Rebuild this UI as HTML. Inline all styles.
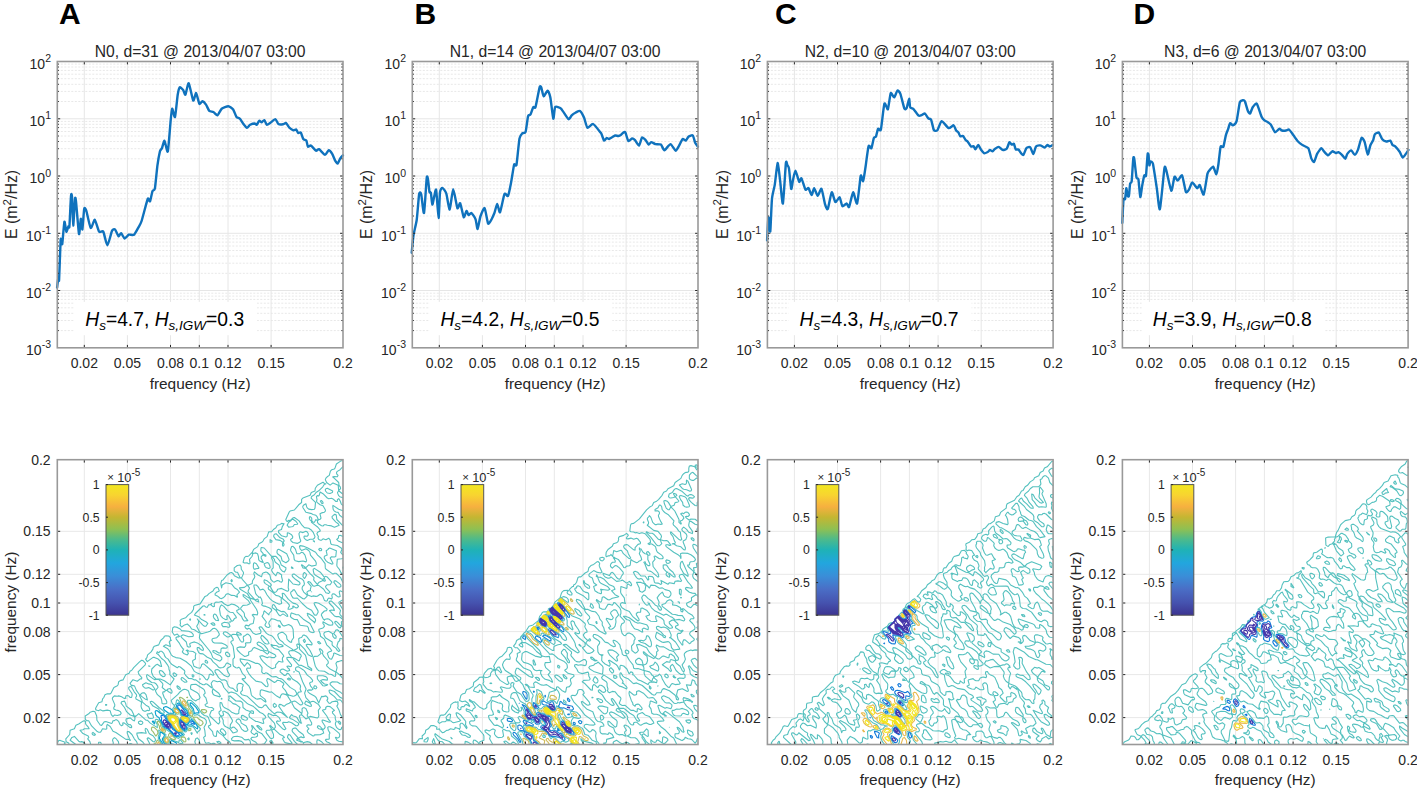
<!DOCTYPE html><html><head><meta charset="utf-8"><style>html,body{margin:0;padding:0;background:#fff;width:1417px;height:789px;overflow:hidden}svg{display:block}text{font-family:"Liberation Sans",sans-serif}</style></head><body>
<svg width="1417" height="789" viewBox="0 0 1417 789">
<rect width="1417" height="789" fill="#fff"/>
<text x="59.1" y="24.2" font-size="30" font-weight="bold" fill="#000">A</text>
<text x="200.1" y="56.7" font-size="15.7" text-anchor="middle" fill="#262626">N0, d=31 @ 2013/04/07 03:00</text>
<path d="M57.3 330.6H343.0M57.3 320.5H343.0M57.3 313.3H343.0M57.3 307.8H343.0M57.3 303.2H343.0M57.3 299.4H343.0M57.3 296.1H343.0M57.3 293.2H343.0M57.3 273.3H343.0M57.3 263.2H343.0M57.3 256.1H343.0M57.3 250.5H343.0M57.3 246.0H343.0M57.3 242.1H343.0M57.3 238.8H343.0M57.3 235.9H343.0M57.3 216.0H343.0M57.3 206.0H343.0M57.3 198.8H343.0M57.3 193.3H343.0M57.3 188.7H343.0M57.3 184.9H343.0M57.3 181.6H343.0M57.3 178.6H343.0M57.3 158.8H343.0M57.3 148.7H343.0M57.3 141.5H343.0M57.3 136.0H343.0M57.3 131.5H343.0M57.3 127.6H343.0M57.3 124.3H343.0M57.3 121.4H343.0M57.3 101.5H343.0M57.3 91.4H343.0M57.3 84.3H343.0M57.3 78.7H343.0M57.3 74.2H343.0M57.3 70.4H343.0M57.3 67.0H343.0M57.3 64.1H343.0" stroke="#e8e8e8" stroke-width="1" stroke-dasharray="2 1.5" fill="none"/>
<path d="M57.3 290.5H343.0M57.3 233.3H343.0M57.3 176.0H343.0M57.3 118.8H343.0M84.3 61.5V347.8M127.4 61.5V347.8M170.5 61.5V347.8M199.3 61.5V347.8M228.0 61.5V347.8M271.1 61.5V347.8" stroke="#e6e6e6" stroke-width="1" fill="none"/>
<rect x="74.1" y="301.9" width="183" height="33.3" fill="#fff"/>
<path d="M57.1 287.5C57.2 286.6 58.1 279.2 58.3 278.4C58.5 277.6 58.9 283.4 59.1 279.6C59.3 275.8 60.4 244.8 60.6 240.8C60.8 236.8 60.9 239.7 61.1 240.0C61.3 240.3 62.0 245.6 62.3 243.8C62.6 242.0 64.0 223.0 64.4 221.8C64.8 220.6 66.0 231.2 66.4 231.7C66.8 232.2 68.1 226.9 68.4 226.4C68.7 225.9 69.1 229.4 69.4 226.4C69.7 223.4 70.7 199.0 71.0 196.0C71.3 193.0 71.8 193.7 72.0 196.7C72.2 199.7 72.9 225.4 73.2 225.6C73.5 225.8 74.7 201.4 75.0 199.0C75.3 196.6 75.6 197.8 76.0 201.3C76.4 204.8 78.5 232.2 79.0 234.0C79.5 235.8 80.5 219.3 80.8 218.8C81.1 218.3 82.1 230.4 82.4 229.4C82.7 228.4 83.8 210.8 84.2 208.9C84.6 207.0 85.5 208.5 86.2 210.4C86.9 212.3 89.8 227.0 90.7 227.9C91.6 228.8 94.0 219.4 94.8 219.8C95.6 220.2 98.2 230.5 99.1 231.7C99.9 232.9 102.5 230.3 103.3 231.7C104.1 233.1 106.5 245.4 107.4 245.3C108.3 245.2 111.2 232.5 112.0 230.9C112.8 229.3 114.3 228.9 115.0 229.4C115.7 229.9 117.9 235.8 118.5 236.2C119.1 236.6 120.5 233.0 121.1 233.2C121.7 233.4 123.8 238.3 124.6 238.5C125.4 238.7 127.8 235.1 128.7 234.7C129.6 234.3 133.0 235.5 134.0 234.7C135.0 233.9 137.8 228.5 138.6 227.1C139.4 225.7 140.7 223.8 141.6 221.0C142.5 218.2 146.9 201.0 147.7 199.0C148.5 197.0 149.5 202.1 150.0 201.3C150.5 200.5 152.0 192.4 152.5 191.1C153.0 189.8 154.4 191.2 154.9 188.6C155.4 186.0 156.9 169.3 157.4 165.6C157.9 161.9 159.5 153.2 159.9 151.5C160.3 149.8 161.4 149.4 161.9 148.3C162.4 147.2 163.9 140.5 164.5 140.8C165.1 141.1 167.2 153.5 167.8 151.5C168.4 149.5 170.2 125.4 170.6 121.1C171.0 116.8 171.8 109.1 172.2 108.7C172.6 108.3 174.4 118.4 175.0 117.0C175.6 115.6 177.2 97.7 177.7 94.7C178.2 91.7 179.2 87.8 179.7 87.3C180.2 86.8 182.4 89.1 183.0 89.8C183.6 90.5 184.8 95.4 185.4 94.7C186.0 94.0 187.9 82.6 188.7 83.2C189.5 83.8 192.5 99.5 193.2 100.5C193.9 101.5 195.5 92.8 196.1 93.1C196.7 93.4 198.8 103.0 199.4 103.8C200.0 104.6 201.7 101.2 202.4 101.3C203.1 101.4 205.3 103.6 206.0 104.6C206.7 105.6 208.6 110.2 209.3 110.9C210.0 111.6 212.6 111.6 213.4 112.0C214.2 112.4 216.7 115.6 217.5 115.3C218.3 115.0 220.6 109.6 221.7 108.7C222.8 107.8 227.2 106.1 228.3 106.2C229.5 106.3 232.4 108.4 233.2 109.5C234.0 110.6 235.8 116.1 236.5 117.0C237.2 117.9 239.1 117.9 239.8 118.6C240.5 119.2 242.4 122.6 243.1 123.5C243.8 124.4 246.3 127.8 247.0 127.9C247.7 128.0 249.3 125.2 250.1 124.8C250.9 124.4 253.9 123.5 254.6 123.5C255.3 123.5 256.2 125.1 256.7 124.8C257.2 124.5 258.7 121.0 259.2 120.8C259.7 120.5 261.2 122.4 261.7 122.3C262.2 122.2 263.8 119.8 264.3 120.1C264.8 120.3 266.2 124.5 266.8 124.8C267.4 125.1 269.5 123.4 270.4 122.8C271.3 122.2 274.6 119.0 275.4 119.1C276.2 119.2 277.7 123.6 278.5 124.1C279.3 124.6 282.2 124.4 283.0 124.3C283.8 124.2 285.4 122.7 286.1 123.1C286.8 123.5 288.8 127.2 289.6 127.9C290.4 128.6 293.0 130.2 293.7 130.4C294.4 130.6 295.8 129.1 296.2 129.4C296.6 129.7 297.7 132.7 298.2 133.0C298.7 133.3 300.3 131.9 300.8 132.5C301.3 133.1 302.7 138.2 303.3 139.0C303.9 139.8 305.9 139.8 306.4 140.6C306.9 141.4 307.4 146.2 307.9 146.7C308.3 147.2 310.1 145.2 310.9 145.6C311.7 146.0 315.2 150.3 316.0 150.7C316.8 151.1 318.1 148.8 319.0 149.2C319.9 149.6 324.1 154.7 325.1 154.8C326.1 154.9 328.0 150.3 328.7 150.2C329.4 150.1 331.5 152.7 332.2 153.8C332.9 154.9 334.7 159.9 335.3 160.9C335.9 161.9 337.3 163.7 337.8 163.4C338.3 163.1 339.8 159.1 340.3 158.3C340.8 157.5 342.6 155.6 342.9 155.3" stroke="#0f72bd" stroke-width="2.4" fill="none" stroke-linejoin="round" stroke-linecap="round"/>
<path d="M57.3 290.5h2.9M343.0 290.5h-2.9M57.3 233.3h2.9M343.0 233.3h-2.9M57.3 176.0h2.9M343.0 176.0h-2.9M57.3 118.8h2.9M343.0 118.8h-2.9M57.3 330.6h1.6M343.0 330.6h-1.6M57.3 320.5h1.6M343.0 320.5h-1.6M57.3 313.3h1.6M343.0 313.3h-1.6M57.3 307.8h1.6M343.0 307.8h-1.6M57.3 303.2h1.6M343.0 303.2h-1.6M57.3 299.4h1.6M343.0 299.4h-1.6M57.3 296.1h1.6M343.0 296.1h-1.6M57.3 293.2h1.6M343.0 293.2h-1.6M57.3 273.3h1.6M343.0 273.3h-1.6M57.3 263.2h1.6M343.0 263.2h-1.6M57.3 256.1h1.6M343.0 256.1h-1.6M57.3 250.5h1.6M343.0 250.5h-1.6M57.3 246.0h1.6M343.0 246.0h-1.6M57.3 242.1h1.6M343.0 242.1h-1.6M57.3 238.8h1.6M343.0 238.8h-1.6M57.3 235.9h1.6M343.0 235.9h-1.6M57.3 216.0h1.6M343.0 216.0h-1.6M57.3 206.0h1.6M343.0 206.0h-1.6M57.3 198.8h1.6M343.0 198.8h-1.6M57.3 193.3h1.6M343.0 193.3h-1.6M57.3 188.7h1.6M343.0 188.7h-1.6M57.3 184.9h1.6M343.0 184.9h-1.6M57.3 181.6h1.6M343.0 181.6h-1.6M57.3 178.6h1.6M343.0 178.6h-1.6M57.3 158.8h1.6M343.0 158.8h-1.6M57.3 148.7h1.6M343.0 148.7h-1.6M57.3 141.5h1.6M343.0 141.5h-1.6M57.3 136.0h1.6M343.0 136.0h-1.6M57.3 131.5h1.6M343.0 131.5h-1.6M57.3 127.6h1.6M343.0 127.6h-1.6M57.3 124.3h1.6M343.0 124.3h-1.6M57.3 121.4h1.6M343.0 121.4h-1.6M57.3 101.5h1.6M343.0 101.5h-1.6M57.3 91.4h1.6M343.0 91.4h-1.6M57.3 84.3h1.6M343.0 84.3h-1.6M57.3 78.7h1.6M343.0 78.7h-1.6M57.3 74.2h1.6M343.0 74.2h-1.6M57.3 70.4h1.6M343.0 70.4h-1.6M57.3 67.0h1.6M343.0 67.0h-1.6M57.3 64.1h1.6M343.0 64.1h-1.6M84.3 61.5v2.9M84.3 347.8v-2.9M127.4 61.5v2.9M127.4 347.8v-2.9M170.5 61.5v2.9M170.5 347.8v-2.9M199.3 61.5v2.9M199.3 347.8v-2.9M228.0 61.5v2.9M228.0 347.8v-2.9M271.1 61.5v2.9M271.1 347.8v-2.9" stroke="#262626" stroke-width="1" fill="none"/>
<rect x="57.3" y="61.5" width="285.7" height="286.3" fill="none" stroke="#999" stroke-width="1.6"/>
<text x="51.0" y="355.2" font-size="14" text-anchor="end" fill="#262626">10<tspan font-size="10.5" dy="-6.8">-3</tspan></text>
<text x="51.0" y="297.9" font-size="14" text-anchor="end" fill="#262626">10<tspan font-size="10.5" dy="-6.8">-2</tspan></text>
<text x="51.0" y="240.7" font-size="14" text-anchor="end" fill="#262626">10<tspan font-size="10.5" dy="-6.8">-1</tspan></text>
<text x="51.0" y="183.4" font-size="14" text-anchor="end" fill="#262626">10<tspan font-size="10.5" dy="-6.8">0</tspan></text>
<text x="51.0" y="126.2" font-size="14" text-anchor="end" fill="#262626">10<tspan font-size="10.5" dy="-6.8">1</tspan></text>
<text x="51.0" y="68.9" font-size="14" text-anchor="end" fill="#262626">10<tspan font-size="10.5" dy="-6.8">2</tspan></text>
<text x="84.3" y="368" font-size="14" text-anchor="middle" fill="#262626">0.02</text>
<text x="127.4" y="368" font-size="14" text-anchor="middle" fill="#262626">0.05</text>
<text x="170.5" y="368" font-size="14" text-anchor="middle" fill="#262626">0.08</text>
<text x="199.3" y="368" font-size="14" text-anchor="middle" fill="#262626">0.1</text>
<text x="228.0" y="368" font-size="14" text-anchor="middle" fill="#262626">0.12</text>
<text x="271.1" y="368" font-size="14" text-anchor="middle" fill="#262626">0.15</text>
<text x="343.0" y="368" font-size="14" text-anchor="middle" fill="#262626">0.2</text>
<text x="200.1" y="388.9" font-size="15.4" text-anchor="middle" fill="#262626">frequency (Hz)</text>
<text transform="translate(17.4 204.4) rotate(-90)" font-size="15.9" text-anchor="middle" fill="#262626">E (m<tspan font-size="11.5" dy="-6.5">2</tspan><tspan dy="6.5">/Hz)</tspan></text>
<text x="85.2" y="325.8" font-size="19.3" fill="#000"><tspan font-style="italic">H</tspan><tspan font-size="13.5" font-style="italic" dy="3.7">s</tspan><tspan dy="-3.7">=4.7, </tspan><tspan font-style="italic">H</tspan><tspan font-size="13.5" font-style="italic" dy="3.7">s,IGW</tspan><tspan dy="-3.7">=0.3</tspan></text>
<path d="M84.3 459.7V744.5M57.3 717.6H343.0M127.4 459.7V744.5M57.3 674.6H343.0M170.5 459.7V744.5M57.3 631.6H343.0M199.3 459.7V744.5M57.3 603.0H343.0M228.0 459.7V744.5M57.3 574.3H343.0M271.1 459.7V744.5M57.3 531.3H343.0" stroke="#e8e8e8" stroke-width="1" fill="none"/>
<path d="M343 497.8l-3.2-1.1-1.1-1-0.8-1.8-0.4-1.4 1-1.5 0.1-1.4-0.4-4.3-5.2-2.4-2.9 2.2-3.5-2.6-1.3-2.9 0.6-1.4 1.3-1.4 2.1-1.4 1.1-4.3 1.2-1.3 2.8-0.9 0.6-0.7 1.4-4.2 4.2-2.9 1-0.4 1.4 0M343 466.5l-2.9 3.2-2.8 1.7-0.8 1.1 0.2 1.4 1.3 1.5-0.7 1.4-2.9-0.3-1.6 0.3 0.2 0.6 1.4 0.9 4.3 4.2 0.3 2.8 1.1 1.3 0.5 1.6-0.5 1-1 0.4-0.1 1.4 4 3.2M137.3 744.5l-0.1-1.4-0.6-1.4-2.3-2.9-2.4-4.3-3.2-3-1.4 0.1-0.1 1.5 2.2 5.7-0.7 0.7-2.8-0.1-10-6.9-2.9-1.2-2.8-4.8-2.9-2.1-0.6 1.6 0.1 2.8-0.9 0.4-3.4-0.4-1.6 2.9-0.7 0.5-1.5 0-1.4-0.6-5.7-5.7-2.9-5.2-1.4 0-1.4-0.7-0.6-1.1-0.1-2.9 3.5-2.2 1.5-1.6 2.8-0.9 1.4 0.2 0.5 0.2 1.8 4.3 0.2 4.3 3.3 4.7 1.4 0.4 2.8-3.7 1.5-0.1 5.7 1.8 0.5-0.3 0.9-2.3 1.4-0.2 1.5-1 1.4 0.6 1.5 1.5 1.2 2.9 1.6 1.1 1.4-1-0.3-1.6 0.3-0.3 1.5 0.3 5.3 4.3 1.8 0.2 0-1.6-1.3-1.4-1.6 0.1-1.7-1.6-1.1-2.8 0.3-1.4 4-1 2.8 2.4 1.4 0.6 0.6-2-0.3-1.5 4-3.8 7.2 6.6 1.7 0.1 2.7 2.8 7 4.5-0.1-3-2.2-4.3 0.9-1 1.4 0.2 1.4 0.8 2.7 2.8 0.6 2.9 0.9 1.4 8.5 5.7 3 3.7 4.3 1.6 0.6-1 3.7-1.6 1.4-1.3-1.4-1.6-4.3-0.6-1.4-0.8-3-2.7-1.2-1.4-1.2-2.8-3.9-4.3-1.4-4.3-0.1-1.4 0.8-0.4 2.9 0.4 1.4-0.4 2.8 0.6 1.7-0.2-2.2-2.9-1.2-2.8 1.7-2.5 4.7 3.9 1.2 2.9-0.1 1.7 2.6 1.1 4.5 0.9 1.2 0.5 1.3 1.5-1.1 3.3-1.4 0.8-1.4 0.1-1.5-0.5-4.2-4.2-0.7 0.5-0.5 1.4 0.4 4.3 0.8 2.8 1.4 1.7 2.8 2.5 1.5 0.3 1.3-1.6 0.5-2.9 1-0.7 2.9-0.3 1.4 0.6 1.4 1.4 2.9 4.8 0.5-1.5 2-1.4 0.7-1.5-7.5-9.4-2.8-2.2-2.6-6.9-4.6-3.9-4.3-5.6-1.4-1-0.8 0.6-0.6 3.5-1.5 1.7-2.3-2.4-0.9-2.8 6.5-5.7 2.5-3 2.8-2.1 1.4-0.2 1.5 0.1 2 0.9 0.9 1.4 0.7 2.9 2.1 3.4 1.4 1.4 2.9 1.4 1.4-1.2 2-0.8 0.8-1.4-1.4-3.4-1.4-1.3-6.7-3.8 0-2.9 0.5-1.4 0.5-0.1 4.3-0.3 7.1 4.4 1.4 1.4 0.8 3.1-1.5 1.5 0.5 1.4 1.7 1.8 1.4 5.3-2.3 1.4 0.6 1.5 3.1 1.2 3.2 0.2 1.9 1.4-0.7 1.4-1.5 0.3-0.7 1.1-1.1 2.9 0.1 1.4 7.4 7.2 1.4 0.7 1.2-2.2-0.7-2.8 0.3-1.5 2-1.4-1.4-0.8-1.1-2 0.1-1.5 2.1-1.4-1.2-4.2 0.1-3.6 1.5 0.2 1.3 3.4 1.3 1.4 4.5 2.2 2.9 2.5 4.3 1.7 1.4 0.1 1.5-0.8 0.1-2.9 1.1-2.8-4.1-3.1-2.9-0.8-2.9-2.7-1.5-0.5 0.1-1.2 0.5-0.3-0.5-2.8 1.4-0.1 5.8 5 4.2 0.1 1.5 0.7 1.2 1.4 0.2 4.3 2.9 2.4 4.2 1.5 1.5-0.7 1.4 0.4 0.5 0.6 0 1.5-0.5 0.4-2.9-1.1-1.1 2.1 0.1 1.4 0.8 1.4 6 4.1 1.4 0 5.7 2.1 0.8-0.5-1-4.2 1.6 0.1 1.4-1.6-0.6-1.4-2.2-2.2-2.9-1.3-7.1-6.3-3.9-1.6-2.2-1.4-11-9.8-4.3-1.4-1.5 0.2-1.4 1-4.8-5.7-1.7-4.2-2.1-2-2.8 0.4-2.9-1-1.4 0-1.8 2.6 1.1 4.2-0.7 0.2-4.3-3.5-1.4-0.5-1.5 1.1-1.4-0.1-2.9-1.4-4.2-3.4-1.5 0-2.8-1.3-2.9-0.1-2.8-2.8-1.6-2.4 0.6-1.4-0.4-1.4-4.3-3.5-1.5-0.5-1.4 1.3-5.7-3.6-1.4-1.6-2.1-3.5-2.2-1.5-1.1-1.4-1-2.8-2.2-2.2-1.4 0-1.5 1.6-1.4-1-0.8 1.6 2.1 1.4 3 3.7 2.8 2.1 3.1 4.2 1.4 2.8 0 1.4 1 2.9-0.1 2.8 4.3 4.3-3.9 5.9-5.8-4.1-4.2-1.8-4.3-0.3-1.5-1.2-1.4-1.7-1.1-2.5-0.4-1.4 0.3-2.9 4.1-4.1 1.4-0.6 2.9 2 1.4 0.1-1.4-5.4-2-1.9-3.8-1.7-1.4 0-5.7 4.2-1.7-2.5 1.3-1.5 0.7-2.8 3.5-2.9 1.8-2.8 0.3-1.4 1.2-1.5 4.3-1.3 1.9-4.4 3.2-2.8 0.5-1.4 1.6-0.5 2.8 0.2 1.8 1.7-0.1 1.4 0.9 1.4-1.1 0.1-1 1.4 1.2 4.2-0.2 0.3-4.3-1.7-2.5 1.4 3.9 2.2 1.4 1.4 2.6 5 1.4 1.4 3.2 1.4 4.3 0.6 5.7 3.3 5.5 4.7 3 5.2 2.9 1.7 4.3 1.7 1.7 1.3 2.6 3.4 1.4 0.5 1.5-2.4 0.4-2.9 0.9-0.6 2.9 1.1 0.9-0.5-1.3-2.8-1.3-1.4-6.9-6.2-1.4-0.5-1.4 0.9-0.3 1.5-1.2 2-2.8-0.4-3.4-1.6-1.3-4.3 0.2-1.4 2.7-1.4-0.2-2.9 0.6-2.8-2.9-1.9-4.3-0.5-1.4-1-1.1 0.5 1.1 0.5 1.1 2.4-1.1 1.5-3.7-1.5-1.3-1.5 1.4-2.8-0.7-0.2-2-2.7-1.5-2.8-3.3-4.3-0.3-1.4 1.4-1 1.4 0.2 0.8-0.6-2.2-2.2-2.9 1.1-2.2-3.2 0.6-4.3 1.6-0.9 2.9 0.6 2.9 1.6 1.4 1.6 7.1 0.7 2.9 1.3 1.4 1.6 0.4 0.7-0.4 1.5-4.3 0.4-5.7-2.1-2.2 1.6 0.9 1.4 4.6 4.3 1 4.4 1.4 0.7 1.5-0.3 0.3-0.6-0.7-1.4 0.1-1.4 1.7-0.7 2.8-0.8 2.9 1 4.3 2.9 1.9 3.3-0.5 1.5-1.4-0.5-2.9-2.6-1.4 0.1-0.2 1.5 1.6 3.4 1.4 1.1 2.9 0.3 4.3 3.3 3.9 1.9 1.9 2.8 3.5 2.9 2.1 2.5 1.4 0.6 2.9-0.4 1.7-1.3 1.7-2.9 0.9-0.4 3.4 1.9 0 1.4-3.4 2.1-0.4 0.7 0.9 2.9 1.9 2.8-1 1.8-1.4 0.3-2.9-1.2-5.7-5.5-1.4-0.5-1.4 0.2-0.9 0.7 0 1.4 3.6 5.7 3 2.5 2.8-0.4 1.5 0.7 1.2 1.4 0.1 1.5 1.3 2.8 1.6 1.6 2.9 0.7 2.9 2.8 1.4 0.2 0.3-1-0.7-2.9 0.4-2.8 1.4-1.4 2.9 0.3 1.5 1.1 0 1.4-0.8 1.4 0.1 2.9-1.5 1.4-0.3 1.4 1.3 1.5 5.4 1.6 11.4 10.8 2.9 0.7 1.4-0.9 1.4-1.7 1.5-0.3 3 4 5.5 4.9 2.9-1.8 2.8 0.2 1.5 0.5 5.8 4.7-4.4-5.1-4.3-6.2 0.5-1.5 0.9-0.2 1.5 0.3 1.4 1.2 1.4 0.2 1.7-1.5 3.1-1.4 2-1.4-3.5-5.7 1-1.2 4.3 1.4 1.4-0.3 2.1-1.3 0.2-1.5-1.5-2.8-5.1-3-7.1-7.6-1.4-0.9-2.9-0.7-2.8-1.6-2.9 0.3-1.4-0.4-4.3-3.3-1.4-0.5-1.5 0.9-1.5-0.3-1.2-1.4 0.4-4.3-2-2.8-1.4-1.1-1.4-0.5-1.4 0.2-7.2-3.1-8.6-1.4 0.2 1.6 0.7 1.4 3.4 4.3 2.9-3.5 2.4 2.1 0.8 1.4 0.1 1.4-0.5 0.6-2.8-0.2-0.8 1 0.6 1.5 1.5 2.8 3 3.8 4.3 4 5.7 1.2 4.3 4.2 1.4 0.2 0.6-0.6 0.2-1.4-1.4-4.3 0.6-1.8 1.4 0.2 5.7 3.7 1.4-0.7 1.5-1.6 2.8 0.5 3.5 2.6 0.2 1.4-1.2 1.4 0.1 1.4 2.6 2.9 1.7 2.8-1.1 1.4-2.9-0.8-1.4 0.5-1.1 1.8-0.4 1.8-3.4-1.8-5.1-4.3-1.5 0.4-1.4-0.3-7.1-2.1-1.2 0.6-0.4 4.3 0.9 1.4 3.7 2.8 1 1.5-1.2 1-2.8-2.3-1.5-0.5-2.8 0.5-1.4-0.3-3.6-2.7-1-1.4-1-5.7-1.3-2.9-6.9-7.1 0.9-0.5 1.4 0.3 1.2-1.2-0.5-1.5-2.8-2.8-2.2-4.9-1.4-1.1-1.4 0.7-1.4-0.2-2.3-1.6-0.6-1.4 0-5.7 1.5-1.5 0-1.4-1.4-10-2.4-4.2 0.9-1 1.5-0.5 0.1-1.4-1.6-2.7-0.5-0.1 0.6-1.4 1.3-0.7 2.9 0.3 1.4 0.8 2.8 5 1.5 1.7 1.4 0 0.7-1.5-0.5-2.8 0.3-1.4 0.9-0.2 2.9-2.1 1.4 0.6 1.7 1.7 0.7 2.8-0.4 2.9-0.6 0.6-4.2 0.3-0.5 0.5 0.5 1.4-0.4 1.4-1.1 1.2-4.3-0.5-2.9 0.8-0.3 1.4 0.8 1.4 2.8 2.9 3.9 3 1.5-0.1 2.8-1.4-0.1-3 3-1.1 1.4-2.6 1.4-0.8 5.7 2.7 2.9 0.7 4.3 3.3 1-0.7 0.4-2 6.4 3.4 0.9 1.4-1.6 1.4-2.8 0-1.5-0.6-1.4 0-1.4 0.8-4.3-1.9-1.4-0.2-1.8 0.5 1.3 2.9 2.2 2.8 4 3.7 4.3 2.9 1.4 0.1 2.6-1 0.1-2.8 3-3.5 2.9 0.7 1.4-0.1-0.7-2.8 0.3-1.5 1.2-1.4-0.7-1.4-4.4-5.2-4.3-1.1-2.7-2.3 1.3-1 2.9 0.3 1.4 0.5 1.4 1.2 4.3-0.8 0-0.6-1.5-1-2.8-0.8-1.4-1.3-3.6-5-2.1-2-2.9-0.9-2.2-1.4-4.9-6.3-1.5-0.3-1.1 0.9 1.8 2.9 0.2 1.4-0.5 1.4-4.6 1.1-2.9-1.5-2.9-4.1-1.4-0.7-1.4 1-2-1.5-0.4-1.4 1-1.2 2.8 0.8 1.4-1.6 3.1-0.8 1.1-5.7-2.1-2.9 0.8-0.5 4.3 0.5 0.4-1.4-0.1-1.4-1.1-2.9-5.7-8.5-0.7-1.4 0-1.2 4.3 1.3 1.2 1.3 3.2 1.4-0.8-2.8-0.7-0.3-1.4 0.9-1.5-0.7-6.3-7.1 0.1-1.4 1.3-2.8-2.2-2.8-2.9 2.3-4.9 0.5 0.7 1.4 7.2 4.3 2.5 4.2-1.2 0.1-4.3-2.8-1.4-0.5 0.3 1.8 5.1 4.3 1.9 2.8-3 1.5-4.3 0.4-2.2 2.4-0.1 1.4 2.8 2.9 0.8 1.4 0.3 2.8 3.2 4.3-3.4 0.4-0.5-0.4-1.2-1.4-1.2-2.9-4.4-4.2-0.4-1.5 2.6-1.4-0.4-1.4-1.3-1.4-2.6-1.5-3.4-0.9-2.9 1.4-1.4 0.2-2.9-1.6-2.8-2.5-2.9 0.8-2.9-0.2-1.6 1.4 0.2 2.9-1.4 0.3-2.1-1.8 1-1.4-0.3 0-1.5 1.3-1.6 0.1-1.2 2.3-1.4-0.1-1.5-1.2-1.4 0.1-7.6 7.5-1 1.5 4.3 1.7 2.9 2.9 4.3 2.1 1.9 1.8-1.9 2.8-1.5 0-1.8-1.4-5.3-5.9 1.2 1.6 0 1.4-0.2 1.5-1.6 2.8 2.9 5.7-0.9 0.6-4.3-2.9-2.8-0.7-1.7-2.7-2.6-2.3-2.7 0.9-3 2.1-1.6-2.1 0.5-1.4-0.4-2.9 1.3-1.4 4.2-1.4 2.7-2.9 3.3-2.5 1.9-3.2 0.2-2.8 0.7-0.9 5.7-1.6 4.9-7.5 2.3-1 1.6-1.8 4.1-2.6 1.4-2.4 1.5-1 1.4-0.2 0.8 0.5 1.1 2.8-0.5 0.8-1.4 0.3-2.2 1.8 0 1.4 2.2 0.9 2.8 2.3 1.5 0.4 1.6-0.8 1.6-1.4 1.1-2 1.4-0.7 1.4 0.2 2.9 1.5 2.8 0.1 2.9 1.7 0.2-0.8-0.7-1.4 2.7-2.9-2.2-2.6-2.9-1.8-2.8-3.7-5.7-1.2-3.7 2.2-0.6 2.9-0.8-4.3 0.8-3 1.4-0.7 4-4.9 3.1-2.3 1.5-0.1 1.4 0.8 1.4 2.3 4.3 2.3 2.8-0.1-1.4-0.2-2.6-5.5-1.8 0-1.5-1.4 0-2.9 3.1-2.4 2.8-0.5 1 1.5 0.2 2.8 2.1 2.9 0.1 1.4-1.9 4.3 0.7 1.4 5 5.7 1.4 0 3.5-1.4 0.3-2.9 1.9-2.8 0.4-1.4-1-2.9 0.6-1.8 3.7 3.2 3.5 1.7 0.8-3.1 0.6-0.5 2.9-1.1 1.4 0.5 2.6 2.5 0.9 4.3 2.2 2.4 1.4 0.4 2.9-1.6 1.4 0.2 1.4 1.1 1.5 0.3 1-1.4-1.1-4.2 0.2-1.5-3-2.3-1.4-0.3-1.4 3.4-2.9-2.9-1.3-2.1 0.1-1.5 1.4-1.4-0.1-5.7-0.2-1.4-1.4-2.8 0.1-0.6 1.4-0.6 0.2 1.2 1.3 1.4 0.1 1.4 0.8 1.4 3.7 2.9 1 3.4 1.5 1.8 1.4 1.3 1.4 0.5 1.5-2.8 0-1.6-4.6-2.6-1.5-4.3-2.4-2.8-1.5-1.6-4.3 0-7.4-8.4-2.6-0.5-0.6 0.5-0.2 2.8 2.4 2.9-0.3 1.4-1.6 1.4-0.2 1.5 1.4 2.8-0.9 1.2-2.2-1.2-0.7-1.2-0.3-3.1-0.9-2.8-1.6-0.8-2.9 0.6-0.7-1.2 1.3-2.9 4.1-2.8 1.2-2.9 2.8-1.4 1.3-1.2 1.4-2.5 2.7-2 1.6-4.7 2.9-0.1 1.8-2.3 2.5-1.7 1.4-2.5 2.8-0.9 1.5-1 2.5 0.4-1.8 2.8-0.8 2.9-2.8 1.1-0.2 1.7 3.1 3.5 4.3 1.2 1-0.4 0.4-1.2 0-2.5 1.4 0.1 2.9 1.7 1.1 1.9-0.1 1.4-2 1.4 0.4 1.5 2 1.6 4.3 0.9 2.8-1.5 0.7-1-1.1-2.9-0.8-4.3 1.2-1.9 2.9 0.8 2.9-1.4 1.4 0.8 1 1.7-0.1 1.5-0.9 1-2.9-0.1-0.4 0.5 0.1 1.4 1.3 1.4 1.9 1 2.8-1.1 2.9 0 1.5-1.3 0.5-1.4-1.8-4.3-1.6-2-2.9-2-4.3-0.7-2.4-2.4-2.9-4.3-4.7-3.4-1.4 0.3-2.9 2.8-1.4-0.2-1.4 1.1-0.9-0.6-0.6-1.4 3.2-7.1 1.1-1.4 4.3-1 4.3-5.2 2.9-2.3 0-3.1 1.3-1.3 7.2-2.8 1.2-2.8 3.7-1.5 0.3-2.8 2.1-2.9 5.6-3.1 1.4 1.3 1.4 0.4-1.4 0.4-1.6 2.5-4.1 4-2.7 1.7-1.6 2.3-2.8 1.6-0.5 1.7 4.4 4.3-0.5 5.7-0.6 1.2-2.8 0.3-2.9-0.5-1.2-1-0.9-1.4-0.7-3-2.5 1.6-0.7 1.4 0.3 1 2.9 4.6 5.7 1.3 1.4 0.9 2.9 0.8 1.2 1.4 1.2 2.8-1 1-1.4-0.9-1.5 2.7-1.4-0.2-1.2-1.2-0.1-2.8-1.3-1.4-0.8 0-0.3 1.4 0.8 2 1.2 0.8 0.2 1.5 5.8 4.3 2.5 2.8 0.5 1.4-2.7 1.4-0.7 1.4 1.5 2.9-0.4 1.4 0.8 1.4 1.3 0.7 1.5 0.1 1.4-1.4 2.9 1 2.8-1.6 1.4 1.7 0.7 3.8 0.8 0.8 5.7 1 3.9 2.5 0.8 1.4-1.3 2.9 2.3 2.8M331.6 492.8l-1.5 0.7-2.8-0.5-1.8-2-0.2-1.4 0.6-0.9 1.4-0.4 5.4 2.7-0.3 1.5-0.8 0.3M343 525.8l-6.2-6.3-0.5-4.3-0.4-0.6-1.5-0.2-2.4 2.3 0.3 1.4 3.6 4 2.3 1.7 0.9 1.4-0.4 0.3-4.3 1.8-2.8-1.4-4.3-0.6-1.4-0.6-1.5 0-1.4 1.3-1.4-0.2-3.2-2-0.9-1.4 0-1.5 1.2-1.2 1.4-0.4 0.9-1.2-1-4.3 1.6-0.9 2.8-0.7 1.1-1.2-0.3-1.5-2.2-3.7-2.9-1-3.1-2.4-0.5-1.4 0.5-1.4-0.6-2.9 0.9-1.1 1.4 0.3 0.5-0.6 0.9-3.3 2.9 1.7 4.3 4.3 1.4 0.7 2.9-0.4 1.4 0.6 2.9 2.6 1.4-0.1 0.1-1.8 1.3-1 1.5 2.4 1 2.8 1.8 1.9M323 503.8l0-1.4-1.4-1.9-1.3 0.5 1.3 2.2 1.4 0.6M343 510.8l-4.3-1.6-5.7-3.8-0.2 1.3 0.4 2.8 1.2 1.6 1.5 0.9 2.3 0.4 1.5 2.8 3.3 2.7M291.6 526.8l-2.9 0.3-1.6-1.9 1.6-2.9 2.1-1.4 0.8-1.3 1.4-0.3 2.9 2 1.8 2.5-0.4 0.5-2.9 0.2-1.4 2-1.4 0.3M284.2 545.1l-0.9-2.8 0.9-1.4-1.2-2-2.9-1.1-4-4.1-1.7 0.5-0.6 1-0.1 1.4 2.2 3 4.2 0.8 2.7 1.9-0.4 2.8 0.6 1.2 1.2-1.2M343 543.1l-4.7-2.2-1.6-1.5 1.7-1.4 0.3-2.2 1.4-0.6 2.9 1.2M271.6 542.3l0.5-1.4-2-1.3 0 2.7 1.5 0M314.5 540.9l-1.3 0 1.2 1 0.1-1M306.7 560.8l-1.7-5.7-2-2.4-1.4-0.5-1.8 1.5-3 0-1.3-4.3-0.9-1.4-1.6-1.6-1.4 0.1-1 2.9 0.1 1.4 3 4.3 0.5 4.3 1.1 1.4 3.4 0.8 4.3-0.6 2.9 0.9 0.8-1.1M343 582.7l-2.2-4.8-3.5-3.6-1.4-1-1.5-0.1-1.4 0.9-6.9-4.8-0.8-1.4-0.2-4.2-4.2-5.7-3.3-2.9-2-2.8-8.3-4.6-4.3-1.6-2.9-0.5-0.6 1 0.6 2.2 1.5 1.7 4.3-1.8 2.8 1.8 1.2 1.8 0.6 2.8 4.8 5.7 0.7 1.4 0.3 1.5-0.4 1.6-4.3 0.8-2.9-1.3-2.8 2.9-2.9-2.1-1.4-0.8-0.2 0.3 1.6 2.8 2.9 0.5 4.2 5.3 3.1 2.8 0.9 1.4-0.5 1.4 0.5 1.4 3.2 3.6 1.8-2.1 3.3-1.5 0.6-1.2 0.5 1.2 0.9 0.5 1-0.5-1-2.5-1.4 1-1.4-0.2-6.5-4-1.1-1.4-0.7-2.8-0.1-1.5 1.2-0.9 5.9 3.8 4.1 5.2 0.8-0.9 0.7-0.1 1.4 0.7 4.5 5.1-1.7 2.5-2.8 0-1.8 1.7 0.5 1.5 4 4.2-1.3 1.4-2.8-0.8-2.2-3.4-5-3.9-1.4-0.1-2.9 0.9-1.4-0.3-2.8-3.7-1.5-0.6-1.1 0.6 3.6 4.2-0.9 2.9 0.2 1.4-1.8 0.1-1.8 1.3 0.8 2.9 3.9 1.6 1.4-0.7 2.9 0.5 1.4-0.2 2.8-2 1.5 0.6 1.3 1.6 1.5 4 1.5 0.7 1.4-0.4 0.3-1.4 1.1-1.3 2.9 0.9 0.7-1.1-0.5-2.8 1.2-1.3 1.4 0.3 2.9 2.4 1.4 0.5 1.5-0.5-1-4.3 0.8-1.4 3 1.4M333.2 563.7l-3-5.7 1.4-1.3 2.8 0.3 1.4-0.5 0.6-5.7-6.7-2.8-1 0.4-0.6 1-1.9 1.4 1 4.3-2.8 1.1-0.2 1.8 1.7 2.6 1.7 1.6 4 1.9 1.6-0.4M286.6 562.2l2-1.4 0.5-1.4-2.4-5.7-6.6-3.8-1.4-0.7-0.6 0.2-0.8 0.7-0.4 2.2 0.6 1.4 3.5 2.8 1.2 4.3 3.7 1.9 0.7-0.5M320.8 550.8l0.8-0.5 0-1.2-1.5-0.8-1.4 1 1.3 1.5 0.8 0M250.1 563.7l-1.4 0-1.4-0.8-2.9 0.1-1.3-0.8 1.3-4.6 1.5-1.2 1.4 0.1 1.4-0.5 2.9-3.2 1.3 0.9-0.9 2.8-2.5 2.9 0.6 4.3M265.9 556.6l-2.7-1.5 1.2-0.6 1.5 0.6 0 1.5M343 558.2l-1.4 0.6-4.3 0.5-0.5 5.8 0.3 1.4 2.3 2.8 1.3 2.9 1.1 1.4 1.2 0.6M263 562.5l-0.9-0.3 0.9-0.4 0.4 0.4-0.4 0.3M254.4 569.6l-0.9-1.7-0.2-1.4 0.2-2.8 0.9-1 2 1 2.5 4.2-0.2 0.5-2.8 0.4-1.5 0.8M270.1 568l-1.4 0.5-2.8-1.1-0.8-0.9-1-2.8 3.2-1.1 1.4 0.7 1.4 3.2 0 1.5M293.2 567.9l-1.6-1-0.2 1 1.6 0.5 0.2-0.5M343 568.6l-0.3-0.7 0.3-1.2M305 577.9l1.6-2.9-0.6-1.4-1.6-1.1-1.1 1.1-0.4 2.9 1.5 2 0.6-0.6M343 655.8l-2.9-0.3-5.7-2.5-0.8 0.4 0.1 1.4-2 4.3-1.6-0.1-1.4-1.6-1.4-4 1.4-1.3 2.9-1.1 0.1-0.5-2.1-2.8-2.9-2.9-2.4-5.7-3.8-2.8-0.4-2.9-1.3-2.8 0.1-1.4 4.1-1.3 1.4-1.6-0.3-1.4-1.2-1.4 0.1-1.8 5.6 3.2 1.5 0.4 2.5-0.4 0.3-1.4-0.5-1.5-1.3-1.4-2.4-1.6-1.4-0.3-2.1 0.5-0.8 1-1.4-1.6-1.7-3.7 0.6-1.4 2.5-2.5 2.2-0.4 0.5-1.4-2.7-2.6-5.7-3.4-2.8-0.7-1.5 0.3-0.3 0.7 0.5 1.4 3.3 5.7 0.3 1.5-1.6 2.8-0.7 0.4-1.5-0.4-2.8-4.6-4.3-2.2-5-4.6-5-5.5-2.9 0.3-1.4-0.4-1.4-2.2-0.9-2.1 0.1-1.5 1.9-1.4 0.3-0.8 1.4-0.2 3.1 5.3 5.5 3.7 1.4 0.2 2.6-2.5 0-1.4-3.3-2.9-1.5-2.8-0.1-1.4 0.5-1.5 1.5-1.4 0.3-1.4-0.8-2.9-1.3-1.4-3.6-1.9-4.3-3.3-1.4-0.1-0.9 1 0.4 1.5 2.9 2.8 4.2 2.9 0.5 1.6-1.4 1.2-5.7-1-4.3-4.8-0.5 8.7 0.5 1.4-0.2 1.4-1.2 0.5-5.7-2.8-4 0.9-0.5 1.4-1.2 1.3-1.5 0.4-1.4-1-2.1-3.5-0.6-1.5 1.1-1.4-1-1.4-3.5-2.9-2.5-0.9-0.4 0.9 0.2 1.5 1.1 1.4 4.5 2.8-1.1 0.4-0.6 1.1 0.5 1.4 3.9 2.8 3.4 3.3 2.8 0.6 2.6 1.8-0.2 2.9 0.5 1.4 0 1.4-1.5 0.6-1.4 0-2.8-1.3-2.9-1.5-2.9-2.4-3-3.9-2.3-4.3-1.8-1.6-2.9 0.9-2.3-3.6-1.6-1.4-2.2 0-0.1 1.4 1.8 7.2 1.6 2.2 1 0.6 0.4 1 1.4-0.5 1.5 2.4 0.9 4.2-0.9 1.4 1.4 1 2.9 0.5 3.3 1.4 2.2 1.4 0.3 1.4-2.6 2.9-0.2 1.4-4.5-4-0.7 1.2 0 1.4-1.6 2.8 4.3 5.7-1.5 2.9 0.8 1.4 1.6 1 1.4 0.2 1.4-1.2-1.3-2.8 0.3-1.5 2.5-3.3 2.8 0.5 2.9 1.4 2.8 0.3 1.5 3 1.4 1.7 1.4 0.3 4.3-1.4 3 1.8 1.4 2.9 0.5 8.5-1.9 2.8-0.1 1.8-1.5-0.2-1.9-1.6-1.2-1.4-0.4-2.8-0.7-1.4-2.9-2.5-1.4-0.1-2.9 1.3-1 1.3 0.8 2.8 1.6 2.4 2.6 1.9 1.7 2.1 7.8 5 0.8 1.3 3.5-1.3 1.5-1.4-0.7-0.8-0.6-2.1 0.6-0.8 2.2 0.8 0 4.3 5.7 5.7 0.6 1.4 2.2 10 3.7 2.8-0.1 1.6-10-5.2-2.9-0.3-5.3-6 1-0.8 4.3 2.6 0.7-0.4 0.9-2.9 1-1.4-0.4-1.4-2.2-1.8-4.3-2.2-2.8-0.3-1.5 0.2-1.4 1.2 0.2 1.5 2.7 3.9 1.6 0.3-0.2 0.4-4.3-0.7-1.8 0.3 0.1 1.5 4.6 5.7-0.2 1.4-1.3 0.5-1.4-0.6-1.8 0.1 0.7 1.4 1.6 1.4 0.5 1.5-2.4 0.8-4.3-2.2-1.4 0.2-1.5 1.2 0.1 1.4 4.2 3.6 1.5-0.4 1.4-1.9 1.4 0.6 3.7 5.2 4.9 3 2.6 2.7 0.7 1.4-0.5 2.9 1.2 2.8-2.6 0.3-0.9 1.1 0 1.5 5.1 8.5-0.8 1.4-2 0.3-4.2-3.3-1.5-0.5-2.2 0.7-0.2 1.4 2.4 4.6 7 5.4 0.2 0.8 0.6-2.3-0.2-2.8 1-1.1 1.4-0.1 1.5 0.9 2.1 4.6-0.7 1.4 0 1.4 1.3 1.4-2.7 1.5-4.3-4.2-1.5 0.3-0.7 1 1.5 5.7-0.8 1.2-3.3-5.5-0.9-0.7-2.7-0.7-1.6-1.4-2.1 2.8 0.6 1 2.9 1.2 5.5 3.5 0.2 1.5-1.4 1.1-1.4 0-4.3-3-2.9-0.9-1.4 0.7-4.3-0.1-0.4 0.7 3.3 5.7-1.5 1-1.4-0.7-6.1-6-0.4-1.4 0.8-0.8 1.4 0.3 1.4-0.2 0.4-0.7-1.5-2.9-3.1-2.3-2.9 0.5-4.3-2.2-0.7 1.2 0.1 1.4 1 1.4 5.3 5.7 0.9 2.9 0 1.4-0.9 1.1-1.4-0.5-2.9-2.6-0.5 0.6 1.9 2.8-1.4 1.3-3.2 0.2-1 1.2 0.6 1.6 3.6 4.8 1.5 0.8 1.4-0.6 0.5-0.7 0-2.9-1.8-4.2 1.3-0.8 1.4-0.1 5.7 5.2 3.1 1.4 1.2 1.4-1.4 0.7-0.4 0.7 1.8 3.3 1.5 0.8 5.7 1.2 0.5-1-4.6-5.7 0.2-1.4 1-1.6 1.4 0.6 4.3 6.4 3.2 3.1M232.5 580.7l-0.9-1.1-0.7 1.1 0.7 1.1 0.9-1.1M340.1 587.1l-1.4 0.2-1.4-0.5-3.5-4.6 0.6-1.5 1.5 0.2 3.6 2.7 1.3 1.4 0.1 1.4-0.8 0.7M311.6 592.2l0-0.3 0 0.3M290.1 609.2l-2 0 0.2-1.4 1-1.4 0-1.5-2.4-2.8-3.6-2.8-1.1-1.5 0.5-1.4-0.5-2.8 0.8-0.4 1.4 0.8 4 5.3 4.6 3.8 2.9 0.8 1.6 1 1 1.5-1.2 1.4-1.4 0.1-2.9-1.9-0.3 0.4 0.5 1.4-3.1 1.4M343 599.7l-4.1 2.4 0.2 1.4 3.9 6.1M343 617.6l-2.8-2.7-0.5-1.4 0.8-2.9-0.8-1.4-8.1-8.1-1.5-0.1-1.2 1.1 0.7 1.4 3.4 3.5 1.2 2.2-1.2 1.1-1.4-0.2-2.1 0.5 4.9 5.3 1.5 0.7 2.8-0.1 1.4 0.7 2.5 2 0.4 0.9M233 620.9l-1.4 0.2-2.8-4.8-1.5-1-0.5 1 0.4 2.9-1.3 0.6-2.9-1.7-1.8-1.8-0.8-1.4-0.9-5.7 0.8-2.8 1.2-1.5 2.3 1.5 3.7 4.2 2.6 1.6 2.9 0.3 2.9 3.8 0.5 1.5-2 0.8-1.4 2.3M275.9 610.3l-3.5-2.5-0.2-1.4 0.8-1.9 1.4 0.6 2.6 4.1-1.1 1.1M287.3 616.6l-4.3-2.7-2.9 2-1.4-1.1-2.6-4.2 1.2-1.2 4.3 2.4 1.4-0.4 1.4 0.3 3 3.2 0.4 1.4-0.5 0.3M334.4 610.8l-0.4-0.2 0.4-0.5 0 0.7M313 632.7l-2.6-0.7-1.5-1.4-0.6-2.9-1-1.5-7.2-1-2.8-5.6-2.9-0.1-2.9-1.7-1.1-1.5 0.6-2.8 0.6-0.6 4.3 1.7 2.8 0.2 4.6 4.4 6.7 4.3 4.3 8.5-1.3 0.7M307.3 614.1l0-0.8 0.5 0.2-0.5 0.6M204.4 615.2l-0.5-0.3 0.5-0.4 0.7 0.4-0.7 0.3M218.7 620.7l-2.8-0.4-2.1-2.5-0.5-1.5 0.3-1.4 0.8-0.9 1.5 0.6 1.4 2.1 1.4 4M314.4 623.2l-0.3-1.2-4-3.1-1.9-2.6-0.8-1.4 1.3-1.2 4.2 2.6 2.5 2.9 0.2 1.4-1.2 2.6M190.2 620.6l0.4-1.4-0.4-0.3-0.6 0.3 0.6 1.4M230.1 622.4l-0.4-0.4 0.4-0.4 0.5 0.4-0.5 0.4M340.4 627.7l0.9-1.4-4-4.2-1.4-0.9-1.2 0.8 0.6 1.5 3.4 3.8 1.4 0.7 0.3-0.3M343 620.7l-1.7 1.3 0.6 4.3 1.1 0.5M214.4 625.4l-1.9-0.5-1.5-1.4 2-0.8 1.4 0.8 0.6 1.4-0.6 0.5M228.7 627.5l-2.8-1-2.9 0.1-1.2-1.7 0-1.4 2.6-1.2 4.3 0.7 1.3 3.3-1.3 1.2M280.3 627.7l-0.1-1.4-1.5-1.1-0.4 1.1 2 1.4M220.1 661.2l-5.3-2.1-2-1.5-1.6-4.2-1.8-2.9-9.4-11.4-0.6-1.4 0.7-4.9 1.5 0.9 6.2-1.7 2.3-0.8 2.9-2.7 1.4-0.2 1.5 0.6 1.6 1.7 1.6 2.8 0.2 1.5-2.5 2.8-3.8 0.8-0.9 0.6-0.1 1.4 0.8 1.5 1.6 1 7.2 0.1 3.8 1.7 1.9 1.4-0.2 1.5-1.2 0.5-2.9-0.3-1.4 0.3-0.6 0.9-0.1 2.8-0.8 1-1.4 0.1-2.8-2-2.9-0.5-0.1 1.4 4.4 2.7 2.8 1 1.7 2 0 1.5-1.7 2.1M343 637.1l-4.3-6.3-1.4-1.1-1.4 0.4-1.5 2.6-0.8 0.7 2.6 2.9-0.3 2-1.5-0.2-1.5-1.8-0.5-2.9-3.7-2.1-3.2 0.7-1.1 0.5-0.5 0.9 0.1 1.5 1.4 2.8 6.8 4.3-0.1 2.8 1.1 1.4 2.7 1.9 1.4 2.3 1.4 1.1 1.2-1-3-4.3 1.2-4.2 1.7-1.5-0.1-1.4 0.4-0.7 2.9 0.6M228.7 636.9l-1.4 0.1-3-2.1-1.1-1.5 0.7-1.4 2-0.1 1.4 0.7 3.1 2.3-0.6 1.4-1.1 0.6M241.6 634.9l-2.9 0.1-1.4-0.6-0.7-1 0.6-1.4 3.2 1.4 1.2 1.5M311.6 656.5l-3.4-1.7-3.6-5.7-5.6-5.7-0.3-4.7 1.4-1 1.5-0.2 1.4-2.2 1-0.4 2.6 1.4 5.4 7.1 0 1.4-0.4 0.1-4.3-0.6-1.1 0.5 0.5 1.4 3.3 4.3 2.1 4.3 0.6 1.4-1.1 0.3M268.7 643.7l-1.4 0.3-1.4-0.3-1.5-0.8-2.1-2.4-1.5-2.8 0.8-2.4 1.4 0.7 4.6 4.5 1.5 2.9-0.4 0.3M305.3 642l-0.1-1.5-0.8-1.3-1.2 1.3 1.2 1.9 0.9-0.4M267.3 651l-2.9-0.7-2.8-3.1-4-2.4-0.6-1.4 0.3-0.6 1.4-0.9 1.4 0.5 4.3 2.7 3.1 4 0.5 1.4-0.7 0.5M320.1 643.9l-1.4-0.4-1.2-1.5 1.2-0.5 0.8 0.5 1.2 1.4-0.6 0.5M271.6 645.8l-0.6-1 0.6-0.2 0.6 0.2-0.6 1M343 647l-0.5 2.1 0.5 0.9M334.4 676.4l-2.8-1.9-2.9-0.5-4.3-2.8-5.7-0.5-1.4-1.3-2-3.2-2.2-8.6 1.3-1.2 3.4-0.2 3.3-2.8-1.8-4.3 0.8-0.4 2.1 1.8 0.8 1.4-0.6 1.5 1.4 2.8 3.9 4.3 0.6 1.4-0.1 1.4-1.7 1.5 0.4 1.4 3.2 2.9 5.6 2.8-0.1 4.2-1.2 0.3M228.7 656.8l-1.4-0.4-1.5-1.6-0.3-1.4 0.4-1 1.4-0.3 1.7 1.3 0.8 1.4-0.1 1.4-1 0.6M113 716.7l-1.7-2.1-1.1-3.8-2.9-0.7-4.3 0.8-2.8-1.2-1.5 0.9-1.5-0.3-1.3-0.4-0.4-1 0.5-1.4 2.7-4.8 3.2-0.9 0.7-2.9 1.2-1.4 1.2-2.8 2.3-0.9 2.9 0.1 0.8-0.7 2.9-5.7 3.4-1.7 0.8-1.1 0.6-3 1.5-1.1 2.8-0.7 2.7-5.2 3.4-1.4 1.1-2.2 1.4-0.6 2.1-2.9 5.8-5.7 2.1-1.6 1.4 0.3 2.6 2.7-0.4 1.5-7.1 7.1 1 2.8 2.7 2.9-0.2 1.4-1.4-0.1-2.9 2.3-4.3-1.5-3 3.6 1.6 2.3 1.4-0.2 1.6 0.7 1.8 4.3 3.1 4.3 0.2 1.4 2.3 4.3 0.2 1.4 3.7 3.4 2.8 1.5 1 2.2-0.1 1.4-0.9 0.3-1.4-0.4-1.4 0.9-1.5 0.1-1.7-0.9-1.1-2-0.6-2.2 0.5-2.9-0.3-1.4-5.2-2.9-0.3-1.4 0.9-1.4-0.1-1.4-2.3-2.9-2.6-4.5-1.4-0.9-1.5 1.1 0.1 1.5 3 4.2 0.4 1.5-0.6 2.8-1.4 0-1.4-1.4-1.5-0.6-1.5 0.6-0.1 1.4-1.3 1.1-2.8-1.8-2.9-0.9-1.4 0.3-2.9-0.3-1.7 1.6-0.4 1.4 2.5 5.7-0.1 1.5-0.9 1.4 0 1.4 2.1 1.1 2.8 0.6 1.7 1.1 0.8 1.5-0.8 1.4-3.1 0.9-2.9-0.5-1.4 1.7M207.9 661.9l-2-1.7-0.6 0.3-0.2 1.4 0.8 0.8 1.4 0.4 0.6-1.2M343 678.6l-3.5-3.9-3.5-2.8 1.1-4.3-1.2-4.3 1.4-1.7 1.4 0 2.9-1.1 1.4 0.4M148.7 666.4l0-0.5 1.3 0.3-1.3 0.2M343 726.8l-1.4 0.6 0 1.4-1.5 1-1.4-0.5-2.2-1.9-1.1-2.8 0-1.5 0.5-1.2 0.4-0.2-1-2.8-0.1-2.9-2.6-2.8-0.2-1.5 2.1-1.4-4.4-3.7-2.8-0.4-1.6 1.3 0.1 1.4-1.4 0.8-1.4 0.1-0.5 0.5 4.3 5.7 1.9 3.7 1.7 2-0.3 0.6-1.4-0.2-5.7-2.2-0.9 0.4 0.1 1.4 2.8 4.3 0.1 1.4-0.7 1.1-1.4 1.2-2.9-3.2-1.4-0.8-1.1 0.3-0.2 1.4 1.5 1.4 2.7 0.6 1.4 1.3 0.7 2.4-3.6 1.7-5.7 0.1-0.6 1.1-0.8 0-4.4-2.9-1.2-1.4-0.1-1.4 1.6-1.5-2.3-2.8 0.7-0.9 1.4-0.4 1.4 0.5 1.5-0.5 0.1-1.6-3-5.7 1.4-1 7.2 1.6 0.9-0.6 0.6-1.4-0.5-5.7 2.1-2.8-1.8-2.9-4.2-2.9-1.4-0.4-2 0.5-0.9 0.9-0.3-0.9-3.9-4.2-1.3-4.4 1.5-4.2-3.5-7.2-3.6-9.9-3.1-1.4-0.4-1.5 0.3-1.4 1.5-0.9 1.4 0.2 4.3 2.8 1.4 1.2 2.9 4.2 3.2 2.5 2.2 2.8-0.4 1.4-2.2 0.7-0.5 0.8 1 2.8 2.5 2.9-1.5 1.1-2.9-0.2-1.2 0.5 0.5 1.4 1.4 1.4 5 2.7 1.7 1.6 2.6 5.5 2.9-6.6 1.4 0.2 2.9-0.7 1.7 1.6 0.2 1.4-0.9 1.5 1.8 2.6 1.4 0.4 2-1.6 3.8-0.7 1.4 0.4 0.7 1.7-0.2 1.4-1 1.5 2.3 4.2 1.4 4.3 2.5 3.6M165 676.1l0.3-1.4-2.3-2.9-1.4-1.1-1.7-0.2-0.7 1.4 1.2 2.8 2.6 2 2-0.6M294.4 672.3l-0.7-0.4 0.7-0.2 0 0.6M175.9 676.3l-1.5 0.1-1.2-1.7-0.1-1.4 1.3-0.4 2.5 1.8-1 1.6M165.9 703.7l-2.9 0.2-1-0.7-0.3-2.8-0.9-2.9-3.4-2.8-1.6-2.9-0.3-1.4 2.5-2.9-0.3-1.4-1.8-2.4-1.5-1-2.8-0.2-4.2-3.5-0.9-2.9 0.4-1.4 0.4-0.1 7.1 5 4.3-0.3 3.9 4 0.3 1.4-0.7 2.8 3.5 2.9-1.3 1.5-1.4 0-0.3 1.3 1.5 4.3 2.1 2.9 0.5 1.4-0.1 1.4-0.8 0.5M194.2 676.1l-1-1.4-1 0 0 1.4 0.8 1.1 1.2-1.1M327.3 685.1l-2.9 0.9-1.4-0.2-5.6-6.8-0.1-2.9 1.4-0.4 4.3 0.1 2.9 0.8 1.1 1 0.5 1.4-0.2 1.1-4.3-0.5-2.4 0.8 1 1.4 2.8 2.2 2.9 0.5 0.3 0.2-0.3 0.4M185.9 682.2l-1.5-0.1-2.4-1.7-1-1.4 0.6-1.4 1.4 0.2 3.1 2.6 0.9 1.4-1.1 0.4M200.5 679l-0.4-0.3-0.4 0.3 0.4 0.4 0.4-0.4M290.8 679l-2.1-1-1.3 1 1.3 0.9 1.4 0 0.7-0.9M343 694.3l-2.9-2.4-4.2-1.8-5.7-5.4-0.1-1.4 2.2-1.5 5 0.2 2.8 1.8 2.9 0.2M154.4 689.6l-1.4 0.4-4.3-2.4-2.8 0.6-1.5-0.5-1.5-1.6-0.4-1.4 3.4-2 2.8 1.2 2.9 0.6 3.3 4.5-0.5 0.6M180.2 689.4l-1.5-0.4-1.4-1.4-0.4-1.5 0.4-0.3 2.5 1.7 0.7 1.5-0.3 0.4M315.9 689l-1.5-0.5-0.7-1 0.7-1.7 1.5 0.2 1 1.5-1 1.5M171.6 693.4l-3-1.6-1.3-1.3-0.8-0.1 1.5-1.4 2.2-0.5 1.5 1.9 0.4 1.4-0.5 1.6M220.1 696.9l-5.7-1.6-1.4-1.3-0.8-2.2 0.8-3.5 0.1 0.7 5.7 4.2 1.5 2.9-0.2 0.8M343 703.4l-1.4-2.3-1.5-1.2-2.8 0.1-2.9-3.4-4.4-3.4-0.8-1.4-0.1-1.4 1-0.3 4.3 1.4 5.7 5.8 2.9 1.5M145.9 699.6l-4.6-3.5-0.9-1.4 1.4-1.5 1.2-0.5 1.4 0.2 1.6 1.8 1.2 4.2-1.3 0.7M287.3 695.4l-1.3-0.7 1.3-0.7 0.9 0.7-0.9 0.7M125.9 699l0-0.4 0 0.4M221.6 699.3l-0.4-0.4 0.4-0.6 0.4 0.6-0.4 0.4M147.3 700.5l0-1.2 0 1.2M231 744.5l-1.5-2.8-3.6-2.5-2.7-3.2 2.3-1.5 0.5-1.4-0.6-1.4-2.4-2.7-1.4-0.3-1.4 1.6 0.5 1.4 3.1 2.8-0.8 1.1-3.6-2.5-2.1-2.4-0.5 1-0.4 4.3-0.5 0.5-1.8-0.5-1-1.5-0.5-2.8-3.9-4.3-0.3-1.4 1.7-0.7 0.8-0.7-2.6-7.2-1-1.1-2.9-0.8-2.8-2.2-4.5-7.2-5.5-5.3-1.4-0.6-2.5 0.2-0.3 1.4 1.3 3.4 3.2 3.7 1.9 5.7 0.6 0.7 2.9-0.7 1.4 0.7 2.9 2 2.8 1.1 1.8 1.9 0.2 2.8-2.4 4.3 0.8 2.9 0.6 5.7-1.8 1.4 1.3 4.3 1 1.5 2.8-0.4 2.9 1.2 1.4-0.7 1.4 0.1 1.5 1.1M133 715.9l-2.8-0.9-3.6-3.3-2.1-4.2-3.5-4.3 0.6-1.5 2.8-0.6 1.2 2.1 0.7 2.9 5.3 4.2 2.1 4.3-0.7 1.3M164.4 713.2l-2.8-0.1-1.6-1.4-1.4-2.8-5.6-2.8-2.3-2.9-0.5-1.4 1.4-0.6 1.4 0.7 6 5.6 4 3 1 1.2 0.4 1.5M265.9 702.3l-0.6-0.5 0.6-0.7 0 1.2M310.1 706.6l-4.7-2-0.7-1.4 1.2-2.1 4.2 2.2 1.1 1.3 0.3 1.5-1.4 0.5M107.1 704.6l-1.6 0 0.4 0.9 1.2-0.9M275.9 706.6l-1.5 0.8-1-1.3-0.2-1.5 1.2-1.2 1.7 1.2 0.3 1.5-0.5 0.5M233.2 733.1l3.9-1.4 0.3-1.4-3-3-1.4-0.3-1.4 1.2-1.5-0.6 0.3-3 1.9-2.9 0.1-1.4-3.3-5.7-1.3-1.4-3.4-2-1.4 0-0.3 0.5 0.9 2.9-0.6 1-1.3 0.4 0.1 1.4 1.4 2.9 0 2.8 0.6 1.5 0.6 1.2 1.5 1 4 2 3.3 4.3M153 718.3l-2.8 0.2-1.5-0.5-1.6-3.4 0.2-0.6 2.9-0.4 1.4-0.9 1.4 2.4 0.5 2.3-0.5 0.9M134.4 716.8l-1-0.8 1-0.3 1.2 0.3-1.2 0.8M246.6 720.3l1-1.4-1-1.5-3.6-2-1.4 0.2-0.4 1.8 0.8 1.5 2.4 1.1 2.2 0.3M248.1 730.3l-1.9-4.3-4.9-2.9-0.8-2.8-1.6-1.4-1.6 0.3-1 1.1-0.3 1.4 3.1 2.9 2.5 4.5 2.8 2.2 1.5 0.1 2.2-1.1M69.2 744.5l-0.5-1.4-2.6-1.4-0.3-2.9 3.9-4.3 0.4-4.2 4.3-1.5 1.5-3.5 2.8-1.3 4.3-2.9 1.4-0.3 1.4 0.9-0.4 1.4 0.5 1.2 2.6 3.1 0.6 1.4-4.7 0-1.4 0.9-2.9 0.6 2.9 3.3 5.2 2.4 0.6 1.4-1.1 1.4 2.2 2.9 0.8 2.8M143 723.1l-0.6-1.4-0.8-0.4-1.4-0.4-1.6 0.8-0.2 1.4 1.8 1.4 1.4-0.1 1.4-1.3M340.9 723.1l-1.1-1.4-1.1-0.6-1 0.6 2.4 2.7 0.8-1.3M301.6 723.4l-0.7-0.3 0.7-0.2 0 0.5M261.3 744.5l3.1-0.6 2.4-3.7-5.2-6.8-4.3-1.9-3.8-4.1-0.5-1.1-1.4-0.8 0.9 3.3-1.6 2.9 1 1.4 2.5 1.7 1.5-1.7 1.4 0.3 0.3 2.6-1.7 1-4 0.4-1.1 1.4 1.4 1.4 3.7 2.1 1.8 2.2M262 728.8l-3.3-2.9-1.4-0.4-0.5 0.5 3.3 3.5 1.5 0.6 0.4-1.3M331 744.5l-1.4-1.4-3-1.4-1.2-1.5 0.5-0.8 2.8-0.2 0.6-0.4-0.1-4.3 0.8-1.4-1.7-2.8-0.6-2.9 1-0.7 1.4 0 2.9 1.5 5.9 4.9 0.8 1.4 0 1.5-0.8 1.4-1.6 0.7-1.4-0.9-0.5 0.2 1.5 2.8 1.8 1 4.3 0.7M149.8 744.5l-0.4-1.4-2.3-4.3 0.2-0.7 1.4-0.2 4.3 3.6 1.4 0.5 1.1-1.8-0.3-1.4-2.2-3.1-2.8-1.4-1.2-1.2-1.7-3.7-1.4-1-0.6 0.4-0.1 1.5 1 2.8-0.3 0.2-4.3-0.7-4.7 0.5 0 1.4 1.6 4.3 4.5 3.4 1.6 2.3M303 737.7l-1.4-0.8-1.5 0.2-1.4 1.3-6.3-6.7-0.3-1.4 0.7-1.5 1.6-0.8 1.5 0.1 2.8 3.1 4.4 3.3 1.2 2.9-1.3 0.3M179 744.5l1.2-1.2 1.4 0.5 1.4-0.7-2.8-3.4-1 0.5-0.5 2.7-1.5-1.2-4.2-1.2-2.8-1.8-0.7 1.5-0.1 2.9-0.7 0.7-1.4 0.2-1.4-0.7-1.6-1.6-1-2.9 2.4-2.8 0.2-1.5-7.2-4.4 0.4 4.4-0.8 1.5 0.1 2.8 3.8 5.7M94.4 735.5l-2-1-0.3-1.4 0.9-0.7 2.4 2.1-1 1M192.4 733.1l-0.8-0.4-0.7 0.4 0.7 1.3 0.8-1.3M85.4 744.5l-2.4-2.5-1.4-0.4-1.4 0.4-1.5-0.8-4.3-4.8-2.5 1-1.8 2.8 5.8 4.3M250.7 744.5l-0.6-3.7-1.4-1.4-2.8 0.5-1.5-0.3-2.8-2.4-4.3-1-2.9 0.3-1.4 0.6-1.6 1.7 0.6 1.4 2.4 0.7 4.3-0.3 2.9 0.8 1.8 1.7 0.3 1.4M112.8 744.5l0.6-1.4-0.9-2.9 0.5-1.3 1.4-1.3 1.5 0.9 2.5 3.2 0.5 2.8M188.9 740.2l0.3-1.4-0.5-1-1.1 1 1.3 1.4M200.5 744.5l-0.8-1.4-0.4-2.9-2-2.3-1.4 0.6-1.1 3.2 0.9 2.8M300.1 741.5l-3.4-1.3 0.6-1.7 2.8 1.4 0 1.6M130.2 740.6l-0.5-0.4 0.5-0.4 0.3 0.4-0.3 0.4M317.1 744.5l-0.3-2.8 0.5-2 1.4 0.3 2.8 1.7 2.6 2.8M57.3 743.2l1.4-2.7 1.5-0.1 3.7 1.3 1.5 1.4-1 0.5-0.1 0.9M220.1 743.7l-1.9-0.6-1.4-1.4 1.9-0.4 0.9 0.4 1.5 1.4-1 0.6M273.2 743.1l-1.6-2.5-1.5 0.1-0.4 1 1.9 1.6 1.4 0.2 0.2-0.4M301.6 742.1l-1.4-0.4 1.4-0.5 0.8 0.5-0.8 0.4M304 744.5l-1-1.8 4.3-1.1 2.8 0.8 2.3 2.1M99.1 744.5l-0.7-1.4 0.3-0.8 1.5 0 1 0.8-0.3 1.4M128.3 744.5l1.9-0.9 1.4 0.1 0.7 0.8" stroke="#55c1bf" stroke-width="1.1" fill="none" stroke-linejoin="round"/>
<path d="M191.6 716.5l-1.8-1.9-1.2-2.9 0.1-1.4-1-1.4-3.3-2.2-2.9-3.5-2.1-5.7 0.8-0.3 1.4 0.6 2.8 2 1.7 2 3.4 7.1 2.3 2.8 0.8 4.3-1 0.5M187.3 697.7l-0.6-0.2 0.6-0.4 0.3 0.4-0.3 0.2M178.7 714l-1.4 0.2-2.6-2.5-0.8-1.4 0.5-1.9 1.5-0.2 2.6 2.1 0.8 1.4-0.6 2.3M204.4 713.3l-2.3-1.6-0.7-1.4 0.2-0.7 2.8-0.1 1.8 0.8 0.5 1.4-2.3 1.6M181.6 731.9l-2.9-0.1-3.7-3-2.6-4.2-3.7-4.3-0.8-1.4-0.3-2.9 1.1-0.7 2.9-0.4 5.7 1.5 0.9 1 0.8 8.6 3.1 4.3 0.2 1.4-0.7 0.2M187.3 722.4l-1.4 0.2-1.5-0.5-3.3-3.2-0.5-1.5 1-0.8 1.4-0.1 4.4 0.9 1.6 1.5 0 1.4-0.7 1.4-1 0.7M201.6 725.2l-1.5 0.4-1.4-1-2.8-3-2.9-4.6 4.3 0.3 1.4 1.8 2.9 1.6 1 1 0.6 1.4-1.6 2.1M164.4 732.5l-1.8-0.8-2.9-2.9-0.4-2.8-1.7-2.9-0.3-1.6 1.4-0.1 1.5 1.4 0.6 1.8-0.2 1.4 0.8 1.4 3.9 2.9 0.1 1.4-1 0.8M155.9 736.3l-2.9-4.7-1.3-1.3-0.3-1.5 0.4-1.4 1.2-0.3 1.4 0.6 2.9 2.7 0.7 2.7-2.1 3.2M190.2 730.5l-1.5 0.1 0-1.9 1.5-0.3 0.8 0.4-0.3 1.5-0.5 0.2M174.4 739.8l-1.4-0.4-3.5-2-0.9-1.4 0-1.5 1.2-1.4 1.8 1.1 1.4 2.2 2.8 2.4-1.4 1M168.7 742.1l-1.4 0.9-1.4-0.5-1.8-2.3 0.2-1.4 1.6-1.5 1.4-0.4 0.6 0.5 0.8 4.7M184.4 742l-3.2-3.2 0.1-1.4 1.7-0.5 1.8 0.5 0.8 1.4 0.3 1.9-0.2 1-1.3 0.3M153.2 744.5l2.7-1.4 1.4-3 2.9 2.3 0.9 2.1" stroke="#9cbf6f" stroke-width="1.1" fill="none" stroke-linejoin="round"/>
<path d="M188.6 716l-1.3-4-1.1-1.7-3.2-2.6-4.3-4.8-1.4 0.7-1 2.5 0.7 1.4 2.7 2.8 1.8 4.3 2.9 1.4 2.9 0.5 1.3-0.5M198.9 713.2l0-1.5-3-4.6-4.3-4-1.4-0.2-0.1 1.7 3.3 4.3 1 4.5 2.9-0.6 1.6 0.4M174 713.2l-2.4-3.8-4.3-2.4-1.4-0.4-2.4 0.9 0.1 1.4 1 1.4 4.1 2.9 5.3 0M179.7 736l3.1-1.5-2-1.4-3.5-1.1-3.9-3.2-1.2-1.4-0.8-2.8-4.1-4.3-1.7-4.3-1.2-1.1-4.1-1.7-3-2.4-1.4-0.2-0.8 1.1 0.8 3.4 1.4 1.6 1.7 0.7 0.4 1.5 3.4 5.7 0.2 1.4 1.3 1.4 3.3 1.4 4 3.6 2.8 3.5 2.9 0.9 2.4-0.8M185.9 730.3l0.8-1.5 0-2.8 0.6-1.2 1.4 0.4 2.9-0.6 5.7 4.3 0.6-1.5-1.6-2.8-4.7-5.1-1.4 0.9-1.5 2.9-1.4 1-1.4 0.2-4.3-4.2-1.4-0.8-0.6 0.8-0.1 1.4 1.4 5.7 2.1 2.2 1.4 0.8 1.5-0.1M155 723.1l-0.6-1.2-1.4-0.9-0.7 0.7 2.1 2.1 0.6-0.7M166.1 744.5l-1.9-1.4-1.7-2.9-0.2-1.4 2-2.8 0-1.5-2.7-2-1.4-0.1-0.2 3.6-0.6 1.4 0.2 1.4 3.8 5.7M176.4 744.5l0.1-1.4-4.9-2.6-1.1 1.2 0.4 1.4 0.7 0.7 3 0.7" stroke="#06a0cd" stroke-width="1.1" fill="none" stroke-linejoin="round"/>
<path d="M185.9 706.4l-3.2-3.2-0.5-1.4 0.8-1.1 1.4 0.8 1.1 1.7 0.8 2.9-0.4 0.3M178.7 712.2l-1.4 0.6-1.4-0.7-1.1-1.8 1.1-1.1 1.4 0.6 1.4 1.7 0 0.7M190.2 713.9l-0.4-0.7 0.4-1.6 1 1.6-1 0.7M180.2 731.4l-1.5-0.1-1.7-1-7.9-10-0.9-2.9 0.5-1.3 4.3-0.5 2.9 1.2 1.4 1.3 1.1 3.6-0.5 2.9 1.2 2.8 2.1 2.9-1 1.1M187.3 721.7l-1.4 0.5-1.5-0.6-2.7-2.7 0-1.5 1.3-0.5 1.4 0 2.9 1 1 1 0.2 1.4-1.2 1.4M161.6 729.6l-0.4-0.8 0.4-0.3 0.5 0.3-0.5 0.8M163 731.1l-1.1-0.8 1.1-0.9 1.1 0.9-1.1 0.8M171.6 736.4l-0.9-0.4 0.9-0.1 0 0.5M167.3 742.1l-1.4-0.4-1-1.5 1-1.8 1.4 0.4 0.7 1.4-0.2 1.5-0.5 0.4M157.1 744.5l0.2-1.5 1.4-0.5 1 2" stroke="#e9b94e" stroke-width="1.1" fill="none" stroke-linejoin="round"/>
<path d="M187.6 714.6l-7.4-9.1-1.5-0.8-1.1 1.4 0.4 1.4 2.2 2.8 2.2 4.3 2 0.9 2.9 0.4 0.3-1.3M180.1 734.5l-7.1-4.9-1.6-2.2-0.7-2.8-4.3-4.3-2-4.3-2.8-0.7-0.7 0.7 0.8 2.9-0.4 1.4 3.1 6 4.3 2.5 3.1 2.9 2.6 3.3 1.5 0.7 1.4 0.1 2.8-1.3M186 728.8l0.1-1.4-0.9-2.8-3.6-3.7-1.4-0.3 0 2.4 1.3 4.4 2.9 2.1 1.6-0.7M194.6 724.6l-0.4-1.5-1.2-1.4-1.4-0.8-0.8 0.8 0.2 1.4 3.6 1.5" stroke="#1079da" stroke-width="1.1" fill="none" stroke-linejoin="round"/>
<path d="M178.7 730.6l-1.4-1-3.6-5-4-4.3-0.8-2.9 1.3-1 2.8-0.2 2.5 1.2 1.4 1.5 0.7 1.4-0.7 4.3 2.9 5.7-1.1 0.3M187.3 721l-1.4 0.5-2.6-1.2-0.9-1.4 0.5-1.5 1.5-0.1 2.9 1.3 0.6 1.7-0.6 0.7M174.4 724l-4-3.7-0.7-1.4 0.5-1.7 2.8-0.3 3.1 2 0.7 1.4-0.5 1.4-1.9 2.3M185.9 720.7l-1.5-0.2-1.1-1.6 1.1-0.8 2.4 0.8 0.2 1.4-1.1 0.4M174.4 721.9l-1.4 0.3-2-1.9-0.5-1.4 1.1-1.4 1.4 0.1 2.1 1.3 0.5 1.4-1.2 1.6M185.9 719l-1-0.1 1 0.1" stroke="#f2e41c" stroke-width="1.1" fill="none" stroke-linejoin="round"/>
<path d="M186.1 714.6l-4.5-4.7 0 0.8 1.2 1 0 1.5 1.2 1.4 2.1 0M170.5 727.4l-0.6-2.8-1.2-1.5-4.3-3.3-0.8 0.5-0.5 1.4 2.1 4.3 3.5 2 1.5 0.1 0.3-0.7M185.2 727.4l-0.9-2.8-1.3-1.7-1.7-1.2-0.5 1.4 0.3 1.5 1.5 2.8 1.8 1.1 0.8-1.1M176.6 733.1l-0.7-0.4-1.6 0.4 1.6 1.4 0.7-1.4M169.4 726l-0.4-1.4-1.7-1.7-1.4-0.7-1.2 0.9 0.4 1.5 1.3 1.4 2.3 0.8 0.7-0.8M183.5 726l-0.5-1.5-0.2 1.5 0.2 0.4 0.5-0.4M167.9 724.6l-0.6-0.6-1 0.6 1 0.8 0.6-0.8" stroke="#4636aa" stroke-width="1.1" fill="none" stroke-linejoin="round"/>
<path d="M84.3 459.7v2.9M84.3 744.5v-2.9M57.3 717.6h2.9M343.0 717.6h-2.9M127.4 459.7v2.9M127.4 744.5v-2.9M57.3 674.6h2.9M343.0 674.6h-2.9M170.5 459.7v2.9M170.5 744.5v-2.9M57.3 631.6h2.9M343.0 631.6h-2.9M199.3 459.7v2.9M199.3 744.5v-2.9M57.3 603.0h2.9M343.0 603.0h-2.9M228.0 459.7v2.9M228.0 744.5v-2.9M57.3 574.3h2.9M343.0 574.3h-2.9M271.1 459.7v2.9M271.1 744.5v-2.9M57.3 531.3h2.9M343.0 531.3h-2.9" stroke="#262626" stroke-width="1" fill="none"/>
<rect x="57.3" y="459.7" width="285.7" height="284.8" fill="none" stroke="#999" stroke-width="1.6"/>
<text x="50.6" y="722.6" font-size="14" text-anchor="end" fill="#262626">0.02</text>
<text x="84.3" y="765.3" font-size="14" text-anchor="middle" fill="#262626">0.02</text>
<text x="50.6" y="679.6" font-size="14" text-anchor="end" fill="#262626">0.05</text>
<text x="127.4" y="765.3" font-size="14" text-anchor="middle" fill="#262626">0.05</text>
<text x="50.6" y="636.6" font-size="14" text-anchor="end" fill="#262626">0.08</text>
<text x="170.5" y="765.3" font-size="14" text-anchor="middle" fill="#262626">0.08</text>
<text x="50.6" y="608.0" font-size="14" text-anchor="end" fill="#262626">0.1</text>
<text x="199.3" y="765.3" font-size="14" text-anchor="middle" fill="#262626">0.1</text>
<text x="50.6" y="579.3" font-size="14" text-anchor="end" fill="#262626">0.12</text>
<text x="228.0" y="765.3" font-size="14" text-anchor="middle" fill="#262626">0.12</text>
<text x="50.6" y="536.3" font-size="14" text-anchor="end" fill="#262626">0.15</text>
<text x="271.1" y="765.3" font-size="14" text-anchor="middle" fill="#262626">0.15</text>
<text x="50.6" y="464.7" font-size="14" text-anchor="end" fill="#262626">0.2</text>
<text x="343.0" y="765.3" font-size="14" text-anchor="middle" fill="#262626">0.2</text>
<text x="200.1" y="784.8" font-size="15.4" text-anchor="middle" fill="#262626">frequency (Hz)</text>
<text transform="translate(16.0 602.1) rotate(-90)" font-size="15.4" text-anchor="middle" fill="#262626">frequency (Hz)</text>
<rect x="106.0" y="484.6" width="22.7" height="130.6" fill="url(#parula)" stroke="#555" stroke-width="1"/>
<path d="M106.0 615.2h2M106.0 582.6h2M106.0 549.9h2M106.0 517.2h2M106.0 484.6h2" stroke="#262626" stroke-width="1"/>
<text x="99.7" y="619.5" font-size="12.3" text-anchor="end" fill="#262626">-1</text>
<text x="99.7" y="586.9" font-size="12.3" text-anchor="end" fill="#262626">-0.5</text>
<text x="99.7" y="554.2" font-size="12.3" text-anchor="end" fill="#262626">0</text>
<text x="99.7" y="521.5" font-size="12.3" text-anchor="end" fill="#262626">0.5</text>
<text x="99.7" y="488.9" font-size="12.3" text-anchor="end" fill="#262626">1</text>
<text x="107.3" y="481.2" font-size="11.5" fill="#262626">×</text>
<text x="117.2" y="481.6" font-size="12.8" fill="#262626">10<tspan font-size="10" dy="-5.6">-5</tspan></text>
<text x="414.5" y="24.2" font-size="30" font-weight="bold" fill="#000">B</text>
<text x="555.1" y="56.7" font-size="15.7" text-anchor="middle" fill="#262626">N1, d=14 @ 2013/04/07 03:00</text>
<path d="M412.3 330.6H698.0M412.3 320.5H698.0M412.3 313.3H698.0M412.3 307.8H698.0M412.3 303.2H698.0M412.3 299.4H698.0M412.3 296.1H698.0M412.3 293.2H698.0M412.3 273.3H698.0M412.3 263.2H698.0M412.3 256.1H698.0M412.3 250.5H698.0M412.3 246.0H698.0M412.3 242.1H698.0M412.3 238.8H698.0M412.3 235.9H698.0M412.3 216.0H698.0M412.3 206.0H698.0M412.3 198.8H698.0M412.3 193.3H698.0M412.3 188.7H698.0M412.3 184.9H698.0M412.3 181.6H698.0M412.3 178.6H698.0M412.3 158.8H698.0M412.3 148.7H698.0M412.3 141.5H698.0M412.3 136.0H698.0M412.3 131.5H698.0M412.3 127.6H698.0M412.3 124.3H698.0M412.3 121.4H698.0M412.3 101.5H698.0M412.3 91.4H698.0M412.3 84.3H698.0M412.3 78.7H698.0M412.3 74.2H698.0M412.3 70.4H698.0M412.3 67.0H698.0M412.3 64.1H698.0" stroke="#e8e8e8" stroke-width="1" stroke-dasharray="2 1.5" fill="none"/>
<path d="M412.3 290.5H698.0M412.3 233.3H698.0M412.3 176.0H698.0M412.3 118.8H698.0M439.3 61.5V347.8M482.4 61.5V347.8M525.5 61.5V347.8M554.3 61.5V347.8M583.0 61.5V347.8M626.1 61.5V347.8" stroke="#e6e6e6" stroke-width="1" fill="none"/>
<rect x="429.3" y="301.9" width="183" height="33.3" fill="#fff"/>
<path d="M411.7 252.7C411.9 251.0 413.0 238.6 413.5 235.3C414.0 232.0 416.1 224.1 416.7 220.0C417.3 215.9 418.7 196.8 419.1 194.2C419.6 191.6 420.7 192.3 421.2 194.2C421.7 196.1 423.4 214.6 424.0 213.0C424.6 211.4 426.3 181.5 426.7 178.1C427.1 174.7 427.6 177.4 427.9 178.8C428.2 180.2 429.2 190.7 429.5 192.1C429.8 193.5 430.6 191.6 430.9 192.8C431.2 194.1 431.9 204.3 432.3 204.6C432.7 204.9 434.0 197.1 434.4 195.6C434.8 194.1 435.8 187.8 436.2 190.0C436.6 192.2 438.2 217.7 438.6 217.9C439.0 218.1 439.6 195.1 440.0 192.1C440.4 189.1 441.8 187.8 442.4 187.9C443.0 188.0 445.6 191.3 446.3 193.5C447.0 195.7 449.0 209.9 449.7 209.5C450.4 209.1 452.4 189.4 453.2 189.3C454.0 189.2 456.7 206.7 457.4 208.1C458.1 209.5 459.6 202.3 460.2 203.2C460.8 204.1 463.1 216.4 463.7 217.2C464.3 218.0 466.0 211.1 466.5 210.9C467.0 210.7 468.1 214.9 468.6 215.1C469.1 215.3 470.7 212.6 471.4 213.0C472.1 213.4 475.0 217.7 475.6 219.3C476.2 220.9 477.1 229.3 477.6 229.0C478.1 228.7 479.7 218.6 480.4 216.5C481.1 214.4 483.8 207.4 484.6 208.1C485.4 208.8 487.4 222.4 488.1 223.5C488.8 224.6 491.0 220.4 491.6 219.3C492.2 218.2 493.8 214.5 494.4 213.0C495.0 211.5 496.6 204.0 497.2 203.9C497.8 203.8 499.3 213.3 500.0 212.3C500.7 211.3 503.7 195.6 504.5 194.0C505.3 192.4 507.4 197.1 508.0 196.0C508.6 194.9 510.4 186.1 511.0 183.0C511.6 179.9 513.6 166.5 514.1 164.7C514.6 162.9 516.0 167.3 516.5 164.7C517.0 162.1 518.9 141.5 519.5 138.4C520.1 135.3 521.7 134.1 522.3 133.4C522.9 132.7 525.0 133.5 525.6 131.8C526.2 130.1 527.6 117.8 528.1 116.1C528.6 114.4 530.0 115.4 530.5 114.5C531.0 113.6 532.8 107.8 533.3 107.1C533.8 106.4 534.9 109.1 535.5 107.1C536.1 105.1 539.0 89.3 539.6 87.3C540.2 85.3 540.8 86.4 541.2 87.3C541.6 88.2 543.1 96.1 543.7 96.4C544.3 96.7 546.8 90.5 547.5 90.6C548.2 90.7 549.7 94.4 550.3 97.2C550.9 100.0 552.8 117.6 553.3 118.6C553.8 119.6 554.4 108.1 555.2 107.1C556.0 106.1 559.7 107.5 561.0 108.7C562.3 109.9 567.3 118.4 568.4 119.1C569.5 119.8 571.0 116.0 571.7 115.3C572.4 114.6 575.0 112.9 575.8 112.5C576.6 112.1 579.2 110.4 580.0 110.9C580.8 111.4 583.4 116.1 584.1 117.8C584.8 119.5 586.5 127.1 587.4 127.7C588.3 128.3 591.8 123.5 593.1 124.0C594.4 124.5 599.8 131.6 600.6 132.6C601.4 133.6 601.1 133.2 601.5 134.0C601.9 134.8 603.6 140.2 604.1 140.6C604.6 141.0 606.1 138.2 606.6 138.0C607.1 137.8 608.6 139.1 609.1 139.0C609.6 138.9 611.1 137.8 611.7 137.5C612.3 137.2 614.5 135.7 615.2 135.5C615.9 135.3 617.7 136.1 618.3 136.0C618.9 135.9 620.2 135.4 620.8 135.0C621.3 134.6 623.3 132.6 623.8 132.3C624.3 132.1 624.9 131.6 625.4 132.5C625.9 133.4 627.7 140.5 628.4 141.1C629.1 141.7 631.3 138.6 632.0 138.5C632.7 138.4 634.3 139.4 635.0 140.1C635.7 140.8 638.3 145.9 639.0 145.6C639.7 145.3 641.4 138.1 642.1 137.5C642.8 136.9 644.9 139.4 645.6 140.1C646.3 140.8 648.1 144.4 648.7 144.6C649.3 144.8 650.5 142.2 651.2 142.1C651.9 142.0 654.3 143.8 655.3 144.1C656.3 144.3 660.0 144.0 660.9 144.6C661.8 145.2 663.4 150.2 664.4 150.2C665.4 150.1 669.4 144.0 670.5 144.1C671.6 144.2 674.7 150.5 675.6 150.7C676.5 150.8 678.4 146.8 679.1 145.6C679.8 144.4 682.0 139.5 682.7 139.0C683.4 138.5 685.1 140.8 685.7 140.6C686.3 140.3 688.0 137.0 688.7 136.5C689.4 136.0 692.1 134.8 692.8 135.5C693.5 136.2 694.8 142.0 695.3 143.1C695.8 144.2 697.6 146.3 697.9 146.7" stroke="#0f72bd" stroke-width="2.4" fill="none" stroke-linejoin="round" stroke-linecap="round"/>
<path d="M412.3 290.5h2.9M698.0 290.5h-2.9M412.3 233.3h2.9M698.0 233.3h-2.9M412.3 176.0h2.9M698.0 176.0h-2.9M412.3 118.8h2.9M698.0 118.8h-2.9M412.3 330.6h1.6M698.0 330.6h-1.6M412.3 320.5h1.6M698.0 320.5h-1.6M412.3 313.3h1.6M698.0 313.3h-1.6M412.3 307.8h1.6M698.0 307.8h-1.6M412.3 303.2h1.6M698.0 303.2h-1.6M412.3 299.4h1.6M698.0 299.4h-1.6M412.3 296.1h1.6M698.0 296.1h-1.6M412.3 293.2h1.6M698.0 293.2h-1.6M412.3 273.3h1.6M698.0 273.3h-1.6M412.3 263.2h1.6M698.0 263.2h-1.6M412.3 256.1h1.6M698.0 256.1h-1.6M412.3 250.5h1.6M698.0 250.5h-1.6M412.3 246.0h1.6M698.0 246.0h-1.6M412.3 242.1h1.6M698.0 242.1h-1.6M412.3 238.8h1.6M698.0 238.8h-1.6M412.3 235.9h1.6M698.0 235.9h-1.6M412.3 216.0h1.6M698.0 216.0h-1.6M412.3 206.0h1.6M698.0 206.0h-1.6M412.3 198.8h1.6M698.0 198.8h-1.6M412.3 193.3h1.6M698.0 193.3h-1.6M412.3 188.7h1.6M698.0 188.7h-1.6M412.3 184.9h1.6M698.0 184.9h-1.6M412.3 181.6h1.6M698.0 181.6h-1.6M412.3 178.6h1.6M698.0 178.6h-1.6M412.3 158.8h1.6M698.0 158.8h-1.6M412.3 148.7h1.6M698.0 148.7h-1.6M412.3 141.5h1.6M698.0 141.5h-1.6M412.3 136.0h1.6M698.0 136.0h-1.6M412.3 131.5h1.6M698.0 131.5h-1.6M412.3 127.6h1.6M698.0 127.6h-1.6M412.3 124.3h1.6M698.0 124.3h-1.6M412.3 121.4h1.6M698.0 121.4h-1.6M412.3 101.5h1.6M698.0 101.5h-1.6M412.3 91.4h1.6M698.0 91.4h-1.6M412.3 84.3h1.6M698.0 84.3h-1.6M412.3 78.7h1.6M698.0 78.7h-1.6M412.3 74.2h1.6M698.0 74.2h-1.6M412.3 70.4h1.6M698.0 70.4h-1.6M412.3 67.0h1.6M698.0 67.0h-1.6M412.3 64.1h1.6M698.0 64.1h-1.6M439.3 61.5v2.9M439.3 347.8v-2.9M482.4 61.5v2.9M482.4 347.8v-2.9M525.5 61.5v2.9M525.5 347.8v-2.9M554.3 61.5v2.9M554.3 347.8v-2.9M583.0 61.5v2.9M583.0 347.8v-2.9M626.1 61.5v2.9M626.1 347.8v-2.9" stroke="#262626" stroke-width="1" fill="none"/>
<rect x="412.3" y="61.5" width="285.7" height="286.3" fill="none" stroke="#999" stroke-width="1.6"/>
<text x="406.0" y="355.2" font-size="14" text-anchor="end" fill="#262626">10<tspan font-size="10.5" dy="-6.8">-3</tspan></text>
<text x="406.0" y="297.9" font-size="14" text-anchor="end" fill="#262626">10<tspan font-size="10.5" dy="-6.8">-2</tspan></text>
<text x="406.0" y="240.7" font-size="14" text-anchor="end" fill="#262626">10<tspan font-size="10.5" dy="-6.8">-1</tspan></text>
<text x="406.0" y="183.4" font-size="14" text-anchor="end" fill="#262626">10<tspan font-size="10.5" dy="-6.8">0</tspan></text>
<text x="406.0" y="126.2" font-size="14" text-anchor="end" fill="#262626">10<tspan font-size="10.5" dy="-6.8">1</tspan></text>
<text x="406.0" y="68.9" font-size="14" text-anchor="end" fill="#262626">10<tspan font-size="10.5" dy="-6.8">2</tspan></text>
<text x="439.3" y="368" font-size="14" text-anchor="middle" fill="#262626">0.02</text>
<text x="482.4" y="368" font-size="14" text-anchor="middle" fill="#262626">0.05</text>
<text x="525.5" y="368" font-size="14" text-anchor="middle" fill="#262626">0.08</text>
<text x="554.3" y="368" font-size="14" text-anchor="middle" fill="#262626">0.1</text>
<text x="583.0" y="368" font-size="14" text-anchor="middle" fill="#262626">0.12</text>
<text x="626.1" y="368" font-size="14" text-anchor="middle" fill="#262626">0.15</text>
<text x="698.0" y="368" font-size="14" text-anchor="middle" fill="#262626">0.2</text>
<text x="555.1" y="388.9" font-size="15.4" text-anchor="middle" fill="#262626">frequency (Hz)</text>
<text transform="translate(372.4 204.4) rotate(-90)" font-size="15.9" text-anchor="middle" fill="#262626">E (m<tspan font-size="11.5" dy="-6.5">2</tspan><tspan dy="6.5">/Hz)</tspan></text>
<text x="440.4" y="325.8" font-size="19.3" fill="#000"><tspan font-style="italic">H</tspan><tspan font-size="13.5" font-style="italic" dy="3.7">s</tspan><tspan dy="-3.7">=4.2, </tspan><tspan font-style="italic">H</tspan><tspan font-size="13.5" font-style="italic" dy="3.7">s,IGW</tspan><tspan dy="-3.7">=0.5</tspan></text>
<path d="M439.3 459.7V744.5M412.3 717.6H698.0M482.4 459.7V744.5M412.3 674.6H698.0M525.5 459.7V744.5M412.3 631.6H698.0M554.3 459.7V744.5M412.3 603.0H698.0M583.0 459.7V744.5M412.3 574.3H698.0M626.1 459.7V744.5M412.3 531.3H698.0" stroke="#e8e8e8" stroke-width="1" fill="none"/>
<path d="M696.6 467.3l-1.1-0.5-0.4-1.5 1.5-0.4 1.2 0.5-0.6 1.4-0.6 0.5M698 606l-2.9-1.7-1.4 0.1-2.8 3.3-2.9-1.1-1.3-1.7-0.1-1.7 5-2.5-0.2-2.9 3.7-2.6 1.1-0.2-1.1-1.6-2.8-0.3-2.9-0.8-3.7-3-0.3-1.4 1.2-0.5 4.3 0.8 1.5-0.3-1.8-2.9-2.6-2.8-4.3-6.8-1.4-1.1-2.6 0.7-0.5 1.5 2.4 4.2-0.7 0.8-2.9-0.6-2.9 0.4-0.8 2.3-4.9-0.9-1.4 1.6-7.1-3.9 0.9 3.2-0.9 0.8-2.9-1.3-2.9-0.2-0.7-0.7-0.9-4.3-1.2-1.3-2.9-0.4-1.1 0.3 0.5 2.8-0.8 0.8-2.9-4.1-4.2 0-3.3-3.8-2.5-1-1.7 1 1.3 2.8 1.9 2.6 1.4 1.2 1.4 0.3 1.5-0.5 1.4 0.7 1.9 2.9-0.5 1.3-2.8-1.1-4.4-0.2 2.8 5.7 0 2.8 1.6 1 1.4 0.5 2.8-2 0.6-3.8 0.9-1.2 2.8 2.8 1.5-2.9 4.2 0.4 4.3 2.7 2.9-0.3 2.8 1.7 4.3 1.2 1.2 1.3 0.4 1.5-0.2 1.4-1.4 1.9-1.4 0.5-3.2-1-1.3-1.4-0.3-1.4-0.9-1.5-2.9 2.6-2.3 3.1 2 4.3-0.5 2.8 2.6 2.9 0.3 1.4-0.6 0.9-1.5-0.2-1.5-2.1 0.1-1.4-2.9-1.5-3.8-4.2-3.3-2.3-2.9-3-1.4-0.5-1.4 1.5-0.6 1.4 1.1 2.9 2.3 3.2 1.5 1.3 1.4-0.2 0.5-1.5 0.9-0.1 0.3 1.5 1.8 2.9 3.6 3.3 8.6 4.1 1.4-0.8 1.5-0.1 4.3 2.6 1.4 0.4 2.1 1.9-0.7 0.9-1.4-0.1-3.1 2 0.2 1.5 2.7 2.8 0.4 1.4-1.6 0.6-1.5-0.1-4.3-3.3-0.9-1.4-0.3-2.9-1-1.4-2-1.5-4.3-2-1 0.6 0.4 2.9 0.9 1.4-0.3 0.9-5.7-0.2-2.9-1.7-2.1-3.3 3.6-1.4-0.2-1.4-2.3-2.9-4.7-2.5-1.4 0.1-0.3 3.9-2.6 0.2-1.7 1.2 0.1 1.4 2.7 4.3-0.2 1.4-0.9 0.4-5.5-4.7-3.1-4.7-4.3-1.8-3.1-2-1.7-2.9 0.6-1.7 1.4-0.6 3.2 0.9-0.7-1.4-0.5-4.3-3.2-4.2-0.5-1.5 0.3-5.6 5.7 1.9 0.4-0.5 0.1-2.9 0.9-1.1 2.9 2 0.8-0.9-0.8-2-1.5-1.6-2.8 1.7-4.3-3.1-1.4 0.8-4.3 0.6-5.7-4.5-0.9 1-2 0.4-2.9-1.3-1.7-2-0.4-1.4 0.7-0.2 5.7 2.2 1.5-2.5 1.4-0.8 1.4 1.2 2.9 4 1.4 1.3 1.4 0.5 1.5-1.5 0.3-1.3 2.1-2.9-0.2-1.4-3.7-4.3-2.8-2.1-1.5-0.2-2.8 2.5-1.7-1.6-0.2-1.4 0.5-1.2 1.4-1.6 2.8-0.1 0.2-1.4-1-1.4 0.8-1.4 3.2 1.4 4.1 5.7 1.3 2.4 1.4 0.2 1.5-1.6 2.8-0.4 0.8-0.6 0.7-5.6 1.6 1.3 4.1 2 1.3-0.6 1.5-1.3 1.5-0.5 0.8-1-0.9-2.9-1.5-2.8 1-2.9-0.9-1.4 1.5-0.6 2.1 3.5 2.1 1.4 1.5 0.3 1.3 1.1-0.1 4.3 2 4.3 0.1 1.4-0.5 0.5-1.4 0-2.2-1.9-0.7-1.9-1.3 0.4 1 1.5 2.1 5.6 1.1 1.5 2.9 0.6 1.4 1 5.7 4.8 0.8-0.7-0.8-3.5-4.9-6.5-0.4-4.3 2.3-2.8-0.9-2.9 1-0.5 4.3 2.7 1.5 0.1 1.4-0.1 0.9-0.7-0.4-1.5-1.2-1.4-4.1-2.8-0.9-1.5-1.1-4.2-3.2-2.4-1.4-0.4-1.5 0.8-1.4-0.8 2.6-1.5-0.5-2.9-5-5.7-2.8-0.9-1.4 0.1-1.5 0.7-2.8-1.1-1.5 0.4-1.4-0.9-2.8-0.3-1.1-0.8 0.7-5.7 0.8-1.4 2.4-0.4 5.7-4.5 7.2-9 2.8-2.6 2.9-1.7 1.4-3 2.9-1.4 1.9-1.6 3.6-4.3 1.6-3.1 2.8-1.2 1.5-2.3 5.7-2.9 1.4-3.3 5.8-4.1 1.3-3 1.5-1.7 1.4-1.1 2.9-0.5 0.8-1 0-2.9 0.6-2.2 1.5-0.4 3.9 1.2 1.8 3 1.4-1.9M698 476.4l-1.4-0.5-3.6-3.4-0.7-0.1-1.4 0.9-1.5 1.9-0.1 3 0.7 1.4 2.3 0.8 1.4 0 2.9-2.4 1.4 0.4M691.1 491l0.5-1.4-0.6-1.4-3-7-1.4-1.1-0.3 1 0.3 1.4-0.5 1.4-1 0.6-2.8-0.7-2.9 1.3 2.9 3.3 1.4 0.8 2.9 0.6 2.8 1.3 1.7-0.1M698 501.7l-0.8 0.7 0 2.9-0.6 0.5-1.5-0.3-3.8-3.1-2.4-2.8-0.2-1.5 0.7-0.5 2.9 0.5 1.4-0.4 0.7-1-1.5-1.4-2-0.8-1.5 0.2-1.4 1.5-1.4-0.6-4.3-4-5.7-3-1.5 0.2-0.9 0.8-1.9 2.9-3.1 1.4-0.7 2.8 0.9 1 1.5 0.3 2.8-0.5 1.4-0.8-1.6-2.8 0.2-0.7 2.1 0.7 1.1 1.4-1.7 1.4 3.7 4.3-0.9 1-2.9 0.6-1 2.7-3.2 1.3-2.5-4.2-1.6-1.4-1.7-0.6-1.3 0.6 0.6 2.8 1.8 4.3 1.8 1.6 1.4-0.1 1.5-2.8 3.9 4.2 4.2 8.5 0 2.9 1.9 1.7 0.4-0.3-1.1-2.9 2.1-0.7 1.6-2.1-0.6-1.4-2.6-2.9 1.6-0.7 1.4 0.6 1.4-1.4 1.5-0.3 1.4 0.6 1.1 1.2 0.4 1.4-1.5 1.3-1.4-0.3-1.2 0.5 1.1 1.4 2.9 2.1 1.5-1.2 4.2 0.3 2.9 2.2M689.4 506.8l-2.8 0.3-1.6-0.4-1.9-1.4-0.5-2.9-2-2.8-1.3-2.9 0.1-0.7 1.5-0.6 3.8 1.3 1.7 1.4 3 7.2 0 1.5M698 525l-2.9-0.8-4.2-2.9-1.5 0.2-0.7 3.7 0.4 1.4 3.1 4.3 0.4 1.4-0.3 1.3-3.6-1.3-2.1-2.9-2.9-2.3-1.4 1.3-0.5 1.1 0.7 1.4 3.5 2.8 0.8 1.5 0.1 1.4-1 2.8-2.7 1.5 0 1.4 2.3 5.7-0.4 1.9-1.4-0.2-2.8-2.9-4.3-1-2.9-2-1.4 0.1 2.8-0.7 0.2-0.9-0.9-1.4-1.4-4.3-2.3-2.9-0.3-1.4 0.5-0.5 8.5 8 1.5 0.4 0.9-0.8-0.9-2.8-0.5-4.3-1.8-1.4-1.8-2.8-3.2-2.9-0.6-1.4 1-2.9-6-6.5-2.9-1.6-1.8-1.8-1.2-1.5-0.4-2.8-1-1.4-1.3-0.2-1.4 2.6-3 1.8 0.1 1.4 2.9-0.1 1.4 1.4 0 1.6-1 1.4 0.2 1.5 1.8 4.2 1.9 3.1-1.4 0.4-2.9-0.4-1.4 0.6-1.5 0-2.4-2.2-1.8-5-1.5-1.8-0.5 1.1-1.5 1.4 0 1.4 1.2 2.9-0.2 1.4-1.1 1.4 6.4 5.2 4.3 1 3.1 3.8 0.4 1.4-1 2.8-1.1 0.3-1.4-0.8-4.3-4.7-1.4-0.9-2.9-0.1-2.8-1.5-0.5 0.6 4.8 5 5.7 7.7 1.4 0.7 1.4 0.1 2.4-2.1-1.2-2.8 0.3-1.1 2.8 0.9 2.9-0.1 1.4 0.7 2.9 3.8-1.5 0.3-1.4-0.7-1.4 0.1-0.9 0.3 0.5 1.5 7.5 5.7 4.8 2.8 1.7 1.4 0.7 2 0.1-2-0.6-2.8 1.9-0.7 5.7 0.4 2.9 1.4 2.3 1.7 1.5 1.5 0.8 1.4-0.7 1.4-1.1 0.7-2.8 0.2-1 0.5-0.5 2.8-1.8 0.1 0.5 1.4 4.9 4.3 0.7 1.3 0.5-1.3-0.7-2.9 3.1-0.7 0.4-0.7-0.7-2.8 0.3-0.5 1.4-0.1M644.2 522.4l-0.5-0.5-0.5 0.5 0.5 0.5 0.5-0.5M698 531.4l-1.1-1.9 0.5-1.4 0.6-0.3M629.4 558.8l-6-5.1-1.7-2.9-0.8-0.6-4.3 1.5-2.9-1.1-1.1 5.9-1.7-2.1-0.3 0.7-1.2 0.8-1.4 0-1.4 0.9-0.5-0.3-0.2-1.4 0.3-2.8 1.8-2.8 4.3-3.2 1.1-2.6 3.2-0.9 1.4-1.2 0.7-2.2-0.3-1.4 1-1.4 4.3-1.2 2.9-2 1.7 1.8-2 2.8 0.3 0.6 1.4 0.3 2.9-0.8 2.8 1.2 2.9-1 1.4 0.8 2.5 3.2-0.2 1.4-2.3 0.7-2.9 3.2 0 2.5-1.4-0.3-5.7-4.7-1.4-0.5-2.4 0.5-0.6 1.5 0.6 1.4 3.2 2.8 0.9 2.9 2.4 4.3-1.3 0.8M693.7 541l-2.2-1.6-0.4-1.4 1.2-0.2 1.4 1.1 0.4 0.5-0.4 1.6M698 555l-4.6-7-0.7-2.9 1-0.9 2.2 0.9 2.1 1.6M639.4 549.4l0-1.6 0 1.6M649.4 555.3l-1.4-0.3-1.2-1.3-0.2-1.4 1.4-0.8 0.8 0.8 1.1 1.4 0 1.4-0.5 0.2M602.3 561.1l-1.4-0.5-1.1-1.2 0-1.4 2.5-0.8 1.9 0.8-0.1 1.4-1.8 1.7M613.7 558.5l-0.4-0.5 0.4-1.1 1.3 1.1-1.3 0.5M670.7 562.2l-1.2-1.4-1.5-0.6-1.4-0.3-0.9 0.9 0.9 2.2 1.4 0.5 2.7-1.3M634.6 744.5l3.4-0.6 1.3-0.8-0.4-1.4-2.3-3-1.5-1-4.2 0.1-3.6-1.8 2.5-1.5 0.8-1.4-0.2-4.3-2.4-2.6-2.9-1.2-1.2 1 2.5 4.3-1.5 1.4-0.4 1.4 1.6 2.9-1 0.1-2.8-1.5-1.4-0.1-1.5 0.4-2.8-1.1-1.8-2.1-1.1-3.6-4-2.1-1.5-1.4-0.4-2.9 0.2-0.4 1.4 0.3 5.7 5.6 1.5-0.9 0.5-3.2 0.1-1.4-0.7-1.4-4.2-3.1-2.3-2.6-0.6-1.7 1.5-1 2.8 0.8 8.6 5.2 1.4 0.4 1.5-0.9-2.9-3.7-1.4-1.4-2.9-0.4-1.9-1.6 0.5-1.4 1.4-0.6 2.9 2.7 2.8 1 2.8 2.6 1.4 2.8-0.6 1.5 2.1 3.9 1.5 1.7 1.4 0.5 1.4-0.4-0.2-1.5 1.6-0.9 1.5 0 2.8 2.5 1.5 0.6 2.8-1.7 2.9-0.7 2.8 1.5 1.5 0.1 3-1.4-0.6-1.4-3.9-5.3-4.3-1.5-2.8-2.4-4.3 1.7-0.8 1.8 0.4 1.4 2 2.9-0.2 0.6-1.4 0.4-1.4-1-2.9-4.8-3.8-2.3-4.8-3.9-1.4-0.9-4.3 0-5.3-8-1.8-1.9-1.1 0.4 0.4 1.5 2.6 4.2-0.5 0.6-1.4 0.2-1.4-0.6-5.2-4.4-3.4-5.5-3.8-3.1-0.2-1.4 1.1-0.6 2.9 2.2 1.4 0.4 1.4-0.6 0.7-1.4-1.4-2.9-1.7-1.4-1.8-0.9-1.5 0-1.4 2.3-1.4-0.8-1.5-1.6-1.4-0.5-1.1 1.5-0.3 4-1.4-0.1-5.8-6.2-2.9-2 1.5-1.4 5.7-0.4 0.8-1-1.4-2.9-0.2-2.8-0.6-1.2-5.7 1.5-2.9-0.8-1.2-0.9-1.4-2.9-2.3-2.8 0.3-1.4 1.8-0.2 1.4 0.6 2.9-0.5 4.2 0.9 1-0.8 0.5-3.2-1.5-2.1-1.4 0.1-4.3 2.4-2.8-0.4-1.5-1-3.8-4.4-0.5-1.4 0.7-1.4 0-1.5-8.4-7.1 2-0.4 1.5 0.2 4.3 3.9 5.7 3.7 1.4 0.7 1.3-1-3.7-5.7-0.5-2.8-1.3-2.9-4.8-7.1-2.4-2-4.2-5.1-7.2-5.4-3.2-4.6 0.3-0.7 1.4-0.3 1.5 0.4 7.1 5.4 1.8-0.5 0.6-1.4-1.9-2.9-6.6-5.7-3.8-4.2 1.3-1.4 1.2-2.9 5.1-4.3 1.3-4.2 1-1.8 1.4-1.2 4.3-0.3 0.5 0.4-1.4 1.4 0.4 1.5 2.3 1.4 1.9 0 0.4-1.4-2.2-2.9-0.4-1.4 2.8-2.7 1.2-0.2 0.1-1.4 1.5-0.7 1.5-2.1 1.4-4.7 1.4-0.8 1.5 0.2 4.2-3.9 2.9-1.5 0.8-3.6 2.1-2.3 2.8-1.2 2.9-2.3 1.4-0.6 1.4 1.3 0.3 0.9-0.5 1.4 0.2 1.3 2.7 5.8-1.2 0.7-1.5-0.1-2.8-0.7-2.9-1.5-4.1 3-0.8 1.4 0.6 1.6 2.9 1.3 1.4 4.8 3 2.3-3.1 1.4 1.3 4.3 3.1 2.1 2.9 1 0.4-0.2 0.2-1.5-0.4-1.4 1.2-1.2 5.7 0.7 2-0.9-2.5-2.9-6.2-2.8-1.6-1.4-1.9-4.3 0.2-0.9 2.9 0.4 2.8 1.5 5.7 5.9 4.3 1.8 1.3 2.7-3.5 1.4 3.6 4 3.6 1.7-0.7 0.6-5.7 1.2-2.9 1.7-1.4-0.1-4.3-3.1-1.4 0.5-0.6 3.5-0.8 1.4-1.5-0.4-2.8-2.2-0.3 1.2 2.5 2.8 0.5 1.4 0.1 2.9 2.9 1.5 2.8-0.1 2.9-4.8 1.4-0.2 2.9 1 1.3-1.7 0.1-1 1.4 0.4 4.7 4.9 1.1 2.8 0 2.9-0.7 1.4 0 1.4 4.1 4.3 0.1 1.4-0.7 0.9-1.7 0.6-1.2 2.8 0.2 2.9 1.1 4.2 1.6 1.8 1.4 0.6 2.2-2.4 0.7-0.4 1.4 0.1 2.9 1.3 2.7 3.3 0.1 1.4-1 1.4-0.2 2.9-2.4 2.8 0.4 4.3 3.2 2.7 1.5-0.6 1.8-2.1-1.9-5.7 2.9-0.4 7.2 3.4 2.8 4.6 5.7 5.2 1.6-2.8-0.1-2.9 1.6-1.4-2.1-4.3 0.5-1.2 2.8 1.6 4.3 0.3 5.7 3.4 4.3 1.2 4.6 6.1 0.2 1.5-0.5 1-2.1 0.4-1.9-4.3-3.1-2.2-1.5 0.6-0.5 3-0.9 0.2-4.3-1.8-1.4 0.3-2.9 2.6-1.4 0.1-2.9-1.4-1.4 1-5.7-3.2-4.3-3.7-0.5 0.2 0.5 1.6 3.3 2.7 0.6 4.3-1 3-1.5 1.1-1.4 0.5-0.5-0.3-1.2-4.3-2.6-2.3-1.4 0.2-2.4 2.1-0.1 1.4 1.1 1.8 1.4 0.7 4.3 0.5 1.4 2 0.3 2.1-0.3 1.4-5.7-1.9-2.9 0.2-1.4-0.5-0.7-3.4-3.5-4.3-2.9-4.9-2.9-0.2-1.4-1.2-0.6-3.7-1.3-2.8-0.5-2.9-2.6-2.8-2.2-1.4-1.4-0.4-0.6 0.3 0.2 1.5 1.8 2.8 0.3 1.4-1.7 0.6-2.8-1.5-2.9-2.4-2.9-0.8-3.9-4.4-3.2-2.1-2.9-1.1-1.4 0-0.7 1.8 1 1.4 4 2.5 1.7 1.8-0.2 1.4-1.9 2.8 0.3 5.7 1.5 2.3 1.3 0.6 1.2 1.4-0.2 4.3 1 1.4 2.4 2.1 4.3 2.3 0.7-1.5-0.2-1.5-1.4-2.8 0.9-0.2 7 4.5 1.2 1.4 1.8 3.7 0.6-0.9 0-2.8 0.9-1 2.8 0.8 3.2 3 1.9 4.3 0.6 0.4 1.4-1.8 1.5 0.4 0.8 1-0.5 1.4 1.1 0.3 4.3 4.9 2.9 0.9 7.1 3.8 1.4-2.3 4.3-0.4 2.9 0.8 0.5-2.3-3.3-2.8 1.3-1.2 2.9-0.8 1.4-1.5 2 2 0.9 2.9 3.3 5.7 2.4 2.4 1.4 0.3 1.6-2.7 1.3-1.2 2.8 1.1 4.3-0.5 0.8-0.8-2.8-4.3 2-1 4.3 0.4 1.3-0.8 0.1-2.5-1.4-1.4-1.4 0.8-1.4-0.1-1.5-0.8-3.3-3.1-2.4-4.6-1.4-1.6-1.8 1.9-0.3 1.4 1.3 2.9-0.6 1.1-1.5-1.1-1-1.5-6.1-4.2 4.3-3.2 2.8 0.6 0.6-0.3 0.1-1.4 0.8-1 4.2 1.3 1.2 2.5 3.8 2.9 2.1 4.3 1.5 1.7 0.7-1.7-0.3-1.5-1-1.4-1-2.8 2.2-2.9 1.1-2.8-1.2-4.3 0.3-1.4 2.1-1.9 4.3-1.6 1.4 0.7 2.8-0.7 2.9 0.2M688.2 576.5l-0.2-2.4-5.7-12.8-1.4 1-0.5 1.4-0.2 2.8 0.4 1.4 3.1 5.6 4.5 3M675.5 576.5l-2.5-4.3-3.6-2.9-2.8-4.2-1.5-0.4-1.9 0.4 0 2.8 0.9 1.4 2.5 2.6 1.5 0.3-1.5 0.6-0.5 0.8 0.1 1.4 1.5 1.5 1.7 0.7 0.4-0.7-1.1-2.9 0.7-0.4 1.7 1.8 2.6 1.9 1.4 0.1 0.4-0.5M698 577.4l-2.9-4.7-1.4-0.3-1 2.6 0.1 1.5 0.9 1.9 4.3 3.3M596.6 576.8l-0.3-0.3 0.3-1.6 1.1 1.6-1.1 0.3M589.7 587.9l-0.2-1.5-1.2-1.4-2.9-1.4-1-1.4-0.2-1.5-0.8 0 0.3 2.9 1.6 2.8 2.7 1.8 1.4 0.1 0.3-0.4M645.1 585.3l-0.6-1.7 0.7 0 0.7 1.4-0.8 0.3M588.8 599.3l0-4.3-0.2-1.4-0.6-0.7-2.9-0.8-2.2-1.4-3-4.3-1.9-0.7-1.3 0.7-0.1 1.5-1.5 0.2-0.4 1.2 1.9 3 7.1 3.8 4.3 3.8 0.8-0.6M600.9 590l-0.3-0.7 1 0-0.7 0.7M680.9 595.4l-1.5-1.8 0-4.4 1.5 0.2 0.4 1.3-0.4 4.7M626.7 595l-0.4 0 0.4 0M698 594.8l-1.1 0.2 1.1 1.8M568.5 602.1l-0.3-2.8-1.6-1.8-2.9-0.9-2.6 1.2 6.9 4.8 0.5-0.5M680.9 598l-0.4-0.2 0.4-0.4 0.6 0.4-0.6 0.2M606.4 633.4l-2-2.8-0.6-2.9-1.6-2.8 0.1-2.9-2.4-2.8-0.9-2.9-2.4-3.3-1.5-1.3-2.8-0.3-4.3-2-2.9-0.3-4.2-8-1.5-1-2.8-0.8-0.3 1.4 1.7 2.5 4.3 4.7 2 1.3 1.1 2.9 4 4.2 0.4 1.5-0.4 0.9-2 1.9 1.3 2.9 0.7 0.8 4.3 1.2 1.2 0.8 4.5 4.7 5.7 3.1 1.3-0.7M682.3 645.3l-4.3-6-0.9-4.4 0.9-1.6 2.4 0.1 2.7-2.8-0.8-0.5-1.4 1.1-5.4-3.5 0-1.4 2.8-1.4-0.7-1.4-3.3-2.9 0.8-0.6 4.3-0.6 4.3 1.5 0.6-0.3 0.5-1.4-2.5-3.6-4.3-0.2-2.9-0.9-2.8-0.2-10-7.9-0.4-1.5 0.4-0.4 3-1 2.1-2.8 2-1 1.5 0.3 2.1 2.1-0.5 2.8 4.1 0.6 3.9 2.3 0.4 3.3 1.4 0.9 0.9-1.4-0.9-1-1.3-0.4 1.3-0.5 1.4 0.2 4.3 3.8 4.3 2.6 1.7 2.5-0.3 0.8-2.8 0.2-1.3 1.8 3 2.9 2 2.8 0.4 1.4-0.3 1.5-4.3 2.8-0.8 1.4 0.4 1.5 4.4 4.2-0.6 1.4-2.7 1.5-0.2 0.7-1.5 1-4.3-3.8-1.4-0.1-1 2.2 0.2 2.8-0.6 0.5M648 602.7l0-0.7 0 0.7M678 602.3l0-0.4 1.2 0.2-1.2 0.2M589.5 653.4l2.8-1.1 1.7-1.8-1.2-1.4-5.7-4.3-0.5-1-1.2-0.4 2.3-2.9-3-2.8-1.4-2.8 1.8-2.2 2-0.7-0.2-1.4-1.7-2.9-0.4-1.4 0.6-1.4-0.3-1.4-5.7-4.8-7.1-2.6-4.3-4.1-5.3-7.1-1.8-1.6-2.9-1.2-1 1.4 0.8 1.4 6.9 8.6 1.4 2.8 1.1 4.3-0.1 4.3 0.7 1.4 4.5 3.6 0.7-0.7-2-5.7-0.1-1.5 1.4-1.3 1.9 1.3 0.9 2.9 3.1 4.3 1.4 2.8-0.3 1.4-1.3 0.4-2.9-1.3-0.3 0.9 4.6 4.9 4.8 3.7 0.9 1.4 0 2.1-0.3 0.7-2.5 1.5 4.3 5.1 1.4 0.6 1.5 0M593.8 607.8l-1.5-3.2-1.4-1.2-0.8 3 2.2 1.9 1.5-0.5M679.4 603.7l0-1.4 0 1.4M639.6 604.9l-0.2-0.8-0.2 0.8 0.4 0M549.4 609.4l-1.2-0.2 1.2-1.1 0 1.3M582.2 614.9l-3.1-4.3-4-2.2-0.4 0.8 0.4 1.2 2.9 4.2 2.9 1.6 1.3-1.3M611.6 629.2l2.1-1.2 1.3-1.7 1-4.3-0.3-2.8 0.4-1.4 2.6-2.9-2.1-4.2-1.5-1-1.4 0.2-2.8 2.2-0.3 1.4 2.7 4.3-0.9 1.4-1.5 0.4-4.3-1.3-0.4 0.9 4.5 7.1-2.1 1.4 1.2 1.5 1.8 0M566.6 640l-1.5 0.5-1.4-0.7-1.4-1.2-2.3-3.7-1.5-1.5-10.5-6.5-1.6-4.9-5.5-4.1-1.4 1.3-0.1 1.5-0.9-0.1 1.1-4.3 1.4-1.4 1.3-2.5 1.4-0.6 2.9 0.1 1.4-1.2 1.4 0.3 1.4 2.5 0.2 1.4-3 0.5-1.4-1-1.4 0-0.5 0.5 1.9 0.4 1.4 2 2.3 4.7 14.2 12.9 1.8 2.8 0.3 2.3M642.3 632.3l-4.3-2.5-2.9-0.8-1.4-1.2-2-2.9-1.9-4.3-3.2-1.1-3.2-3.2 2 0 3.9 1.5 5.7 4.2 3 1.2 1.4-0.4 7.2 1.9 1.3 1.6 0.5 1.4-0.4 2.1-4.3-1.7-1.5 1.1 0.6 2.8-0.5 0.3M698 623.3l-0.9-1.3 0.9-1.4M412.3 742.6l2.9 0.3 1.4-0.5 2.8-3.7 1.5-0.2 1.6 0.3-0.4-2.8 3.1-2.9 0.5-2.8 2.6-1.5 2.6-3.2 2.8 0 2.9 1.3 0.3 0.5-0.3 1.7 1.4 0.2 1.4-0.4 0.7 1.4 2.2 2.3 1.4-0.1 2.9-2.1 1.5-0.1 2.5-1.5 3.1 0.7 1.2-0.7 0.3-1.4 3.9 1.4 0.3 0.7 0.9-2.1-0.4-2.8 1-1.3 1.4 0 1.5 1.3 2.8 4 0.5-1.2-1.6-2.8 0.3-2.9-0.6-1-4.3-5.4-2.9-2.2-1.4-0.4-0.6 0.5 0.8 2.8 1.2 1.9 2.7 2.4-1.3 1-5.7 1.4-1.4-0.5-1.4-1.3-1.5-0.5-1.4 0.4-1.4-0.2-1.6 1.1-2.9 0-2.7 1.7-1.4-1.5 0-0.5 2-5.4 0.9-0.9 2.8 0 1.2-0.5 5.5-7.1 0.5-2.9 2.8-2.2 1.5-0.5 1.4 0.3 1.5-0.4-0.2 2.8 0.3 1.5-0.5 1.4 0.3 1.2 1.4 1.2 1.5-0.7 0-1.7 1.4-1 1.4 0.3 1.5-1.9 1.4-0.4 2.8 1.9 0.3-0.3-1.6-2.9-2.9-2.2-2.9 0.8-2.7-1.4 1.3-5.1 1.4-1.2 2.7-0.9 1.6-3.7 2.8-0.8 3.8-2.6 0.5-3.6 4.3-3.2 1.4-1.9 2.9-0.4 1.4 1.3-0.2 2.1 0.4 1.4-0.9 1.5 0.4 1.4 3.2 3.9 1.4 1 2.9 0.7 2.8 1.8 1.5-0.6 5.7 0.8 1.4-0.3 0-1.6-2-2.9 0.6-0.7 5.7 1.4 2.8 0.1 1.2-0.8 0.6-1.4-0.5-1.4 0.4-1.4 1.2-0.8 1.4 0.5 0.3 0.3-0.9 2.8 3.6 5.7 4.2 2.5 4.3 6.4 1.4 0.8 1.4-0.4 0.8-0.7 0.4-1.5-0.5-5.7-4-4.2-1.8-4.3-2.6-2.9-0.7-1.4 1.2-1.4-0.1-1.4-4.1-2.5-1.3-1.8-0.1-1.4 1-2.9 0.4-0.7 1.4-0.1 11.4 8.3 2.9 0.9 0.9-1.3-0.9-1.3-1-2.9-1.3-1.4-6.3-2.4-7.3-7.6-0.1-1.4 1.2-2.9-0.3-2.8 3.1-1.5-0.5-1.4-2.6-2.8-2-0.1-1.7-1.4 2.2-2.8 0.9-2.9 2.8-1.7 1.5 0.5 1 1.2 0.2 1.5-3.1 2.8 1.4 1.4 1.9 0.9 0.6-0.9-0.6-2-1-0.8 1-1 2.9 0.2 1.4 0.6 5.7 3.5 4.3 4.8 4.2 3.3 1.1 1.4-1 1.2-5.7-1.3-8.6-4.5-1.4-0.1-3 1.9-0.6 5.7 0.4 1.4 1.7 1.9 4.3 1.1 2.9 1.5 1.3 1.2 1.5 3 1.5 1.1 1.4 0.5 2.8-0.6 1.4 0.3-0.2 2.8 1.3 2.8 1.3 1.5 2 1.7 4.2 1.1 2.9 1.9 0.2-0.5-1.1-2.8-3.3-4.3 2.4-2.8-4.8-4.3-1-2.8 0.5-2.2 4.2-0.1 1.4-0.6-0.7-1.4-0.7-4.1-4.2 0.3-2.9-0.7-1.3-1.2-0.1-1.4-1.3-2.9-11.6-11.4-2.8-4.2-2.6 0 1.1-1.7 1.7-1.2 3.6-5.7 4-1.4 5-4 0.1 1.1 1.3 0.6 1.7 2.3 5.4 2.8 5.8 8.5 2.9 2.8 4.9 3 1.4 1.4-0.6 0.9-2.9 0.5-3.8 1.4-0.4 1.5 0.1 2.8-1.6-0.1-5.7-3.8-1.4-1.4-2.1-3.2-0.6-1.5 0.1-1.4 1.1-0.4 1.5 0.4 8.5 5.5 1.2-1.2 0.2-1.4-0.3-1.5-1.4-1.4-4.3-2.8-6.8-3.4-0.8 0.5-0.6 1.9-1.5 0.8-3.4-1.2-5.1-4.2-2.9 0.5-1 0.8 3.4 1.4 1.7 1.5 2.8 4.2 4.8 4.3 9.4 10 0.3 0.9 2.9-0.4 1.4 0.8 4.3 3.8 5.7 2.7 2.5 2.1 0.9 1.5 0.3 2.8-0.8 1.5-1.5 0.6-0.3 0.8 3.2 2.8 5.6 1.4 0.5 1.4-3.6 2.9-0.1 1.4 0.9 2.9-0.4 1.4-1.5 1.9-2.8 0.6-0.9 4.6-0.6 0.4-3.3-1.8-3.8-3.5-1.4 0.1-0.3 2-1.1 1.2-0.7-1.2-3.6-1.5-4.3-2.9-2.9 0.6-2.8-0.3-4.3-2.6-1.4-0.4-1.6 1.4 0.8 4.2-5-0.5-2.8-2.8-1.4 0.3 2.8 1.9 2.9 5.4 2.1 2.9 0.1 1.4-1.3 2.8 0.3 5.7 2.5 4.3 1.7 5.7-1.1 1.3-2.5-1.3-2.6-4.3-4.9-6.4-4-2.1-1.5-1.4-3.1-7.1-1.4-0.8-1.5 0.1-1.4 0.6-1.1 1.5-0.6 2.8 0.3 0.7 1.4 0 1.4 0.8 5.3 9.9-0.5 1.4-0.5 0.2-5.5-4.4-0.2-1-0.8 2.4 0.1 1.4 1.1 1.4 2.5 1.7 2.8 1.1 1.4-2.2 1.5 0.1 0.6-0.7 0.2-1.4-0.8-1.7 1.4 0.2 2 4.3-0.3 1.5 0.3 1.4 4.2 5.7-0.5 0.4-1.4-0.1-7.2-4.2-1.4 1 2.4 4.3-1 0.9-2.8 0.3-1.4-0.7-2.9-4.3-7.1-3-1.2 1.1-0.3 2.2-2.6 2.1 0.2 1.4 1 1.1 1.4 3.2-1.4 2.2-0.6-0.8-3.7-2-1.4-0.3-1.4 0.4-1.5-0.8-4.5-5.8-0.7-2.9 0.9-0.8 2.9-0.1 1.2-0.5-0.7-2.9-1.5-2.8-0.2-5.7 1.2-2.8 5.7 2.4 2.9 0.6 1.4 0.9 0.4 1.8-0.6 2.8 0.5 1.4 1.1 0.9 2.9 0.8 2.1-0.3 0.3-1.4-0.4-2.8 0.6-2.9-0.4-2.8-1.5-1.4-5-2.9-2.9-3-1.4 1.6-1.4 0.7-4.3 0.1-1.1 0.6 0.1 1.4-0.4 1.2-4.1 4.5 0 2.9-1.6 1.3-1.5 0.5-4.3-2.4-5.3-5.1-1.8-0.3-2.9-2 0 1.3 1.5 1.1 1.4 0.5 2.6 3.7 0.4 1.4-2.1 1.4-0.9 2.2-4.3-1.5-1.4-0.9-0.4 0.2 0 1.4 0.4 0.7 2.8 0.9 1.3 1.3 4.1 5.7-0.1 1.4-1 0.7-2.8-0.1-1.2 0.8-0.1 1.4 0.7 1.5 2 1.3 2.9 0.1 1.4 0.6 6.8 7.9 0.5 1.5 0 4.2-4 1.5-0.3 1.4 1.4 1.4M596.6 623.7l-0.8-1.7 0.8-0.5 0.5 2-0.5 0.2M540.5 630.6l-1.1-3.3-2.8-1.7-0.9 0.7 2.3 4.1 1.4 1 1.1-0.8M679.4 649.4l-1.4-0.1-4.3 0.8-2.2-2.4-0.6-3.4-1.5-2.1-1.4-0.6-4.3 0.8-1.4-0.1-5.3-3.2-1.2-1.4-0.3-1.4 1.1-4 5.7 3.1 1.4 1.9 1.4 0.4 0.5-1.4-1.9-1.2-2.8-3.2-3.9-2.7-0.6-1.5 0.2-0.9 1.4-0.5 2.9 1.3 2.8-0.6 2.9 1.1 1.4 1.1 1.4 1.5 1.8 4.2-0.3 2.1-1.4 0.7 1.4 0.3 4.6 4 3.7 5.7 0.6 1.4-0.4 0.3M698 629l-1.2-1.3 1.2-1.4M522.3 636.5l-1.2-0.2 1.2-1.1 0 1.3M650.9 646.6l-1.5 0.1-4.3-3.2-4.2-1.2-2.4-1.8 2.4-0.3 2.8 0.7 2.2-1.8 0.7-3.3 1.4 0.1 1.5 1.8 1.7 4.3 0.3 2.8-0.6 1.8M520.9 638.9l-0.5-1.2 0.5-1.1 0 2.3M698 640.8l-1.3-1.7 1.3-1.4M590.8 640.5l-0.6-1.4-0.8-0.2-1.1 1.6 1.1 0.6 1.4-0.6M581.7 646.2l-0.8-0.3-1.5-1.6-0.6 0.5 1.9 1.4 1 0M508 684.4l-1.4 0-6.5-4-4.3-5.7-0.7-2.8 0.5-1.4 1-1 1.4 0.7 2.9 2.6 0.8-0.9-2.3-4.9-1.4 0.1-2.8 2.8-1.2-0.9 0.5-1.4-0.9-1.4 3.2-5.7 2.6-3 2.9-1.6 4.3-4.7 0.9-3.5 1.9-0.4 2 0.4 1 2.8-0.4 1.4-2.7 2.9 0.9 2.8-0.1 1.5-0.7 0.3-2.8-0.4-1.4 1-1.6 1.9-1.1 2.9 0.9 2.8 1.9 2.9 6.6 4.2-1 1.2-2.9 0.8-0.8 0.9 0.3 2.8 1.5 2.9-1 1.1M569.4 663.1l-1.4-0.6-2.9-4.9-3.7-4.2 0-1.5 2.3-2.7 1.4 0.6 2.3 3.6-0.2 4.2 2.2 3.4 0 2.1M616.6 661.3l-7.1-6.5-1.5-2.9 0.1-1.4 1.3-0.6 2.9 0.2 3.5 1.8 3 2.9-2.2 2.3 1 3.4-1 0.8M628.5 653.4l0.4-1.5-0.9-1.2-1.4-0.7-1.2 0.5-0.2 1.4 1.4 2.2 1.9-0.7M602.3 655.7l-1.2-0.9 1.9 0-0.7 0.9M597.4 660.5l-2.3-0.5-2.8-2.6-1.4-0.3-0.3 0.5 0.9 1.5 3.6 1.8 2.3-0.4M698 661l-2.9-2.7-2.8 0.8-1.2 1.4 2.4 4.3 3.1 3 1.4 0.6M535.2 665.2l-1.3-0.4-0.6-1.5-0.3-2.8 0.7-0.7 2 5-0.5 0.4M602.7 673.3l0.4-5.7-0.5-1.4-4.6-4.2-1.4 1.3-1.5 0.4-1.4 1.5-3.9 1-1 1.4 1 1.4 3.9 2.4 8.6 2.9 0.4-1M658 671.3l-7.1-3.4-1.2-1.7 3.8-1.4 1.6-2.7 1.5 1.3 1.8 2.8 0.4 2.8-0.8 2.3M559.7 667.6l0-1.4-1.7-1-0.5 1 0.5 1.4 1.4 0.4 0.3-0.4M698 672.8l-5-2.3-3.6-4.7-1.1 0.4 1.6 4.3 0.2 2.8 1 1.4 2.6 1.8 4.3 1.7M485.2 677.6l-1.5-0.8-0.3-0.7 0.9-2.8 3.7-4.2 2.9-0.9 1.4 1.1 1.4 0.2 0.7 1-2.1 0.4-1.6 2.4-0.4 2.8-2.3 1.1-2.8 0.4M612.3 673.3l1.3-1.4 0-1.4-2.7-2.8-1.5 1.3 0.3 1.5 2.6 2.8M542.3 670.6l-1.4-0.1 1.4 0.1M652.3 680.6l-1.4 0.6-5.7-5.1-1.1-2.8 0.2-2.8 5.1 1.4 1.5 1.4 1.4 2.3 1.2 0.5 0.1 1.5-1.1 1.4-0.2 1.6M698 686.3l-2.8-3-0.2-1.5-1-1.4-1.7-0.6-1.4 5.6-4.5-0.7 2 5.7-0.4 1-1.4-0.3-4.3-2.4-4.3 1.2-0.4 0.5-1 4.3 0.3 1.4 1.7 2.8-0.6 1.1-1.4-0.5-0.9-3.4-1.1-1.4-5.2-3.9-4.3-1.9-1.4-0.3-1.4 0.8-1.4 3.3-4.3 0.1-1.3 1.9-1.6 0.4-1.4-0.6-10-9-5.7-2.6-2.9 0.7-1.4-0.9-4.3-4-3.1-1.1-2-1.5-2-3.3-0.9 0.5-0.1 2.8 0.4 1.5 2 2.4 0.8 1.8-0.9 1.5 1.5 0.1 0.6 1.3 1.7 1.4 1 1.4-0.3 1.5-4.4-2.1-2.9-0.8-7.1-5.6-8.6-5.6-2.2 2.7 0.8 1.4 4 2.8 0.8 1.5 0 2.8 0.9 2.9-0.5 1.4 0.5 1.4 1.4 1 2.9-1.4 2.9 0.4 2.8 3.7 2.5 2 0.5 1.4-1.8 4.3 1.2 1.4 1.9 0.9 2.8-0.1 5.8 5 2.8 0 2.9 1.5 0.6-0.2 0.1-2.8 0.7-0.4 2.9 1.5 1.3-1.1-0.5-1.4-2.3-2.7-1.4-0.7-2.3 0.5-0.6 1.7-2.2-1.7-0.1-1.4-1.5-2.8-2-5.7-0.3-1.5 0.4-1.8 4.3 3.6 1.4 0.1 1.5-0.5 0-3 1.4-0.7 1.4 0 4 2.3 4.6 4.6 1.4 0.2 2.9-0.5 1.4 0.5 3 3.8-0.1 1.4-5.7-2.3-0.9 0.9 0.1 1.4-1 2.9 1.9 2.8 0.8 4.3 1.9 1.1 2.9-0.1 2.8 1 2.9 2.9 1.6 2.2-0.2 0.6-5.7 0.5-0.7 0.3 0.2 1.4 3.4 3.6 4.6 3.6 5.4 5.9 2.8 1.8 3.1 6.5M566.9 679l-0.1-1.4-3.1-3-0.8 0.1 0.8 2.3 1.4 1.4 1.8 0.6M668 677.7l-1.4 0.1-1.9-1.7 0.4-1.7 1.5-0.3 0.7 0.6 1 1.4-0.3 1.6M518 680.8l-1.4 0.7-1.4-0.5-2.9-4.7-0.8-0.2 0.8-0.5 2.9 0.6 3.8 4.2-1 0.4M562.6 680.4l-0.6-1.4-2.6-2.4-2.8-1.5-1.4 0.2-0.5 0.8 1 1.5 3.7 3.5 1.5 0.5 1.4-0.5 0.3-0.7M617.2 677.6l-0.7-1.5-2.8-0.8 0 2.5 1.4 0.7 2.1-0.9M673.7 677.4l-0.7-1.3 0.7-0.5 0.6 0.5-0.6 1.3M539.5 680.4l0-1.4-1.5-1.5-1.4-0.2-1.3 0.3 2.7 2.8 1.5 0M597.9 681.8l0.1-1.4-0.6-1.4-2.3-2.3-0.8 0.9-1.4 2.8 2.2 2.6 1.5 0 1.3-1.2M675.1 678.1l-1.2-0.5 1.2-0.5 0.7 0.5-0.7 0.5M490.9 683.8l-1-0.5 1-0.4 0.8 0.4-0.8 0.5M485.5 693.2l-3.4-4.2-1.2-4-1.5-0.7-2.8 2.6-1.5 0.6-1.6 2.9 0.2 0.6 4.3 1.5 1.3-0.7 0.1-1.6 1.5 0.3 3.6 2.7 1 0M651 689l-0.1-1.5-1.5-1.6 0 2.2 1 0.9 0.6 0M658.2 686.1l-0.2-0.4-0.2 0.4 0.4 0M539.4 705.8l-1.4-0.5-2.1-2.1 0.1-7.1 1.1-2.9-0.5-3.5 1.4 0 3.3 2.1 2.8 7.1-3.3 1.5-0.2 4.2-1.2 1.2M556.6 703.8l-1.3-2-1.6-1.2-2.8-0.4-2.9 1.7-1.1-1.5 0.8-1.5 1.7-6.6 5.8-1.8 1.4-1.3 1.9 2.6 1.2 2.9-0.7 4.2-1.5 2.9-0.3 1.4-0.6 0.6M598.8 744.5l0-1.4-1.6-1.4-0.8-1.5-0.8-4.2 0.5-2.9-0.5-1.4-1.9-1.7-1.4-0.4-1.4 1.8-1.5 0.6-4.9-4.6-0.4-1.4 1-1.5 1.5-0.3 2.8 0.8 4.3 0.1 1.3-0.5-0.4-1.5-4.3-4.2-5.2-3.6-5.7-7.5-5.7-6-2.4-4.3-0.3-1.4 1.3-0.9 2.8 0.4 1.2-0.9 1.1-1.5 0.6-3 1.4-0.7 1.5 0 1.4 0.4 1.4 1.7 0.5 1.6-1.3 1.5 6.2 7.1 1 2.8-2.1 0.7-1.4-0.6-4.3-3.3-1 0.4 1 2.8 4.3 4.3 6.2 2.8 2.7 7.2 1.1 1.5 1.4 1.1 2.9 0.4 1.4 0.8 1.4 1.9 0.2 1.4-3 0.4-0.9 1 0.1 4.3 0.7 1.4 1.5 0.8 2.8-0.1 2.9 0.7 0.6-1.4 0.8-0.4 2.9 1.8 1.5 2.9-7.2 2-0.1 2.3-0.9 1.4-1.9 0 0.3 1.4M698 694.8l-1.3-1.6-0.4-1.4 0.1-1.4 1.6-0.7M693.7 696.9l-1.4-0.2-0.8-0.6-0.6-1.7 1.4 0.2 2 1.5-0.6 0.8M698 738.4l-0.8 0.4-0.9 2.9-1.2 1.5-2.8-3.2-1.4-0.9-2.9-0.3-2.9-1.5-0.5 1.5-2.3 1.7-1.4-0.4-5.4-2.7-0.6-1.4 0.2-2.2 2.9 0 0.9-0.7 0.5-1.4-0.5-1.4-1.5-1.5 0.6-1.3 1.8 1.3 2.3 2.9 1.6 0.5 0.4-0.5-0.7-1.4-0.3-2.9-3.7-5.7-11.4-8.8-2.9-1.6-2.8 2.8-1.4-0.9-1.1-1.5-1.9-5.6 0.1-0.5 1.4-0.3 5.7 2.9 1.5-0.7 4.3 1.2 1.1-2.6-0.2-1.5-2.4-1.7-2.8 0.1-1.5-0.5-3.1-3.6-0.5-1.4 0.8-1.1 1.4-0.7 5.7 2.6 4.3 4.6 1.4 0.6 1.8-0.3 1.1-0.8 1.4 0.5 4.3-0.9 2.9 4.1 4.3 3.6 1.7 2 0.5 1.5-1.2 1.4 0.8 2.8 1 1 2.9 1 1.4 1.4M592.3 698.1l-0.4-0.6 0.4-0.3 0.7 0.3-0.7 0.6M602.3 702.2l-1.4 0.5-1.5-0.8-2.8-3 1.4-0.5 2.9 1 1.4 1 0.4 1.4-0.4 0.4M690.9 701.1l-4.3-1-2.9 1.2-0.7-2.4 0.7-1.3 4.3 1.2 3.2 1.6-0.3 0.7M565.1 703.4l-1.6-1.6 0.2-1.9 2.3 1.9 0.1 1.4-1 0.2M692.3 702.5l-0.9-0.7 0.9-0.4 0.3 0.4-0.3 0.7M539.4 744.5l-1.4-1.9-3.3-2.4-0.7-1.4-0.4-2.8-1.3-2.4-1.4-0.7-2.9-0.6-2.6-2-2-4.3 0.3-1.1 2.9 1.3 2.8-0.3 2.9 1 4 0.5 1.7 1.8 5.7 1.2 2.9 1.9 4.3 6.5 1.4-1.3 1.4-0.1 1.5 0.5 4.2 4.2 1.5 0.1 1.4-1.1 2.8 1 1.5-0.2 1.4-0.6 0.9-1.1-0.3-1.4-3.5-1.5-1.1-1.3-2.1-4.3-5.3-5.8-1.4 3.1-1.5-0.4-1.4-1.2-1.8-5.7 0.4-1.2 1.5-1.6-0.3-1.5-1.1-1.4-4.4-1-2.9-1.9-2.8 0-2.5-1.4-1-1.4 2-1.5 1.8 0.1 2.5-2.5 1.5-0.3 1.4 0.1 1.4 0.8 2.9 2.9 1.4 0.9 1.4 0.2 1.6-0.7 1.3-4.6 1.7 1.8 4.8 2.8 1.3 4.3 2.2 3 1.4 0.1 2.9-0.7 1.4-0.9 1.3 1.3-2 2.9-0.4 1.4 0.1 1.4 1 2.4 2.8 0.6 2.9-0.5 4.3 2.8 1.2 1.9 1.4 4.2 3.1 0.7 4.3 5.1 3.6 1.4 0.7 2.2 0.7 0.6M605.1 713.9l-1.4-0.4-1.4-1.2-3.4-3.4-1.1-1.4 0.2-0.4 1.4-1.1 2.9 0.1 5.5 1.4-0.3 4.2-1 1.5-1.4 0.7M698 712.4l-3.3-3.5-1-2.8 0-0.6 1.4-0.2 2.9 1.3M680.9 716l1.4-2.3 1.4-0.4 2.9 1.2 1.6 0.1 0.6-1.4-0.5-1.5-1.7-1.7-4.3-1.6-2.9 0.8-2.8-0.1-2.9 1.3-1.4 0-0.3 1.3 0.5 1.5 1.2 1.9 1.4 0.6 5.8 0.3M500 711.7l-2-1.6-0.3 0.2 0.3 1.8 1.4 0.7 0.6-1.1M579.4 718.4l-1.4 0-4.3-1-1.4-1.4-2.1-4.3 2.1-0.5 4.3 1 3.7 3.8 0.4 1.4-1.3 1M450 718.9l0.6-4.3-1.2-0.6-1.4 1-2 2.4 0.6 2.1 1.4 0 1.4 0.7 0.6-1.3M575.3 734.5l-0.4-1.4-4-5.3-2.9-1.1-2.3-2.1-1-2.9-1-1.3-2.2-1.5-1.8-4.3-0.8 0-0.9 1.4 2.1 4.3 0.3 4.3 3.6 4.2 1.7 2.9 3.7 2.3 2.9 1 1.4 0.2 1.6-0.7M663.7 715l-1-0.4 1-1.2 1 1.2-1 0.4M476.6 717.8l-1.4-1.4 0-1.1 1.4 0.2 0.6 1.9-0.6 0.4M602.3 719.9l-1.4 0.2-0.6-2.7 0-1.4 0.6-0.7 1.4 0.1 1.6 2-0.5 1.5-1.1 1M665.1 716.3l-0.4-0.3 0.4-1 1.3 1-1.3 0.3M497.9 718.9l-1.3-1.2-1.4-0.3 1.4 2.2 1.3-0.7M533.7 722.2l-1.4 0.2-1.1-0.7 0.7-1.4 1 0 0.8 0.8 0 1.1M543.7 724.7l-1.4-0.2-1.2-1.4-0.6-2.8 0.4-0.6 1.4 0.3 2.6 3.1-1.2 1.6M690.8 721.7l-0.6-1.4-0.8-0.4-3.5 0.4 0.5 1.4 1.6 1.2 1.4 0.2 1.4-1.4M515.2 730.6l-1.7-0.3-2.6-2.3-1.4-3.4 1.4-1.5 4.3 0.1 0.9 1.4-0.2 4.2-0.7 1.8M538 726.2l0.3-0.2-0.3 0.2M669.4 727.6l0-0.3 0 0.3M676.6 727.5l1.1-0.1-1.1 0.1M648.3 736l-0.2-5.7-1.5-1.5-2.9 3.4-2.8 0-1.5 0.6 1.5 1.9 1.4 0.8 0.3-1 1.1-0.7 2.9 2.1 1.4 0.5 0.3-0.4M492.8 744.5l-3.2-5.7 0.8-2.8-5.2-4.1-0.2-1.6 1.6-0.4 2.8 1 2.9-1.8 1.4 0 1.6 1.2-0.9 2.8 0.3 1.4 1.9 2.3 1.4 0.8 4.3-0.4 1.3-1.2-1-5.7 1.1-1.1 2.9 1.5 2.8 0.2 1.5 1.8 0.6 3.3 5.1 4.2 1.6 2.9 0.3 1.4M692.5 736l0.8-1.5-1-2.5-4.3-1.9-0.6 0.2 0.3 2.8 1.2 1.4 2 1.5 1.6 0M470.1 737.4l0.4-1.4-2.5-2-4.3-1.4-2.8-1.6-1.5 0.3 1.5 2.4 1.4 1.3 2.9 0.4 2.8 1.8 2.1 0.2M522.9 744.5l-0.4-2.8-0.6-1.5-4.2-7.1 0.3-0.8 1.3-0.6 1.6-0.1 1.4 0.3 0.9 1.2 0.8 2.9 1.3 1.4 3.9 2.8 2 4.3M660.9 733.1l-1.5-1.7 0 2.3 1.5-0.6M453.6 744.5l-1.3-0.5-2.9-2.5-7.1-2.4-7.1-5.4-0.4 0.8 0.4 1.5 2.8 4.2 1.4 1.1 2.9 0.4 2.5 2.8M545.4 737.4l-0.1-1.4-1.6-1.4-1.1 1.4 0.8 1.4 2 0M427.2 741.7l1.1-2.9-0.3-1.4-3.9 2.8 0 1.5 2.5 0.3 0.6-0.3M452.5 738.8l-1.6-1.4 0.8 1.4 0.8 0M649.5 744.5l-3.3-2.8-2.5-4.2-1.4-1.4-0.4 1.3 0.4 0.9 3.4 4.8-0.6 1-0.8 0.4M663.3 744.5l0.4-1.1 1.5-0.3 2.8-2.9-0.5-1.4-0.9-0.8-2.9-1.2-1 0.6-0.4 5.7-4.3-3.1-1.4 0.3-0.4 1.4-1.1 0.7-2.2-0.7-2-1.9-0.1 1.9 0.8 2.8M435.5 744.5l-1.8-5.9-1.4 3.1 0.6 1.4 1.9 1.4M593.7 744.5l-1.7-1.4-8.3-2-2.8-2.5 0.2 1.6 2.3 2.9 0.5 1.4M478.5 744.5l0.1-1.4-1.4-1.4-2-1.4-1.5-0.2-0.6 1.6 0.1 1.4 0.7 1.4M614.1 744.5l-1.1-1.4 0.7-1.3 2.9-1.6 4 2.9 1.7 0.6 4.3-1.5 1.4 0.5 2.2 1.8M471.7 744.5l-3.7-2.4-2.8-0.7-0.3 3.1M517 744.5l-3.3-2.4-1.4 0.3-1.4 1.9-1.5-0.4-2.8-2.3-1.4-0.5-1.4 0.6 2.3 2.8M461.5 744.5l-0.8 0M574 744.5l-1.7-0.9-1.4 0-1.1 0.9" stroke="#55c1bf" stroke-width="1.1" fill="none" stroke-linejoin="round"/>
<path d="M573.7 614.1l-1.4-0.1-2.9-1.6-2.8-3.1-1.8-2.9-6.4-5.7 2.5-2.3 4.5 3.7 7.7 8.5 0.9 1.5 0.2 1.4-0.5 0.6M572.3 601.8l-1.6-1.1-0.3-1.4 0.5-0.7 1.9 2.1-0.5 1.1M563.7 616.5l-7.2-5.9-2.3-2.8-0.8-1.4 1.8-2.5 1.4 0 6.5 8.2 1.6 2.8-0.1 1.4-0.9 0.2M549.4 614.3l-1.4 0.2-1.1-1 0.1-1.4 1-1 1.7 1 0.4 1.4-0.7 0.8M559.4 632.1l-1.4 0.2-1.4-0.6-7.2-4.7-1.4-1.4-1.1-3.6-5.8-4.2 2.6-2.7 2.8 1.2 1.5 2 1.6 3.7 3.7 2.9 5.4 5.7 0.7 1.5M563.7 625.2l-4.3-1.5-2.8-1.8-2.5-2.7-1.3-2.9 0.9-0.5 1.5 0.2 2.6 1.8 3.1 3.3 2.9 2.4 0.2 1.4-0.3 0.3M548 634.6l-5.7-3.4-2.9-4.9-2.6-1.4 0.1-1.4 1.1-1.1 1.4 0.8 1.5 2.5 4.2 2 1.4 1.5 2.7 4.2-1.2 1.2M539.4 635l-2.8-0.7-5-3.7-0.5-1.4 2.6-2.6 1.5 0.2 1.4 2.8 3.3 3.8-0.5 1.6M568 630.1l-1.4-0.6-1.2-1.8 1.2-0.4 1.7 1.9-0.3 0.9M538 645.4l-4.3-2.1-7.1-8.3 0-1.7 3.8 1.6 2.4 4.2 4 2.9 1 1.4 0.5 1.4-0.3 0.6M549.4 635l-0.7-0.1 0.7-0.6 0 0.7M549.4 644.9l-1.4 0.2-1.4-0.8-2.1-2.3-0.5-1.5 1.2-0.2 2.8 1.7 1.2 1.4 0.2 1.5M538 703.9l-0.7-0.7-0.2-1.4 0.5-2.9-0.1-2.8 0.5-1.3 1.4-1.5 1.5 1.1 1.6 3.1-3 2.9-0.3 2.8-1.2 0.7M555.2 699.5l-4.7-0.6-0.7-1.4 1.1-2.3 2.8 0.3 2.6 2 0 1.4-1.1 0.6M535.2 715l-1.5-0.4-2.7-4.3-3.5-4.2-0.4-1.5 0.9-1.3 1.4-0.9 1.5 0.8 0.9 2.9 1.8 2.8 0.5 2.8 1.4 2.9-0.3 0.4M563.7 732.8l-7.1-7.8-1.4-0.8-0.7 0.4-0.8 1.8-1.4-2.3-0.6-2.4 1.8-1.4-0.3-2.9-0.9-1.4-1.4-1-4.3-0.9-2.7-2.4-1.1-1.4 0.4-1.4 1.1-1.4 2.3-0.4 1.4 0.6 4.3 3.8 2.9 0 1.4-0.9 0.2-1.7 1.2-0.6 3.6 2 1 1.4-0.3 3.1-2.9-2-1.4-0.1-0.9 1.9 0 1.4 0.2 1.4 1.6 2.9 1 4.3 3.6 4.2 1.4 2.9-1.2 1.1M540.9 712l-1.5-0.3-0.4-1.4 2.4 0 0.5 1.4-1 0.3M575.1 715.8l-1.4-0.8-1-1.8 1-0.4 2.7 1.8-1.3 1.2M525.2 719l-3.2-3 0.3-0.9 1.4 0.4 1.5 1.6 1 1.8-1 0.1M576.6 716.3l-0.8-0.3 0.8-0.9 0.4 0.9-0.4 0.3M570.9 726.4l-1.5 0.5-2-0.9-1.2-1.4-1.1-3.6-2.3-3.6 0.9-0.5 2 2 3.7 2.3 1.8 4.8-0.3 0.4M542.3 722.4l0-0.9 0 0.9M513.7 727.4l-1.4-0.9 0-1.5 1.4 0.1 0.7 0.9-0.7 1.4M540.8 744.5l-2.1-2.8-3.5-2.4-1.2-4.8-1.1-1.4-2-1.1-2.9-0.5-1.6-1.2-0.7-1.5 0.4-1.4 3.3-0.8 5.8 1.8 2.8 2.4 1.4 0.6 4.3 0 2.5 1.7-1 0.8-2.9-0.9-1.4 2.7-1.7 1.7 0.2 0.5 4.9 2.3 0.3 1.5-0.6 2.8M574.7 744.5l-4.4-2.8-0.9-3.7-4.1-2-1.2-2.9 1-1.2 4.3 3.5 2.9 0.6 2.8-0.1 1.3-1.4-3.8-5.7 0-1.4 1.1-0.4 4.3 0.3 2.3 1.5 1.2 1.5 1 4.2 1.2 1.4 3 1.5 1.6 1.4-0.3 1.4-1.4 0.4-1.5-0.3-4.2-3.6-1.5-0.2-1.6 5.2 1.7 2.8M520.9 734.9l0-1 0.3 0.6-0.3 0.4M546.6 735l-0.4-0.5 0.4-0.6 0 1.1M509.4 740.3l-1.6-1.5-0.2-1.4 0.4-0.7 1.6 2.1-0.2 1.5M526.2 744.5l-1-0.8-2-3.5-0.4-1.4 0.9-0.6 4.3 2.4 0.7 1.1 0.5 2.8M549.5 744.5l-1.5-2.4-2-1.9 0.6-1.5 1.4-0.4 1.4 2.2 2.9 1.8 1.4-0.2-0.3-1.9 0.3-1.3 1.5 0.4 5.7 4.7 2.8 0 0.5 0.5M553.8 744.5l-0.1 0" stroke="#d1bb59" stroke-width="1.1" fill="none" stroke-linejoin="round"/>
<path d="M569.6 616.3l-0.4-1.4-6.9-9.7-2.9-2.1-1.4 0-0.3 0.4 1.4 2.9 6.5 7.1 2.4 3.6 1.4 0.2 0.2-1M563.3 619.2l-0.2-1.4-2.2-2.9-5.1-4.3-3.5-3.8-2.6 2.4-0.1 1.4 2.7 3.9 4.3 1.8 4.3 3.4 1.4 0.4 1-0.9M564.1 630.6l-1.7-2.9-5.8-5-5.7-6.8-2.4 0.4 1.4 4.3 5.3 5.5 7.1 5.1 1.4 0.4 0.4-1M546.6 626.3l0.2-1.4-0.8-2.9-5.1-3.8-1.1 1-0.3 2.8 2.8 3.3 2.9 1.1 1.4-0.1M539.2 629.2l-0.5-1.5-0.7-0.5-0.8 0.5 0.8 1.7 1.2-0.2M559 636.3l-0.5-1.4-1.5-1.5-5.8-4.2-1.8-0.6-0.8 0.6 0.4 1.4 1.9 2.7 2.8 2.7 4.3 1.6 1-1.3M525.7 639.1l-0.5-2.8-1.5-0.5-1.2 1.9 2.7 1.9 0.5-0.5M541.4 642l0-1.5-1.1-2.8-3.7-1.6-0.8 0.2-0.5 1.4 1 1.4 3.1 2.5 1.5 0.8 0.5-0.4M551.3 640.5l-0.4-1.4-1.3-1.4-2.3-1.4-3.6-1.2-1.1 1.2 6.8 4.3 1.5 0.3 0.4-0.4M527 698.9l0.1-4.2-0.5-1.5-1.4-1.3-1.5-0.5-0.8 0.4-0.2 1.4 2.5 4.5 0.9 1.2 0.5 0.4 0.4-0.4M534.7 691.8l-1-0.7-0.3 0.7 0.3 0.4 1-0.4M545.7 696.1l-0.5-0.8-0.4 0.8 0.4 1 0.5-1M569.4 701.8l0.5-1.4-1.9-2.4-0.6 0.9 0.3 1.5 1.7 1.4M553.8 710.3l1.5-1.4-2.4-7.1-1.7 0-1.8 1.4-2.8-0.3-2.9-2-1.4 0.2-0.5 0.7 0.5 2.3 1.4 0.7 2.9 0.2 4.3 4.3 1.4 0.9 1.5 0.1M573.7 708.9l-1.4-2.6-8.6-2-2.8-3-0.9 0.5-0.5 2.8-1.2 1.5 1.6 1.4 2.4 0.6 1.4-0.4 4.3 2 4.3 0.4 1.4-1.2M519.7 703.2l-0.5 0 0.5 0M536.7 708.9l2.1-1.4-5.1-5-0.5 2.1 0.2 1.5 1.8 2.3 1.5 0.5M565.1 740.2l-0.2-1.4-4-5.7-1.5 0.3-2.4-1.7 1-1.3 1.4 0.3-1.4-2.2-0.5 0.3 0.4 1.5-1.3 1-2.9-1.2-2.8 0.9-1.5-1.5 0-1.5 1.7-2-0.2-1.4-1.4-2.9 0.2-1.4 1.4-1.4-0.2-1.5-1.5-1-2.8-0.3-2.9-1.8-2.8-0.5-2.9-1.3-1.4 0.7 0.6 2.8-0.6 0.6-2.9-0.3-3.1-3.1-2.6-4.3-2.8-2.8-3-1.5 2.1 2.9 1.7 4.2-0.6 2.9 0.4 1.4 2.2 2.8 1.4 1.1 1.5-0.2 1.4-0.8 1.4 0.5 1.3 2.3 0.2 1.6 1.4 0.9 2.8-0.3 0.6-0.8-0.6-4.3 1.5-0.3 1.4 0.7 3.6 3.9-0.1 1.5-0.6 0.6-4.1 0.8-0.4 1.4 1.2 1.4 5.1 2.9 2.4 3.7 1.5 1 2.8-0.2 4.3 0.9 1.4 0.5 4.3 2.8 1.4-0.2M569.7 714.6l-0.3-0.5-1.4 0-0.3 0.5 2 0M511.5 721.7l0.8-0.5 0.2-0.9-1.6-1.7-2.9-0.3-0.7 0.6 0 1.4 0.7 0.8 3.5 0.6M533 726l0.4-1.4-2.5-1.5-7.2-2.8-0.5 1.4 2.2 2.9 1.2 0.6 2.8-0.3 2.9 1.2 0.7-0.1M574.1 733.1l-3.3-4.3-4.3-2.8-2.8-4.5-1.4-0.7-1.1 0.9-0.4 2.9 5.8 7.3 1.4 0.8 4.3 1.3 1.4 0.1 0.4-1M581.5 723.1l0.4-1.4-1-0.8-1.5-0.4-1 1.2 1 1.6 1.5 0.4 0.6-0.6M575.3 724.6l-0.1-1.5-1.5-0.8-0.6 0.8 0.6 1.5 1.6 0M538.4 744.5l-1.1-1.4-3.8-2.9-1.2-5-6.9-3.5-1.4-1.4-1.7-3.5-1.4-1.4-1.5-0.5-1.4 0.6-0.2 0.5 0.2 3.1 1.4 1.1 2.9 0.4 2.3 1.1 0.3 2.8 0.6 1.5 4.9 4.2 1.9 4.3M508.1 727.4l-0.8 0 0.8 0M520.9 741.7l-4.3-7.5-1.4-1.4-1.5-0.5-0.8 0.8 0.8 2.1 3.9 3.6 1.8 3.3 1.5 0 0-0.4M572.5 744.5l-0.6 0" stroke="#1485d4" stroke-width="1.1" fill="none" stroke-linejoin="round"/>
<path d="M563.7 604.4l-4.8-3.7 2-1.7 3.4 3.1 0.7 1.4-1.3 0.9M562.3 614.7l-5.4-4.1-2.3-2.8-0.6-1.4 1.2-2.1 1.4 0.3 6 7.5 0.7 1.4-1 1.2M565.1 605.1l0-0.9 0 0.9M570.9 611l-1.5-0.2-1.4-1.1-1.5-1.9-0.3-1.4 0.4-0.5 2.9 1.9 1.6 2.8-0.2 0.4M548 613.7l-0.6-1.6 0.6-0.6 1.2 0.6-0.1 1.4-1.1 0.2M555.2 630.2l-6-3.9-0.9-1.4-0.5-2.9-6.3-4.2 2.2-2.4 2.1 0.9 1.4 1.5 0.8 1.4 0.3 2.8 4 2.3 4.2 4.9-1.3 1M560.9 622.3l-1.5 0.6-2.8-1.4-2.2-2.3-0.9-1.4 0-1.5 1.7 0 2.2 1.5 2.6 2.8 0.9 1.7M539.4 625l-1.5-0.1-0.6-1.4 0.7-0.7 1.1 0.7 0.3 1.5M536.6 633.3l-4.3-2.8-0.9-1.3 2.3-2.3 1.3 0.8 2.7 4.3-1.1 1.3M545.2 631.9l-2.9-2-0.6-2.2 0.6-0.3 1.4 0.2 1.7 1.6 0.9 1.4-1.1 1.3M556.6 630.8l-0.5-0.2 0.5-1.1 0.4 1.1-0.4 0.2M546.6 632.4l-1.3-0.4 1.3-0.9 0.3 0.9-0.3 0.4M538 633.8l-1.2-0.4 1.2-0.8 0.5 0.8-0.5 0.4M539.4 697.6l-0.3-1.5 0.3-0.4 1 0.4 0.3 1.4-1.3 0.1M530.9 708.5l-0.8-1 0.8-0.6 0.4 0.6-0.4 1M532.3 709.2l-0.6-0.3 0.6-0.2 0 0.5M558 725.4l-3.1-3.7 0.1-4.3-1.3-1.4-2.8-1.9-4.3-0.8-1.7-1.6-0.8-1.4 0.2-1.4 0.9-0.8 1.4-0.2 1.4 0.5 4.3 4.2 2.9 0.1 0.6 0.5-0.5 4.2 2.7 3.3 1.2 3.9-1.2 0.8M559.4 711.7l-1.4-1.5 2 0.1-0.6 1.4M560.9 711.9l-1.4-0.2 1.4-0.2 0 0.4M569.4 726.2l-1.4-0.1-1.3-1.5-0.4-1.5 0.3-2.1 1.4 0.3 1.4 1.9 0.7 1.4-0.2 1.4-0.5 0.2M562.3 730.5l-2.9-3.1-0.8-1.4 0.8-1.2 0.5 1.2 2.9 2.8 0.4 1.5-0.9 0.2M535.2 734.5l-2.9-3-4.3-0.9-1.2-1.8 2.6-1.6 5.8 2.3 2.5 2.2 0.3 1.4-1.4 1.1-1.4 0.3M579.4 734.4l-1.4-0.2-2.9-2.3-1.2-1.6-0.2-1.9 1.4-0.5 1.5 0.1 1.4 0.5 1.4 1.3 0.9 1.9 0.1 1.4-1 1.3M566.6 735.1l-0.4-0.6 0.4-0.2 0.3 0.2-0.3 0.6M536.6 738.6l-0.6-1.2 0.6-1.3 0.5 1.3-0.5 1.2M575.5 744.5l-3.9-2.8-0.7-1.4-0.4-1.5 0.4-1.1 1.4-0.7 4.3 0.4-0.5 2.8 2.3 4.3M585.1 738.9l0-0.3 0 0.3M556.1 744.5l-0.8-1.4-0.1-1.8 1.4 0.2 3.3 3M560.9 601.6l-1.6-0.9 1.6-0.7 1 0.7-1 0.9M562.3 602.4l-0.7-0.3 0.7-0.8 0.6 0.8-0.6 0.3M560.9 613.1l-3.5-2.5-2.4-2.8-0.5-1.4 0.7-1.7 1.4 0.6 4.4 5.3 1 1.5-1.1 1M548 612.5l0-0.6 0.3 0.2-0.3 0.4M562.3 613.8l-0.5-0.3 0.5-0.6 0 0.9M546.6 620.5l-4.8-2.7 1.9-2.2 2.9 2.2 0.8 1.4-0.8 1.3M558 621.9l-3.3-2.7-0.7-1.4 1.2-1.1 1.8 1.1 2.4 2.8-1.4 1.3M559.4 622.1l-0.4-0.1 0.4-1.2 0 1.3M538 624.1l0-0.9 0.5 0.3-0.5 0.6M553.7 628.6l-3.7-2.3-1-1.4 0.2-1.4 1.7 0.3 3 2.5 0.8 1.4-1 0.9M535.2 631.1l-1.5-0.3-1.9-1.6 1.9-1.9 1.6 1.9 0.3 1.4-0.4 0.5M550.9 713.2l-1.5 0.3-2.8-0.9-1.6-2.3 0.6-1.4 1-0.3 1.4 0.4 1.4 1.1 1.3 1.6 0.2 1.5M569.4 724.6l-1.4 0.7-0.8-2.2 0.8-0.6 1.4 2.1M530.9 729.9l-1.8-1.1 1.8-0.3 0.7 0.3-0.7 1.1M578 732.7l-1.4-0.4-1.5-1.4-0.4-0.6 0.1-1.5 1.8 0.2 1.9 1.3 0.4 1.4-0.9 1M535.2 732.4l-3.8-2.1 0.9-0.7 2.1 0.7 1.4 1.4-0.6 0.7M575.1 743.3l-3.5-3.1 0-1.4 0.7-0.6 1.4 0.1 1.4 1.8 1.1 3-1.1 0.2M576.4 744.5l0.2-0.9 0.3 0.9M559.4 611.7l-3-2.5-1.5-2.8 0.3-0.7 1.4 0.1 2.9 3.4 1 1.4-1.1 1.1M560.9 612.4l-0.7-0.3 0.7-0.7 0.3 0.7-0.3 0.3M546.6 619.4l-1.4 0.1-3.1-1.7 1.6-1.9 2.4 1.9 0.5 1.6M558 621.2l-1.4-0.5-1.6-1.5-0.5-1.4 0.7-0.6 1.4 0.5 1.5 1.5 0.6 1.4-0.7 0.6M552.3 627.2l-1.6-0.9-0.9-1.4 1.1-0.5 1.4 0.8 0.9 1.1-0.9 0.9M533.7 629.9l-1.5-0.7 1.5-1.5 0.7 1.5-0.7 0.7M549.4 712.6l-1.4 0.1-1.5-1-0.7-1.4 0.8-0.9 1.4 0.2 0.9 0.7 1.1 1.4-0.6 0.9M576.6 730.8l-0.6-0.5 0.6-0.3 0.4 0.3-0.4 0.5M573.7 740.6l-1.2-0.4 1.2-0.1 0 0.5M556.6 608.9l-0.6-1.1 0.6-1.4 1.4 1.4-1.4 1.1M558 610.3l-1.1-1.1 1.1-1.4 1 1.4-1 1.1M559.4 611.1l-0.8-0.5 0.8-0.6 0.5 0.6-0.5 0.5M545.2 618.9l-2.5-1.1 1-1.6 1.9 1.6-0.4 1.1M555.2 618.1l-0.2-0.3 0.4 0-0.2 0.3M556.6 620.1l-0.9-0.9 0.9-0.8 0.8 0.8-0.8 0.9M548 712.1l-0.6-0.4-0.3-1.4 0.9 0 0.9 1.4-0.9 0.4M556.6 608l0-0.5 0 0.5M558 609.7l-0.4-0.5 0.4-0.5 0.4 0.5-0.4 0.5M543.7 617.9l0-0.8 1 0.7-1 0.1" stroke="#f2e41c" stroke-width="1.1" fill="none" stroke-linejoin="round"/>
<path d="M565.2 610.6l-2.5-4.2-1.8-1.9-1.5-0.7-0.6 1.1 1.8 2.9 3.1 3.1 1.4 0.2 0.1-0.5M562.3 617.8l-1.9-2.9-8.1-7.6-2.3 1.9 0 1.4 2.3 3.4 4.3 2 4.3 3.1 1.4-0.8 0-0.5M560.3 627.7l-9.4-10.9-1.5 1 1 2.8 4.8 5 2.8 1.9 1.4 0.6 0.9-0.4M546.3 624.9l0-1.4-1.1-2-4.3-3-0.8 0.7-0.2 2.8 2.4 2.8 2.9 1.1 1.1-1M556.6 634.9l-4.3-4.2-1.4-0.7-0.8 0.6 0.8 1.6 2.8 2.7 2.9 0M554.4 708.9l-0.1-1.4-2-2.8-1.4-0.5-1.7 0.4-0.2 1.5 2.2 2.8 1.1 0.6 1.4 0 0.7-0.6M536.6 707.5l-0.4-1.4-1-0.9-0.6 0.9 0.6 0.8 1.4 0.6M569.9 707.5l-1.9-0.6-0.7 0.6 2.1 0.5 0.5-0.5M539.2 721.7l-1.2-3.6-1.4-0.7-4.3-0.2-0.3-1.2-3.1-2.8-0.9-2.9-1.4-1.4 0 1.4 1.2 1.4 0 1.5-1.5 1.4 0.2 1.4 1.5 2.1 1.4 0.8 1.5-0.2 1.4-1.2 1.4 0.1 2.9 4.9 1.4 0.4 1.2-1.2M562.7 737.4l-1.8-2.1-2.9-1.1-2.8-2.2-1.5-0.4-1.4 1.4-2.9-1.7-0.7-1-0.5-2.9 1.3-1.4 0.3-1.4-1.2-2.9 0.4-2.8-1-1.5-4.3-1.9-4.3-1.5-1.4 0.2 0.2 1.8 1.2 1.2 2.9 1.1 5 4.8 0 1.5-0.7 1-4.3 1.8 1.2 1.4 4.4 2.9 1.5 2.4 1.5 1.2 2.6-0.8 0.2-0.6 2.9 1.2 1.4 0 0.6 0.9 3.7 2.4 0.4-1M527.2 723.1l-0.6-0.3-0.7 0.3 0.7 0.6 0.6-0.6M572.1 731.7l-1.9-2.9-4.3-2.8-2.2-3.1-1.4-0.6-0.7 2.3 0.6 1.4 4.4 5.4 2.8 1.2 1.5-0.2 1.2-0.7M521.1 728.8l-0.2-0.6-0.2 0.6 0.4 0M531.7 738.8l0.1-1.4-0.7-1.4-4.5-2.1-0.4 0.6 0.6 1.5 1.4 1.4 2.7 1.9 0.8-0.5M537.3 744.5l-1.4-1.4-2.2-1.1-0.7 1.1 0.7 1.4M562.8 607.8l-1.9-2.6-1.5-0.3 1.5 2.5 1.4 1.3 0.5-0.9M561.5 617.8l-0.4-1.5-1.1-1.4-7.7-7.2-2 1.5 0.1 1.4 2 2.9 7 4.1 1.5 0.7 0.6-0.5M557.2 624.9l-4.9-6.2-1.5-0.9-0.3 1.4 0.3 1.4 1.1 1.4 3.3 3.1 1.4 0.7 0.6-0.9M545.8 624.9l0.1-1.4-0.5-1.5-4.5-3.2-0.7 1.8 0.1 1.4 0.6 0.8 1.4 1.6 1.4 0.7 1.5 0.3 0.6-0.5M553.5 707.5l-1.2-1.4-1.5 0 0.1 1.4 1.4 1.2 1.2-1.2M530.6 717.4l-0.1-1.4-1.1-0.9-1.4-0.2-0.8 1.1 0.8 1.3 1.4 0.8 1.2-0.7M547.7 720.3l0-1.4-1.7-1.5-3.7-1.5-1.4-0.3-1.4 0.4 2.8 0.8 2.9 3.5 1.4 1 1.1-1M538.2 721.7l0.1-1.4-0.9-1.4-0.8-0.7-1.4 0.7 1.4 2.4 1.6 0.4M570.3 731.7l0.3-1.4-0.9-1.5-4.4-2.8-1.6-1.8-1.1 0.4 0.4 1.4 3.6 5 1.4 0.9 2.3-0.2M547.4 728.8l-0.8-1.7-2.4 0.3 0.4 1.4 2 1.1 0.8-1.1M560.4 616.3l-2.3-2.8-5.8-5.1-1.8 0.8 0.4 1.5 2.2 2.8 6.3 3.5 1-0.7M545.2 624.9l0.4-1.4-0.5-1.5-4.2-2.9-0.5 1.5 0.5 1.7 1.4 1.6 2.9 1M555.6 623.5l-3.3-4-0.7 1.1 0.8 1.4 2.8 2.2 0.4-0.7M546.6 720.3l-0.5-1.4-0.9-0.6-0.4 0.6 1.8 1.4M569.9 730.3l-0.9-1.5-2.4-1.5-1.5-0.3-0.2 0.4 1.4 2.9 1.7 1.1 1.4-0.4 0.5-0.7M559.6 616.3l-0.6-1.4-1.4-1.4-5.3-4.5-1.5 0.2 1.3 2.9 1.6 1.4 5.9 2.8M545.3 623.5l-0.7-1.5-0.9-0.7-2.8-1.4 0 1.6 1.4 2 1.4 0.8 1.6-0.8M569 730.3l-1-1.6-1.4-0.6-0.6 0.7 0.9 1.5 1.1 0.5 1-0.5M558.3 614.9l-6-4.8-0.2 0.5 0.8 1.5 1.9 1.4 3.5 1.4M544.6 623.5l-0.4-1.5-1.9-1.1-0.6 1.1 0.6 0.8 1.4 1.1 0.9-0.4" stroke="#4636aa" stroke-width="1.1" fill="none" stroke-linejoin="round"/>
<path d="M439.3 459.7v2.9M439.3 744.5v-2.9M412.3 717.6h2.9M698.0 717.6h-2.9M482.4 459.7v2.9M482.4 744.5v-2.9M412.3 674.6h2.9M698.0 674.6h-2.9M525.5 459.7v2.9M525.5 744.5v-2.9M412.3 631.6h2.9M698.0 631.6h-2.9M554.3 459.7v2.9M554.3 744.5v-2.9M412.3 603.0h2.9M698.0 603.0h-2.9M583.0 459.7v2.9M583.0 744.5v-2.9M412.3 574.3h2.9M698.0 574.3h-2.9M626.1 459.7v2.9M626.1 744.5v-2.9M412.3 531.3h2.9M698.0 531.3h-2.9" stroke="#262626" stroke-width="1" fill="none"/>
<rect x="412.3" y="459.7" width="285.7" height="284.8" fill="none" stroke="#999" stroke-width="1.6"/>
<text x="405.6" y="722.6" font-size="14" text-anchor="end" fill="#262626">0.02</text>
<text x="439.3" y="765.3" font-size="14" text-anchor="middle" fill="#262626">0.02</text>
<text x="405.6" y="679.6" font-size="14" text-anchor="end" fill="#262626">0.05</text>
<text x="482.4" y="765.3" font-size="14" text-anchor="middle" fill="#262626">0.05</text>
<text x="405.6" y="636.6" font-size="14" text-anchor="end" fill="#262626">0.08</text>
<text x="525.5" y="765.3" font-size="14" text-anchor="middle" fill="#262626">0.08</text>
<text x="405.6" y="608.0" font-size="14" text-anchor="end" fill="#262626">0.1</text>
<text x="554.3" y="765.3" font-size="14" text-anchor="middle" fill="#262626">0.1</text>
<text x="405.6" y="579.3" font-size="14" text-anchor="end" fill="#262626">0.12</text>
<text x="583.0" y="765.3" font-size="14" text-anchor="middle" fill="#262626">0.12</text>
<text x="405.6" y="536.3" font-size="14" text-anchor="end" fill="#262626">0.15</text>
<text x="626.1" y="765.3" font-size="14" text-anchor="middle" fill="#262626">0.15</text>
<text x="405.6" y="464.7" font-size="14" text-anchor="end" fill="#262626">0.2</text>
<text x="698.0" y="765.3" font-size="14" text-anchor="middle" fill="#262626">0.2</text>
<text x="555.1" y="784.8" font-size="15.4" text-anchor="middle" fill="#262626">frequency (Hz)</text>
<text transform="translate(371.0 602.1) rotate(-90)" font-size="15.4" text-anchor="middle" fill="#262626">frequency (Hz)</text>
<rect x="461.0" y="484.6" width="22.7" height="130.6" fill="url(#parula)" stroke="#555" stroke-width="1"/>
<path d="M461.0 615.2h2M461.0 582.6h2M461.0 549.9h2M461.0 517.2h2M461.0 484.6h2" stroke="#262626" stroke-width="1"/>
<text x="454.7" y="619.5" font-size="12.3" text-anchor="end" fill="#262626">-1</text>
<text x="454.7" y="586.9" font-size="12.3" text-anchor="end" fill="#262626">-0.5</text>
<text x="454.7" y="554.2" font-size="12.3" text-anchor="end" fill="#262626">0</text>
<text x="454.7" y="521.5" font-size="12.3" text-anchor="end" fill="#262626">0.5</text>
<text x="454.7" y="488.9" font-size="12.3" text-anchor="end" fill="#262626">1</text>
<text x="462.3" y="481.2" font-size="11.5" fill="#262626">×</text>
<text x="472.2" y="481.6" font-size="12.8" fill="#262626">10<tspan font-size="10" dy="-5.6">-5</tspan></text>
<text x="775.1" y="24.2" font-size="30" font-weight="bold" fill="#000">C</text>
<text x="910.2" y="56.7" font-size="15.7" text-anchor="middle" fill="#262626">N2, d=10 @ 2013/04/07 03:00</text>
<path d="M767.4 330.6H1053.1M767.4 320.5H1053.1M767.4 313.3H1053.1M767.4 307.8H1053.1M767.4 303.2H1053.1M767.4 299.4H1053.1M767.4 296.1H1053.1M767.4 293.2H1053.1M767.4 273.3H1053.1M767.4 263.2H1053.1M767.4 256.1H1053.1M767.4 250.5H1053.1M767.4 246.0H1053.1M767.4 242.1H1053.1M767.4 238.8H1053.1M767.4 235.9H1053.1M767.4 216.0H1053.1M767.4 206.0H1053.1M767.4 198.8H1053.1M767.4 193.3H1053.1M767.4 188.7H1053.1M767.4 184.9H1053.1M767.4 181.6H1053.1M767.4 178.6H1053.1M767.4 158.8H1053.1M767.4 148.7H1053.1M767.4 141.5H1053.1M767.4 136.0H1053.1M767.4 131.5H1053.1M767.4 127.6H1053.1M767.4 124.3H1053.1M767.4 121.4H1053.1M767.4 101.5H1053.1M767.4 91.4H1053.1M767.4 84.3H1053.1M767.4 78.7H1053.1M767.4 74.2H1053.1M767.4 70.4H1053.1M767.4 67.0H1053.1M767.4 64.1H1053.1" stroke="#e8e8e8" stroke-width="1" stroke-dasharray="2 1.5" fill="none"/>
<path d="M767.4 290.5H1053.1M767.4 233.3H1053.1M767.4 176.0H1053.1M767.4 118.8H1053.1M794.4 61.5V347.8M837.5 61.5V347.8M880.6 61.5V347.8M909.4 61.5V347.8M938.1 61.5V347.8M981.2 61.5V347.8" stroke="#e6e6e6" stroke-width="1" fill="none"/>
<rect x="788.5" y="301.9" width="183" height="33.3" fill="#fff"/>
<path d="M767.1 240.4C767.2 238.1 768.2 218.3 768.5 217.4C768.8 216.5 769.9 233.3 770.3 231.4C770.6 229.5 771.5 203.3 772.0 198.6C772.5 193.9 774.2 188.2 774.8 184.6C775.4 181.0 777.1 163.4 777.6 163.0C778.1 162.6 779.6 176.3 780.1 180.4C780.6 184.5 782.3 205.2 782.9 203.5C783.5 201.8 785.5 166.8 785.9 163.0C786.3 159.2 787.0 164.5 787.3 165.1C787.6 165.7 788.6 166.2 789.0 168.6C789.4 171.0 790.8 187.6 791.2 188.8C791.6 190.0 792.5 182.2 792.9 180.4C793.3 178.6 794.8 170.6 795.4 170.7C796.0 170.8 798.6 181.0 799.2 181.8C799.8 182.6 800.9 177.6 801.5 178.4C802.1 179.2 804.7 188.5 805.4 189.5C806.1 190.5 807.9 187.5 808.5 188.1C809.1 188.7 811.1 195.1 811.7 195.1C812.3 195.1 813.5 188.0 814.1 188.1C814.7 188.2 817.0 195.7 817.7 195.8C818.4 195.9 820.8 188.0 821.5 188.8C822.2 189.6 824.4 202.2 825.0 204.2C825.6 206.2 827.1 210.2 827.8 209.0C828.5 207.8 830.9 193.0 831.7 192.3C832.5 191.6 834.6 201.6 835.4 202.1C836.2 202.6 838.9 196.8 839.6 197.2C840.3 197.6 841.7 205.6 842.4 206.2C843.1 206.8 845.9 203.4 846.6 203.5C847.3 203.6 848.5 208.1 849.1 207.0C849.8 205.9 852.3 192.7 853.1 192.3C853.9 192.0 856.4 205.0 857.1 203.5C857.8 202.0 860.1 179.7 860.5 177.0C860.9 174.3 861.1 175.8 861.4 176.2C861.7 176.6 862.7 182.1 863.1 181.1C863.5 180.1 865.1 170.0 865.6 166.5C866.1 163.0 868.0 148.0 868.6 146.2C869.2 144.4 870.9 149.1 871.4 148.3C871.9 147.5 873.4 139.1 873.9 137.9C874.4 136.7 875.6 137.4 876.0 136.5C876.4 135.6 877.6 129.5 878.1 128.8C878.6 128.1 880.3 132.0 880.9 129.5C881.5 127.0 883.7 105.7 884.4 103.7C885.1 101.7 887.3 110.3 887.9 109.3C888.5 108.2 890.1 94.4 890.7 93.2C891.3 92.0 893.5 97.7 894.2 97.4C894.9 97.1 896.8 90.8 897.4 90.5C898.0 90.2 899.7 92.1 900.4 93.9C901.1 95.7 903.8 107.2 904.4 108.6C905.0 110.0 906.2 108.9 906.7 107.9C907.2 106.9 908.8 98.9 909.1 98.8C909.5 98.7 909.7 106.2 910.2 107.2C910.7 108.2 912.9 108.5 913.7 109.3C914.5 110.1 917.8 115.0 918.6 115.6C919.4 116.2 921.5 115.1 922.1 114.9C922.7 114.7 924.3 113.2 924.9 113.5C925.5 113.8 927.7 117.8 928.3 118.4C928.9 119.0 930.5 118.5 931.1 119.7C931.7 120.9 933.3 129.1 933.9 130.2C934.5 131.2 936.6 131.1 937.4 130.2C938.2 129.3 940.5 121.3 941.6 121.1C942.7 120.9 947.4 127.7 948.6 128.1C949.8 128.5 953.0 125.1 953.7 125.3C954.5 125.5 955.6 129.8 956.1 130.5C956.6 131.2 958.0 131.8 958.4 132.4C958.8 133.0 959.8 135.8 960.3 136.2C960.8 136.5 962.5 135.5 963.0 135.9C963.5 136.3 965.1 139.4 965.6 140.0C966.1 140.6 967.4 141.2 967.9 141.9C968.4 142.6 970.4 146.1 971.0 146.5C971.6 146.9 973.2 145.8 973.6 146.1C974.0 146.4 974.9 149.3 975.4 149.2C975.9 149.1 977.7 145.0 978.2 145.0C978.8 145.0 980.3 148.7 980.9 149.5C981.5 150.3 983.6 153.1 984.3 153.3C985.0 153.5 987.5 152.1 988.1 151.8C988.7 151.5 989.5 149.9 990.0 149.9C990.5 149.9 992.1 151.5 992.6 151.4C993.1 151.3 993.9 149.6 994.5 149.2C995.1 148.8 997.9 146.8 998.7 146.9C999.5 147.0 1001.7 149.7 1002.5 149.9C1003.3 150.1 1006.0 149.6 1006.7 148.8C1007.4 148.0 1008.9 142.7 1009.4 142.3C1009.9 141.9 1011.2 144.4 1011.7 144.6C1012.2 144.8 1013.5 143.3 1013.9 143.8C1014.3 144.3 1015.3 148.9 1015.8 149.5C1016.3 150.1 1018.0 149.1 1018.5 149.5C1019.0 149.9 1020.7 152.8 1021.2 153.3C1021.7 153.8 1022.9 155.4 1023.4 154.9C1023.9 154.4 1025.8 148.8 1026.5 148.0C1027.2 147.2 1029.6 146.7 1030.3 147.3C1031.0 147.9 1032.7 154.2 1033.3 154.1C1033.9 154.0 1035.3 147.4 1036.0 146.5C1036.7 145.6 1039.3 145.3 1040.2 145.4C1041.1 145.5 1044.0 147.6 1044.7 147.6C1045.4 147.6 1046.9 145.1 1047.4 145.0C1047.9 144.9 1049.2 146.5 1049.7 146.5C1050.2 146.5 1052.4 145.2 1052.7 145.0" stroke="#0f72bd" stroke-width="2.4" fill="none" stroke-linejoin="round" stroke-linecap="round"/>
<path d="M767.4 290.5h2.9M1053.1 290.5h-2.9M767.4 233.3h2.9M1053.1 233.3h-2.9M767.4 176.0h2.9M1053.1 176.0h-2.9M767.4 118.8h2.9M1053.1 118.8h-2.9M767.4 330.6h1.6M1053.1 330.6h-1.6M767.4 320.5h1.6M1053.1 320.5h-1.6M767.4 313.3h1.6M1053.1 313.3h-1.6M767.4 307.8h1.6M1053.1 307.8h-1.6M767.4 303.2h1.6M1053.1 303.2h-1.6M767.4 299.4h1.6M1053.1 299.4h-1.6M767.4 296.1h1.6M1053.1 296.1h-1.6M767.4 293.2h1.6M1053.1 293.2h-1.6M767.4 273.3h1.6M1053.1 273.3h-1.6M767.4 263.2h1.6M1053.1 263.2h-1.6M767.4 256.1h1.6M1053.1 256.1h-1.6M767.4 250.5h1.6M1053.1 250.5h-1.6M767.4 246.0h1.6M1053.1 246.0h-1.6M767.4 242.1h1.6M1053.1 242.1h-1.6M767.4 238.8h1.6M1053.1 238.8h-1.6M767.4 235.9h1.6M1053.1 235.9h-1.6M767.4 216.0h1.6M1053.1 216.0h-1.6M767.4 206.0h1.6M1053.1 206.0h-1.6M767.4 198.8h1.6M1053.1 198.8h-1.6M767.4 193.3h1.6M1053.1 193.3h-1.6M767.4 188.7h1.6M1053.1 188.7h-1.6M767.4 184.9h1.6M1053.1 184.9h-1.6M767.4 181.6h1.6M1053.1 181.6h-1.6M767.4 178.6h1.6M1053.1 178.6h-1.6M767.4 158.8h1.6M1053.1 158.8h-1.6M767.4 148.7h1.6M1053.1 148.7h-1.6M767.4 141.5h1.6M1053.1 141.5h-1.6M767.4 136.0h1.6M1053.1 136.0h-1.6M767.4 131.5h1.6M1053.1 131.5h-1.6M767.4 127.6h1.6M1053.1 127.6h-1.6M767.4 124.3h1.6M1053.1 124.3h-1.6M767.4 121.4h1.6M1053.1 121.4h-1.6M767.4 101.5h1.6M1053.1 101.5h-1.6M767.4 91.4h1.6M1053.1 91.4h-1.6M767.4 84.3h1.6M1053.1 84.3h-1.6M767.4 78.7h1.6M1053.1 78.7h-1.6M767.4 74.2h1.6M1053.1 74.2h-1.6M767.4 70.4h1.6M1053.1 70.4h-1.6M767.4 67.0h1.6M1053.1 67.0h-1.6M767.4 64.1h1.6M1053.1 64.1h-1.6M794.4 61.5v2.9M794.4 347.8v-2.9M837.5 61.5v2.9M837.5 347.8v-2.9M880.6 61.5v2.9M880.6 347.8v-2.9M909.4 61.5v2.9M909.4 347.8v-2.9M938.1 61.5v2.9M938.1 347.8v-2.9M981.2 61.5v2.9M981.2 347.8v-2.9" stroke="#262626" stroke-width="1" fill="none"/>
<rect x="767.4" y="61.5" width="285.7" height="286.3" fill="none" stroke="#999" stroke-width="1.6"/>
<text x="761.1" y="355.2" font-size="14" text-anchor="end" fill="#262626">10<tspan font-size="10.5" dy="-6.8">-3</tspan></text>
<text x="761.1" y="297.9" font-size="14" text-anchor="end" fill="#262626">10<tspan font-size="10.5" dy="-6.8">-2</tspan></text>
<text x="761.1" y="240.7" font-size="14" text-anchor="end" fill="#262626">10<tspan font-size="10.5" dy="-6.8">-1</tspan></text>
<text x="761.1" y="183.4" font-size="14" text-anchor="end" fill="#262626">10<tspan font-size="10.5" dy="-6.8">0</tspan></text>
<text x="761.1" y="126.2" font-size="14" text-anchor="end" fill="#262626">10<tspan font-size="10.5" dy="-6.8">1</tspan></text>
<text x="761.1" y="68.9" font-size="14" text-anchor="end" fill="#262626">10<tspan font-size="10.5" dy="-6.8">2</tspan></text>
<text x="794.4" y="368" font-size="14" text-anchor="middle" fill="#262626">0.02</text>
<text x="837.5" y="368" font-size="14" text-anchor="middle" fill="#262626">0.05</text>
<text x="880.6" y="368" font-size="14" text-anchor="middle" fill="#262626">0.08</text>
<text x="909.4" y="368" font-size="14" text-anchor="middle" fill="#262626">0.1</text>
<text x="938.1" y="368" font-size="14" text-anchor="middle" fill="#262626">0.12</text>
<text x="981.2" y="368" font-size="14" text-anchor="middle" fill="#262626">0.15</text>
<text x="1053.1" y="368" font-size="14" text-anchor="middle" fill="#262626">0.2</text>
<text x="910.2" y="388.9" font-size="15.4" text-anchor="middle" fill="#262626">frequency (Hz)</text>
<text transform="translate(727.5 204.4) rotate(-90)" font-size="15.9" text-anchor="middle" fill="#262626">E (m<tspan font-size="11.5" dy="-6.5">2</tspan><tspan dy="6.5">/Hz)</tspan></text>
<text x="799.6" y="325.8" font-size="19.3" fill="#000"><tspan font-style="italic">H</tspan><tspan font-size="13.5" font-style="italic" dy="3.7">s</tspan><tspan dy="-3.7">=4.3, </tspan><tspan font-style="italic">H</tspan><tspan font-size="13.5" font-style="italic" dy="3.7">s,IGW</tspan><tspan dy="-3.7">=0.7</tspan></text>
<path d="M794.4 459.7V744.5M767.4 717.6H1053.1M837.5 459.7V744.5M767.4 674.6H1053.1M880.6 459.7V744.5M767.4 631.6H1053.1M909.4 459.7V744.5M767.4 603.0H1053.1M938.1 459.7V744.5M767.4 574.3H1053.1M981.2 459.7V744.5M767.4 531.3H1053.1" stroke="#e8e8e8" stroke-width="1" fill="none"/>
<path d="M1053.1 626.5l-2.9 0.1-1.4-0.5-1-1.2 0.1-1.4-0.5-1.6-1.4-1.3-1.5-0.5-1.4 0.4-1.4 1.1-1.5-0.1-2.8-1.4-5.9-8-5.5-3.3-2.9-0.3-1.4-0.7-1.4-1.4-0.9-8.6-1-2.8-1-1.3-1.4 0.8-1.5 0.2-1.4-0.9-3.2-3.1-2-4.3-1.9-0.3-11.5 0.1-2.8-2.1-1.5 0.4-1.4 1.5-1.4-0.9-1-2.9 2.2-4.3-0.4-1.4-0.8-1-2.9 0.9-1.4-1-0.9-1.8-3.7-4.3-0.4-1.4 0.8-1.4 0-1.4-1.5-3.4-2.9-1.4-1.8-2.3-0.3-1.5 0.7-1 1.4-0.4-2.8-4.6-2.9-0.4-1.4 0.6-1.4-1 0.3-3.1-0.5-1.5 0.2-1.4 3.3-1.4 2.4-2.5 3-0.4 2.1-2.8 1-2.9 3.9-0.9 1.4-3.8 2.1-0.9 3.6-4.3 1.4-0.1 4.1-2.8 1.1-4.2 3.4-0.9 0.7-0.6 1.1-2.8 5.6-4.3 0.3-2.8 0.7-1.5 7.3-3.6 2.3-3.5 2.3-1.4 2.4-4.3 1.6-0.6 2.1-3.6 2.3-1.5 2.7-3.4 3.5-2.3 0.8-1.8 4.3-2 1.4-3.3 2.9-1.4 1.4-3.1 2.7-1.2 4.5-5.3 1.4-0.2M1053.1 469l-1.4-0.7-2.1 1.4-0.9 1.4 3 5.2 1.4 0M1053.1 485.8l-3.3-3.3-1.3-4.3-2.5-2.4-1.5 0-1.5 1-1.3 2.1-1.5 0.7 0.7 4.3-0.7 1.3-1.4 1.4-6 0.2-2.6 2-1.6 2.2-3.6 2.9-0.6 1.4 2.5 2.8 2.3 4.3 3.7 4.3 0.4 1.4-1.6 0.2-1.5-0.6-3.5-3.9-3.4-2.8-1.6-3-1.5 0.8-1.7 2.2 6.1 5.7 1.9 2.8 5.6 4.3 1.2 1.4 0.6 1.5-0.2 2.8 0.8 1.3 2.9 1.6 4.3 4.3 2.1-0.1 0.5-1.4-0.6-1.4-4.1-2.9-1.8-2.8-0.3-1.4 1.3-2.1 2.9 0.2 1.4-1.3 1.4-0.1 1.5 0.6 5.6 5.5 1.5 0.6M1046 507.3l-4.3-0.5-2.9 0.3-2.3-1.8-2-3.2-2.3-2.5-0.5-5.5 1.4 0.4 1.9 3.6 5.2 4.7 1.5 0.3 1.7-0.7-3.9-4.3-0.5-1.4 0.6-4.2-0.2-4.3 0.8-1 3 3.8-1.3 2.9 4.3 9.9 0.1 2.9-0.3 0.6M1053.1 498.2l-2.6-1.5 0.1-1.4 1.1-0.8 1.4 0M1053.1 511.8l-1.7-3.7 0.6-2.8-0.7-1.5 0.4-1.8 1.4 0.5M1021.5 540.9l0.6-1.5-1.9-3.4-4.2-0.2-1.9-0.6-1.8-1.5-0.2-1.4 0.6-1.4 2.4-1.4 1.4-4.3 0.9-0.7 1.4 0.3 2.9 3.2 1.4 0.5 1.4-0.9 1.5-0.2 4.2 2.5 4.3 1.6 2.7 2.2 1.6 2.9 1.4 1 4.8-1-4.8-6.4-3.7-3.6-3.4-5.1-1.4-0.8-2.9-0.7-4.3-3.5-2.8-1-1-1.7-0.1-1.4-1.4-2.9-0.2-2.8-0.7-1.4-0.9-1.9-1.4-0.2-4.4 4.9 1.5 1.1 1.4 0.2 1.5 1.4 0.1 1.6-3 2.3-1.4 0.2-2.5-1.1-1-1.4-0.8-0.2-2.1 3 1.2 1.5 1.1 2.8 0.5 4.3-0.7 0.8-4.3-1.1-4.3-1.9-2.6 0.8-0.3 1.4 4.3 4 1.5 0.1 7.3 4.4 1.7 1.4 3.3 4.3 1.9 1.4 4.3 1.6 1.3-0.1M1050.2 513.9l-1.4-0.7-0.5-0.8 0.5-0.7 1.5 0.7-0.1 1.5M1020.2 521.4l-1.4-0.1-0.7-1.8 0.7-1.6 1.4-0.9 1.5 0.4 2.1 2.1-0.7 1.4-2.9 0.5M1027.4 525.3l-1.4-0.5-2.9-3.9 1.4-1 2 1 1.4 2.9-0.5 1.5M1053.1 528.9l-4.3-3.6-1.4-0.3-1.2 4.5 1.2 3.2 1.4 1 4.3 0.1M1053.1 577.3l-4.3-1.7-1.4 0.2-1.9 0.7-1.6 2.8-0.8 2.6-4.3-1.6-1.4-1.2-1.9-2.6-0.8-1.5-0.5-2.8-1.6-2.9 0.5-0.5 5.7 0.9 1.4-0.4 1.6-2.8-1.6-1.6-8.5-3.2-4.4 2-2.7 2.8 1.4 0.4 3.7 2.4 0.3 2.9-1.2 1.1-1.4 0.1-4.3-3-2.5 1.8 1.7 4.3 1.1 1.4-1.7 1.4 1.7 4.3-0.3 0.7-1.4 0.6-2.9 0.2-2.8-7-1.5-1.4-1.5-0.2-0.9-1.5 0.1-1.4-1.1-2.8 0.3-1.5 1.7-0.7 2.9 2.3 1.4 0.7 1.4-0.1 0.6-0.7-0.8-1.5 0.2-2 1.4-0.4 2.9 0.2 1.4-0.6-4.3-4.3-5.7-2.8-1.4-1.2-1.1-1.7-0.3-1.4 1.4-1.2 1.4 0.2 7.2 4.3 1.4 0.2 1.4-5.1 1.1-1.2-1.1-2.3-1.4 0.3-4.3-1.5-1.4 0.3-0.8 1.7-2.1 0.8-1.4-0.3-5.3-3.3-0.8-1.4 0.1-1.5 3.1-0.4 0.7-1 0-1.4-3.5-3.3-1.4-0.5-2.9 0.5-4.1-3.8-3-1.9-1.3-2.4-0.7-4.3-0.9-0.5-1.4 1-3.1 3.8 0.2 2.9-1.4 1.3-1.4-0.8-2.7 0.9-1.3 1.4-0.5 1.4 0.5 1.4 2.5 1.9 1.5-0.1 1-1.8 0.4-1.8 1.4 0.5 4.7 4.2 0.8 1.4-0.6 1.4 0.4 1.5 0.8 1.4 1.6 1.4 2.3 1 1.4-0.1 2.9-1.2 1.4 0.9 2.3 2.3 2 5.2 2.9 2.3 1.4 2.4-1.4 1.1-2.9-1-2.8 0.5-0.7 0.9-0.8 3.3-1.4 0.6-3.8 0.3-0.5 3.1-1.4 1.2-2.9 0.2-2.8 2.3-0.7 1.8 1.2 2.8 1.9 2.9 1.9 1.3 1.4-0.3 1.4-4.9 7.2 1.6 2.7 2.3 1.9 2.8 5.4 2.7 1.4-0.1 1.4 0.6 1.4 1.5 2.1 2.4 2.2 4 2.9 2.3 2.4 3.7 0.6 1.4-2.5 1.4 0.4 1.5 3.4 2.1 1.4 0.2 0.9-0.9 0.6-2.9 1.4-2.1 1.4-0.8 1.4 2.2 1.7 5 1.2 1.3 1.4 0.7 4.3-0.2 2.8 1.9 2.9 0.7M1003.1 533.7l0.1-1.4-1.5-2.3-1.5-0.4 0 1.7 1.5 1.6 1.4 0.8M1043.6 558l0.3-1.5-0.7-2.8-3.7-7.1 1.9-1.5-1.3-4.2-1.3-1.8-4.3 0.5-4.2-1.6 0.4-2.8-3.3-1.8-0.5 0.3 0.5 0.7 1.4 1.6 1.3 0.6-0.1 1.4-2.6 0.3-2.9-0.9-0.8 0.6-0.1 1.4 1.4 1.5 2.4 0.7 2.8 1.6 6.2 6.2 0.7 1.4 0.3 2.9 1.4 3 2.9 1.5 1.9-0.2M997.4 538.4l-2.9-1.1-0.8-0.7-0.6-1.6 1.4-0.7 1.5 1 1.8 2.7-0.4 0.4M998.8 540.1l0-0.8 0.8 0.1-0.8 0.7M1053.1 539.1l-1.4-0.5-2.5 0.8-0.4 0.6-0.2 0.9 0.8 2.8-1.5 2.9 0.5 4.2 1.2 2.9 0.6 2.8 0.6 1.5 2.3 1.8M1001.7 543.7l-1.8 0-1-1.4 0.1-1.4 1.2-1.3 1.5 0.1 0.7 1.2 0.3 1.4-1 1.4M986.3 572.2l3.9-3.8 3 0.9 1-1.4-0.1-1.4-1.9-4.3 0-1.4 3.2-1.4-1.5-1.4-2.2-4.1-1.5 0.1-2.8 1.2-1.4-0.2-1.5-2-2-5 0.6-2.9-0.6-1.4-2.3-2.5-2.8 0-1 1.1 0.2 1.4-0.7 1.4 0.1 1.5 0.6 1.4 3.5 4.3 0.7 2.8 3.8 5.7 0.6 4.3-0.8 2.8 0.3 1.4-0.4 1.5 1.7 2 0.3-0.6M1026.2 548l0-1.4-1.7-1.1-0.6 1.1 0.6 1.7 1.7-0.3M1053.1 550.9l-0.8-4.3 0.8-0.4M794 744.5l1.9-1.4-0.2-1.4-4.1-7.2 0.1-1.4 1.4-0.3 2.9 2.1 1.4-0.1 1.4-2 10 8 1.5-0.5-0.4-1.5-2-2.8-0.5-1.5 0.3-1.4-3.2-1.9-2.7-2.4-1.3-1.4-0.1-1.4 1.3-2 1.4-1 1.4 0.5 2.9 2.2 2.9-0.5 5.7 2.9 0.4-2.1-0.4-2.6-3.1-4.5-0.2-2.9 0.4-0.3 1.4 0.5 4.3 2.6 0.7-1.4-2.1-3.6-1.4-1.2-2-0.9-1.5-2.8-0.8-0.3-1.4 0.7-1.9 2.4 1.5 1.5 0.3 1.4-2.3 1.4-0.6 1.4 1.8 2.9 0 1.4-0.3 0.4-1.4-0.7-2.5-4 0.4-2.8-1.8-1.4-0.3-1.5 0.5-1.4 2-1.4 0.8-1.4 0-2.9 0.5-1.4 4.7-0.7 0.5-0.7 0.2-4.3 0.7-0.7 5-0.7 2.2-3.4 4.2-3.3 5.9-6.1 2.6-1.5 0.3-2.8 1.5-2.9 1.2-1.1 2.8-0.9 1.2-0.8 0.2-1.4 0.9-1.4 3.4-4.1 1.5-0.5 2.8 0.3 1.3-1.4-0.3-1.5 0.5-1 3.8-1.8 1.1-2.9 3.6-2 1.5-3.4 0.4-0.3 2.4 0.2 1.1 1.3 0.3 2.1 2.2 3.6 0.3 2.8 2.7 5.7 3.4 3.9 3.2 1.8 0.9 1.4-1.2 0.4-1.5-0.6-0.6 0.2-0.2 4.3-2 1-1.4-0.1-2.9-1.8-2.9 0.7-2.8-0.5-1.4 0.6-0.8 2.9-0.7 0.8-4.3-1.5-2 0.7 1 1.5 5.3 3.1 2.9 2.5 1.4 0.1 1.8-1.5-0.4-3 1.5-0.3 0.9 1.9 2 1.4 0.5-1.4-0.2-1.4 1.1-1.5 1.4 1.1 1.8 3.2 0.5 1.5-0.1 2.8 0.6 1 1.5 0.8 2.8-0.5 2.9 0.5 0.7-0.4-2.1-5.7-0.7-2.8-3-4.3 2.1-2.8-0.1-1.5-0.8-1.4 1-6.3 1.5-2.2-1.1-2.9 2.5-0.6 5.7 1.4 1.4-2.5 1.5-0.4 0.2-0.7-4.3-4.3-0.6-2.8-3.9-3.3-2.8-3.9 1.4-1.2 4.2 2.7 2.9 3.3 1.4 0.9 5.7 1.6 1 1.3-0.1 1.4-0.9 1.4 0 1.5 0.9 1.4 3.4 2.7 1.5 0.3 1.4-0.4 1.3-1.2 0.3-1.4-0.7-1.4-3.8-3.5-4.3-2.4-1.8-4.1 0.4-1.5 2.9 0.5 7.1 4.7 2.2 2 2.1 3.4 1.4 0.9 1.6 0 1.3-0.8 1.4-2 3 2.8 1 1.4 1 2.8 0.7 0.6 1.4 0.4 0.7-1 0-1.4-1.4-1.4-0.4-1.4 0.3-2.9 0.8-0.5 2.9 1.2 3 3.6-2.3 1.4-0.2 1.4 2.4 2.9 4.2 2.1 2 2.2 3.3 5.6 1.9 1.7 0.5-0.2 0.2-1.5-3.2-7.1-5.1-4.2-1.9-2.9 0.4-1.4 1.9-2.5 1.5-0.7 2.8-0.2 0.7-0.9-0.9-4.3 1.7 1.1 1.9 0.4 3.8-2.3 1.4-1.5 2.9 1.9 4.2 1.1 0.7-0.7-0.6-1.4-2-2.8-2.3-1.6-1.5-0.3-1.4 0.4-1.4 1.8-3.9-3.2-1.8-0.4-4.1 1.8 0.8 2.9-1 0.5-1.9-3.4-3.8-3.4-2.9-3.6-2-1.5-1.5-2.8-0.8-0.6-2.8 0-1.5-0.5-2.5-3.2-0.2-4.3 1.3-0.8 1.4 0 0.7-0.6-0.5-1.4-3.6-4.3 0.4-2.9-0.4-1.4-4-4.3-0.6-1.4 0.9-0.6 2.8 1.1 1.3 0.9 1.6 2 3.2 2.3 0.8 1.4 0.1 2.9 1.6 1.9 2.9 2.7 6.4 3.9 0.7 3.6 5.7 4.4 4.3 1.9 2.9 0.4 1-0.3 0.7-1.4-1.1-8.6-1.6-4.2 0.9-4.3-0.3-1.4 1.2-1.5 0.6-2.6 2.9 0.4 1-0.6-0.3-2.9 0.7-0.3 1.4 0.4 1.4 1.4 0 2.8 0.4 1.4 1.1 1.2 1.4 0.4 2.9-0.4 4.2 4.2 1.5 0.7 2.8 0 7.2 7.6 1.4 0.8 0.5-0.2-0.1-1.4-2.5-4.3-2.2-1.5-2.8-1.2-1.1-1.6 1.6-2.8-0.2-1.5-0.7-1.4-3.9-2.9-1.5-0.1 0.2 3-1.6 0.8-1.4-0.4-4.7-4.7-0.5-1.4 0.9-0.5 0.2-2.3-1.1-1.5-2-1.4-0.1 2.9-1.3 0.7-1.4-0.9-1.1-1.3 0-2.8-3.7-7.1-2.4-1.6-2.8-0.5-1.4-1.6-1.5-0.5-1.4 1.8-1.4 0.6-1.5-1.1-2.8-0.2 0 1.2 0.9 1.9-0.9 0.3-1.4-1.2-1.5 0.2-0.8 0.7-0.6 1.6 2.9 2.4 2.8-0.7 2.9 1.3 1-0.3-1-2.9 0.2-1.4 1.2-0.9 2.8 2.3 1.8 2.9 2.5 1.5 1.2 1.3 1.2 2.8 2.9 4.3-1 0.4-1.4-0.2-1.2-1.6-1.1-2.9-3.4-3-1.4-0.4-0.5 0.6 2 4.3-1.5 1.9-1.5-0.6-2.8-3-1.9-1.2-2.4-1.2-1.4 0-0.2 1.2-1 1.4-1.7 1-0.8 1.9 0.1 1.4 1.8 4.3-1.1 0.4-5.7-3.2-7.2-5.2-1.4-0.4-2.8 2.9-1-0.2 1.2-2.9 1.2-1.4 2.8-1.3 2.9-2.8 1.4-0.7 2.9 2.9 1.4 0.6 1.4-1 0.6-1.9-2-2.3-1.6-0.6 2.7-2.8 1.8-2.8 4.3-3.3 1.4-2.8 3.5-2.5 1-1.5 2.6-1.3 2.5-4.4 1.4-1.4 1.8-1 2.2-0.4 0.7-1.4 0.1-1.5 1-1.4 1.8-0.3 2.8-4.4 2.9-2 1.2-3.2 1.2-1.5 4.8-1.4 2.5-4.3 3.1-0.5 2 2-0.3 1.4 1.4 1.4 0.6 1.4-0.8 2.4-3.4-0.9-0.9-1.1-1.5 1.1 0 2.8-1.4 5-1.4 0-2.8-1.1-1.2 0.4-0.3 0.8-1.4 0.4-1.4 1.5-0.7 1.5-2.2 1.1-1.6 1.8-3.6 1.4-0.2 1.4 0.8 2.9 2.8 4.3 0 2.8-1 0.2-2.9-2.3-2.9-1.1-1.4-0.1-1.4 1.5-1.4 0.2 0 0.5 2.8 1.5 4.3 3.4 1.4 0.4 2.2-1.3 0.7-2.1 0.1 0.6 3.6 4.3 0.4 1.4-0.4 2.9 0.8 1.4 1.2 1.5 4.3 3 1.4 0.3 3.6-1.9-0.7-0.5-1.4-2.4 1.9-1.4-0.1-1.4-3.3-5.7 0-2.1 1.4-1.7 4.3 2.3 1.5 0.3 1.4-0.5 3 1.7 4.1 1.2 5.2 4.5 2 3.5 0.9 0.7 0.2 1.5-1.7 1.4-0.9 3.1-0.4-1.7-1.9-2.8-4.8-5.6-1.4-0.8-1.5 0.6-0.5 1.5 1.2 5.7 4 7.1 1.6 4.3-6.3-1.5-4.2-4.5-1.5-0.7-1.4 0.1-1 0.9-0.2 1.4 4.1 5.6 1.6 1.5 2.4 4.3 6.9 5.7 0.5 1.4-0.5 2.9 0.6 1.4 0 2.8 0.7 1.5 4.9 0.5 1-0.5 0.4-1.3 1.5 0.8 1.8 3.3 3.7 4.3-1.3 0.9-1.4-0.6-1 2.5 0.5 1.4 1.9 0.5 1.5-4.3 0.2 1 4.1 3.4 5.1 2.3 0.1 2.8 6.9 4.3 1.1 1.4-0.4 1.5-1.4 1.1-1.4 0.7-1.5-0.2-2.8-1.9-2.9-4.6-5.7-0.1-4.3-2.6-2.8-0.6-1.4 1-0.8 1.5 0.9 2.8-0.2 1.4-4.3-2.3-1.4 0.2 0.2 3.6 4.1 4.2-0.1 1.5-2.8 1.3-1.4-0.2-0.9-1.1 0.3-2.9-0.8-1.8-1.4-0.4-1.5 0.2-1.4-1.2-4.3-5.6-1.4-0.9-1.4 1.5-2.9 1.1-4.3-0.3-0.4 1.7 2.4 5.7 5.1 5.7 0.7 1.4-1.2 1.5-0.4 1.4 1.1 5.7-1.9 1.4 0.3 3.7-1.4 0.4-2.9-2.2-0.6 2.4-0.8 0.3-1.4 0.2-2.9-1.5-4.3-5.6-1.4-1.1-2.7-0.9-0.8-1.4 2.1-0.3 1.4 1 1.4 0 0.5-0.7-0.5-0.8-0.8-0.6-2-0.4-2.9-2-1.4 0-1.4 0.7-1.8 1.7 0.9 1.4 3.5 1.4 0.9 5.7 2.2 5.7 1.4 0.7 2.9-1.2 1.4 0.1 4.3 2.7 7.1 1.2 4.3 4.1 2.9 1.3 1.4 1.1 0.4 1.4-2.7 1.4 0.7 1.5 7.3 4.7 2.6 2.4 1.3 2.8-1 1.2-4.3-0.6-4.3-4.2-1.4-0.4-1.5 0.4-1.4-0.9-1.4-2.6-0.7-5.7-2.2-2.3-1.4-0.2-1.4 0.7-1.5 3.5-1.4 0.4-1.4-0.2-1 1 3.8 6.2 1.5 1.3 2.8 1.3 2.4 2.5 1.4 4.3 1.3 1.4 6.1 4.3 1.5 1.4 0.2 1.1 2.8-0.9 1.5 0.8 1 1.9-1 1.6-1.5-0.6-1.4-1.7-1.4-0.7-4.3 0.1-1.4 1.7-1.5 0.4-1.4-0.5-1.4-1.3-3.3-3.3-1-3.3-1.4-1.5-1.5 0.3-2.3-4-6.8-5.7-1.9-7.1 1-1 1.5 0.5 2.2-1-0.9-1.4-0.5-4.3-2.3-1.8-4.2 0.3-0.2 3-1.3 0.8-1.4-0.9-2.8-2.8-0.7-4.3-2-2.8-5.6-2.9-1.1-1.4-0.9-2.8-1.2-1.3-6-1.6-1.1-1.4-0.2-2.8-1.3-2-4-0.9-1.7-1.3-1.4-0.4-1.4 0.5-1.5 1.2-0.6 1.4 3.5 4.5 1 2.6-0.2 1.5-4 1.4-0.6 1.4 0.2 1.4-0.7 0.6-2.1-2-0.3-1.4-3.3-2.8-2.4-2.9-0.6-1.4 1.1-2.9-0.9-0.9-1.5-0.6-0.2 1.5-0.8 1.5-1.8 0.9-2.4-2.4-3.3-2.1-2.9-0.4-1.4 0.2-1.2 0.9-1.6 4.3 2.1 1.4 3.5 1.3 1.7-2.7 1.2-1 2.8 0.2 0.9 0.8-0.5 4.2-0.4 0.8-1.4 0.4-2.8 0-1.5 0.6-3.2-1.8-2.5-2.4-1.3 1 2 4.3 3.6 4.3 0.4 1.4-0.4 4.3-1.5 1.4-0.1 1.4 1.3 1.4 3.2 1.7 2.8-0.6 4.6 3.2-1 2.9 1 2.8 3.7 2.9 3.1 3.3 1.5 0.3 1.1-0.8-3.4-5.7 0.8-1.4 1.5 0.9 1.4-0.4 0.4-3.4 3.4-1.4 0.9-1.4-1.3-2.9-0.3-4.2-1.4-2.9 1.1-3.3 5.8 6.5 1.4 0.9 4.3 2.6 2.8 0.7 1.6-0.3 0.8-1.4-0.2-4.3-2.2-2.4-4.5-1.8 0.7-1.5 1-0.3 4.3 3.2 2.8 0.9 1.4 1.8 2.9 5.8 1.4 1.1 1.5-1.7 1.4 0.3 5.5 6 0.6 1.5-0.1 4.2 1.1 1.6 2.9 1 2.1 1.7 0.6 2.8-0.4 1.5-0.9 0.5-2.1-2-2.2-3.1-1.1 1.7-1.7 0.9-2.9-0.6-4.3-3.6-1.4-0.6-1.4 0-1.3 1.1 2.7 4.2 0.2 1.5-2.6 2.8-0.1 2.9-1.8 2.3 0.9 3.4 2 1.6 0.6-0.2 0.8-0.5 1-2.4 1.9-0.1 1.3-1.3 0.5-1.4-1-2.9 0.6-1 1.4-0.1 2.9 0.8 1.4-1.5 1.4 1 1.5 3.3 1.4 7.5 0 1.5-3.1 1.4-1.2 1.6-4.3-1.2-2.8 0.3-2.9-0.3-4.3-3.1-2.8-0.8-4.3-3.5-4.3 0.8-0.7 0.5-0.2 1.4 2.5 2.8 0.5 1.5-0.7 1.3-2.8 0.3-1.1 1.2 6.9 8.6 0.9 2.8M978.1 556.5l-0.7-0.9-1.4 0.1-0.3 0.8 1.7 1.2 0.7-1.2M1051.7 567.9l0.5-4.2-2-1.6-0.7 0.1 0.7 4.3 1.5 1.4M970.2 571.3l-1.4 0.5-1.4-1.1-0.8-1.4-0.1-1.4 0.9-1.3 2.8-1.5 3.1 1.4 1.1 1.4 0.2 1.4-2.9 0.8-1.5 1.2M981.7 588l-1.5 0-2.6-1.6 0.8-2.8-3.9-3.8-1.6 0.9-0.5 4.3-0.7 0.5-1.5-0.9-1.7-3.9-1.1-1.6-1.4-1-2.9-0.4-1.4 2.7-2.9 0.2-1.4 1-4.8-2.3-0.7-1.4-0.1-2.9 1.3-1.4 4.4 1.4 0.2-1.4-2.6-7.1 0.9-0.3 1.6 1.7 8.4 4.3 2.8 0.6 4.3 2.9 1.4-3.9 1.5 0.3 3.8 2.9 3.1 2.9 0.8 1.4-0.7 1.4-2.3 1.5-0.2 1.4 1.5 2.8-0.3 1.6M951.7 574.4l-0.8-0.8 0.8-0.5 1.3 0.5-1.3 0.8M1053.1 589.1l-3.6-4.1-0.6-1.4 1.3-1.4 1.5-0.1 1.4 1M1053.1 610.5l-2.7-4.1-5.9-5.5-2.8-1.9-2.9-3.2-2.8-2.3-2.1-2.8-0.4-1.4 0.1-1.4 0.9-0.7 2.9 0.2 2.8-1.6 2.8 0.6 1.5 1.2 1.5-1 1.4 0.3 1.1 1 0.6 1.4-1.8 0-2.8-1.3-0.6 1.3 0.2 1.4 4.3 5.7 4.7 3.7M993.1 595l-1.4 0-1.5-0.8-2.1-2.1 0.2-1.4 1.9-2.7 2.9-0.7 1.4 1.1 2 5.2-0.5 1-2.9 0.4M1030.2 591.3l-1.4-1.6 0-1 1.5 0.6 0.3 1.4-0.4 0.6M1010.2 605.3l-4.2-0.6-1.5 1.2-2.9-2.4 0-1.4 1.9-1.4 0.6-1.4-1-5.7 1.4-2.4 0.8-0.5 0.7-0.1 1.4 0.8 2.2 2.2 2.3 4.2 0.7 2.9 2.1 2.8-0.2 0.7-2.8-1-0.7 0.3-0.2 1.4-0.6 0.4M1013.1 627.1l-2.9-2.6-7.1-2.4-4.3-2.9-1.4-0.2-1.4 1.1-1.5 0.4-1.4-1-3.8-4.6 1.4-1.4 0-2.9 0.6-1.4-0.7-2.8-2.3-2.9-5-4.2-0.3-4.3 1.5-1.1 1.5 0.1 1.4 1 2.8 4.1 6.1 4.4 3.9 7.1 0.8 2.9-0.8 1.5 4.3-2.8 1.5 0.1 2.8 1.6 1.8 2.4 2 7.2 1.5 2.8-1 0.8M968.4 600.7l0.1-1.4-1.1-1-1.4-0.8-1.8 0.3-0.4 1.5 1.3 1.4 2.3 0.4 1-0.4M987.4 613.1l-7.2-5.1 0-2 1.5-0.6 4.7 3.8 1.6 2.9-0.6 1M1016 609.3l-1.5 0.2-1.4-1.1-0.5-0.6 0.5-1.3 1.4-0.4 1.3 1.7 0.2 1.5M936 613l-2.9-0.7-2.2-1.7-1.1-2.8 0.4-1.3 2.9 0.4 1.4 1.2 2.1 4-0.6 0.9M904.5 609.3l-1.4-0.1 1.4-1 0 1.1M903.1 610.7l-0.4-0.1 0.4-1.3 0 1.4M904.5 618.6l-1.4 0-1.4-1.1-1.4-2.1-1.2-0.5 2.6-2.7 1.4 0.9 2.3 3.2-0.1 1.5-0.8 0.8M1000.2 639.4l-1.4 0.6-1.4-0.4-5.7-5.9-2.9-1.1-7.1-9.7-1.5-1.4-2.8-0.3-1.4-1.1-2.2-2.3-0.5-1.5 3.2-1.4 0.9-2.5 1.4 1.3 0.9 4.1 1.1 1.4 0.9 0.4 4.3-0.5 1.5 1.5-0.3 1.4 0.5 1.5 4 5.1 8.7 4.8 1.1 2.9-1.3 3.1M988.8 613.8l-0.6-0.3 0.6-0.3 0.5 0.3-0.5 0.3M1041.6 614.9l-0.1-1.4-1.3-0.7-1.4-0.1-0.6 0.8 2 1.9 1.4-0.5M937.4 628.7l-2.9-2-7.1-6.8-2.5-5 2.5 0 1.4 0.5 2.9 2.9 2.8 1.5 2.7 2.2 1.2 1.5 0.2 1.4-0.5 2.8-0.7 1M1024.5 616.8l-1.4-0.3-1.6-1.6 0.2-0.3 2.4 0.3 0.8 1.4-0.4 0.5M1053.1 645.4l-2.9-2.1-2.8 0.7-1.4-0.2-3.2-3.3-0.3-1.4 0.6-1.4-1.1-1.4-4.6-1.5-1.9 0.1-1 0.9-0.1 1.9 1 4.3-0.9 0.3-4.3-1.7-4.2-4.5-1.5-0.7-1.4 0.3-0.5 2 0.8 2.8-0.3 1.2-1.4 1.4-1-1.1 0.1-1.5-0.6-1.4-1.4-1.5-5.7-1.7-2.9 2.6-2.8-2.8-3.5-5.1 0.6-2.2 1.5-0.9 4.2 2.3 4.3 4.5 1.3-0.9 0.4-1.4-0.3-1.4-2.2-2.9 0.8-0.9 1.5 0.9 2.8 0.7 2.9 1.8 1.4-0.8 0.3-1.7 1.1-0.9 2.9 0.9 1-1.4-1-1.4-1.4-0.3-0.9 0.3-2 2.1-0.3-0.7-2.6-1.9-1.9-3.8-0.1-1.4 0.6-0.1 14.3 5 1.2 0.8 1.7 2.9 2.8 0.5 1-0.6-0.3-2.8 0.7-0.4 2.9 1.8 2.5 2.9 0.7 1.4 0.5 2.8 2 3.1 1.4 0.8 2.9 0.2M964.2 649.1l0.1-1.4-1.5-4.3-3.4-4.3-2-3.9-2.1-1.8-1.9-4.2 1.1-3.2 5.7 2.1 1-0.4-0.7-1.4-3.1-3.3-5.7-3.1-2.9-0.4-4.3 0.6-0.4 0.5 3 7.1 1.7 1.9 5.6 3.8 1.1 1.5 0.1 1.4-1.9 2.8 2.3 2.8 0.4 1.5-1.7 1.4-0.8 1.4 2.1 1.8 2.8 1 4.3 0.6 1.1-0.5M888.8 631.2l-6.5-0.6 0.8-1.6 4.2-2.7 1.8-2.8 2.6-0.9 0 0.9-4.3 4.2 0.2 1.5 1.5 1.4-0.3 0.6M900.3 630.3l-1.7-1.1 0-1.5 2 1.5-0.3 1.1M878.8 646.2l-6.2-4.2 0.5-2.9 1.4-4.4 4.3-1.1 2.9-2.3 0.2 2.1 2.1 1.5 1.9 2.8-0.8 1.4-2-0.3-4.3-3.6-2.5 2.5-0.6 1.4 1.7 1.4 2.6 4.3-1.2 1.4M930 639.1l0.4-1.4-0.6-1.4-3.8-2.8-2.9-0.9-0.5 2.3 0.5 1.4 1.4 1.8 4.3 1.5 1.2-0.5M980 653.4l1.7-1.5-4.3-4.3-5.1-4.2-0.5-1.4 2-1.5 0.6-1.4-0.3-2.8-2.4-2.3-4.3-1.2-0.6 0.6 3.2 7.1-1.2 0.6-2.8-0.4-1.2 1.3 0.1 1.4 2.5 3 4.3 1.9 3.3 2.2 1.7 1.4 2.1 2.9 1.2-1.4M908.8 640.8l-1.4-0.6-2.4-2.5-0.5-3.2 1.5-0.3 2 0.7 4.9 2.8 0.2 0.7 1.3 0.7-5.6 1.7M911.7 656.5l-0.2-1.7-4.1-2.7-1.5-1.6-0.3-2.8-6.8-4.2-1.3-1.5-1.9-4.3-0.2-1.4 2-0.3 2.9 1.1 4.2 4.9 1.8 2.8-0.2 2.9 5.6 5.7 0.1 1.4 0.9 1.4-1 0.3M949.7 639.1l-0.6-1.4-1.7-0.8-1.2 0.8 0.8 1.4 1.8 1.1 0.9-1.1M970.2 642l0-0.3 0.5 0.3-0.5 0M984.2 646.2l-0.4-1.4-2.1-2.1-2.9-1.1-0.7 0.4-0.3 1.4 1 1.7 4.3 1.8 1.1-0.7M1018.8 642.3l-0.6-0.3 0.6-0.3 1.1 0.3-1.1 0.3M1020.2 643.6l-0.3-0.2 0.3-1.2 1.3 1.2-1.3 0.2M1038.8 657.4l-1.4 0.1-1-1.3-1.5-4.3-1.3-1.4-3.4-1.4-2.8-0.5-1.6-0.9-0.7-1.5 3.7 0 5-1.4 2.2-2.6 1.4-0.2 2.8 1 3.5 1.8 1.6 1.4 0.6 1.5-0.2 1.4-1.2 1.5-1.4 0.6-2.9-1-1.3 0.3-0.3 1.4 1.3 2.9-1.1 2.6M880.3 659.2l-3.8-1.6-2.2-2.8-1.2-0.5-4-3.8-1.7-0.1-1.4-0.8-0.3-1.9 1-1.5 2.1-1.1 1.5 0.5 4.2 6.6 1.5 1.4 2.8 0.4 2.3 2.2 0.2 1.4-1 1.6M924.5 655.3l-8.5-5.6-0.9-2 2.3-1.8 1.4 0.1 2.9 1.7 2.8 3.1 1.6 2.6-0.2 1.4-1.4 0.5M1006.4 744.5l-1.9-1.6-2.7-4.1-1.6-1.4-1.4-0.2-1.4 1.2-3.7-1-2-1.2-0.3-1.7-2.3-4.2-0.1-1.5 1.3-4.2-0.6-1.5-2.4-2.8-1.4-4.3 0-1.4 1.5-0.9 0.7-2-0.7-2-1.8-2.2 0.4-0.8 1.4 0.1 2.8 1.2 4.3-0.3 1.5 0.7 0.6 1.9 0.3 5.7 0.5 1.1 0.7 0.3 0.7 0.3 4.3-1.4 1.2-1.7 0.3-1.4 1.4-1.1 1.4 1 2.1 2.9 3.6 3.3 4.3 1.9 1.6 1.9 0.5 1.5-0.7 1.2-1.4-0.3-4.3-2.8-1.4-0.2-0.3 0.6 5.5 5.7 0.8 1.5 1.1 5.1 1.4 0.5 2-1.4-0.1-1.4-1-1.4 0.6-0.8 2.8 1.8 2.9 0.7-0.4-1.7-1.4-2.9 0.4-0.5 4.2-2.4 2.9 0.1 3-2.9-1.6-3.9-2.8-4-1.5-0.9-2.8 0-1.6-1.1-0.6-4.3-1.7-2.8 1-2.9-0.5-1.4-3.8-4.3-2.2-7.1 0.8-0.9 2.4 2.3 0.7 1.4 0.3 2.9 2.3 2.7 1.5 0.9 2.8-0.2 1.4 1 1.5 2.2 1.4 0.9 0.9-0.4-0.4-2.8 1.2-1.5 0.2-4.2 0.5-1.5-5.6-7.1-4.2-4.3-4-3-4.3-1.5-1.3-1.2-0.1-1.4 1.4-0.7 2.8 1.2 2.9 0.2 4.3 3.8 1.4 0.5 1.5-0.7-0.6-2.9-3.1-4.2-4.5-8.6 0.4-4.2-1.1-1.5-1.2-0.3-1.4 0.3 0.8 2.9-0.2 2.8 0.5 4.3-1.1 1.2-1.4 0.3-1.4-0.6-2.2-2.3-0.1-1.4 1.4-2.9-0.8-5.7-1.1-4.3 1.2-4.2 1.6-0.1 7.9 4.3 4.9 4.6 7.2 3.2 1.4 0 8.6 4.5 4.2 0.3 2.9 3.2M1050.2 649.9l-0.3-0.8 0.3-0.5 0.8 0.5-0.8 0.8M933.1 651.1l-0.3-0.6 0.3-0.8 0 1.4M1008.8 652.2l-1.4-0.5-1-1.2 1-0.8 1.4 0.2 1.1 2-1.1 0.3M1053.1 656.9l-1.4 0.5-1.5-2.6-0.1-1.4 0.5-2.9 1.1-1 1.4 1.2M918.8 655.3l0-0.8 0.3 0.3-0.3 0.5M873.1 662.1l-1.4 0.2-2.3-1.8-1-2.9 0.4-0.5 2.9-1.3 1.4 0 2.4 1.8 0.2 1.5-2.6 3M953.3 669l0.6-1.4-0.4-1.4-1-2.9-2.1-2.8-1.1-2.9-1.9-0.9-1.4 0.8 2.1 7.3 2.3 2.8 1.3 1 1.6 0.4M973.1 664.1l-1.4-0.5-1.7-1.7-0.4-1.4 0.6-1.7 2.9 0.5 1 1.2 0.4 1.8-1.4 1.8M1051.7 659.5l0-1.5 1.4 1.1-1.4 0.4M1008.8 683.2l-2.8-1.9-1.6-2.3-1.1-2.9 0.9-2.8-0.2-1.4-3.8-5.2-2.8-0.3-2.9 0.2-4.3 1.4-5-3.2-0.6-1.5 1.4-2.4 1.4 0.1 2.8-1.1 2.9-0.5 5.7 5.7 1.4 0.6 2.9-0.8 1.4 0.1 1.5-1.1 1.4 0.1 1.1 0.8 1.4 1.4-1.6 1.4-0.6 1.4 2.9 4.3-1.3 4.3-0.5 5.6M857.8 664.8l0.1-1.5-0.5-0.2-0.3 1.7 0.3 0.4 0.4-0.4M944.9 666.2l0-1.4-1.8-0.8-0.7 0.8 2.1 1.8 0.4-0.4M977.4 669.5l-3.2-1.9-0.4-1.4 0.7-0.7 3.4 0.7 0.6 2.8-1.1 0.5M908.4 670.5l-0.1-1.5-2.3-1.9-1.5 0.4-1.1 1.5 0.9 1.5 1.7 1.3 1.4-0.4 1-0.9M1010.2 667.7l-0.5-0.1 0.5-0.3 0 0.4M1038.3 676.1l3.4-4.6 1.4-0.1 1.4 0.9 0.7-0.4-1.4-1.4-5-3-1.4 0.6-2.9-0.8-3.1 3.2 0.6 1.4 1 1.4 3.7 2.8 0.7 1.5 0.9-1.5M860.7 669l-0.7 0 0.7 0M870.9 673.3l0-1.4-3.5-3-2.9-1.2-1.4 0.5-0.7 0.8 1.1 1.5 3.9 2.8 1.4 0.4 2.1-0.4M997.4 707.6l-1.4-0.6-2.9-5.2 2.1-1.4 0.2-1.5-1.4-2.8 0.5-0.5 2.9-0.1 0.8-0.8-1.1-1.5-2.1-1.4-1.5 0-0.7 1.4 0.8 1.5-0.5 0.5-2.9-0.6-1.4-1.2-0.8-1.6-0.6-6.8-1.4-1.9-1.5-0.4-1.4 1-0.5 1 1.3 4.3-0.8 0.7-2.9 0.1-4.2-2.7-1.5 2.1-2.8-0.2-3.6-1.5-1.1-1.4 1.8-0.6 0.4-0.8-1.1-4.3 0.7-0.7 4.3-1.1 1.4 1.5 1.5 0.6 2.8-0.1 1.4-2.5 2.9-1.1 3 0.6 0.5-1.5-1.2-2.8 0.3-1.4 1.7-0.4 1 1.8 1.7 1.4 3 1.2 1.9 1.7 3.1 7.1 0.7 2.8 2.9 2.3 1.5 3.4-3.2 2.9 0.5 1.4 4 4 1.5 0.7 1-0.4-0.6-4.3 1-0.7 2.8-0.1 0.8-0.6-0.3-2.9 1-0.8 2.8 1.3 1.8 2.4-0.4 1.4-2.4 1.4-0.8 2.9-3.9 0.8-1.4 2.1-2.9-1.4-4.3 0.6-1.4 0.7-1.4 3M844.1 676.1l-1.5 0 0.5 1.3 1-1.3M904.5 680.5l-1.7-0.1 0-1.4 0.8 0 1.8 1.4-0.9 0.1M1049.5 689l0.1-1.5-0.8-1-4.2-1.8-1.5-3.6-0.7-0.7-5-2.8 0 2.2 1.4 2.3 4.3 2.8 4.3 4.7 1.4 0.4 0.7-1M1053.1 680.6l-1.4 1.1-0.3 1.6 1.7 1.5M843.1 686.1l-1.4-1.5-2.5 1.5 1.1 1.2 2.8-1.2M1016 688.8l-2.9-2.1-1.4-0.2-1.5 2.4-1.9-2.8 0.5-2.5 6.5 2.5 1.8 1.4-1.1 1.3M1040.3 693.2l0.9-2.8-1.1-1.4-4.1-3.8-1.5-0.9-1.4-0.1-0.3 0.5 1 2.8 2.2 2.9 1.4 2.6 1.4 1.6 1.5-1.4M841.8 733.1l0-1.4 1.3-1.2 2.7-0.2 0.1-1.5-1.4-2.1-5.2-5 1-1.2 5.7 3.1 4.3 3.5 2.8 3.5 1.4 0.9 0.9-1.2 0.6-3.2 2.8 0.1 0.7-1.2-1.3-2.9-0.4-2.8 1.3-1.4 0.6-1.5-0.1-1.4-2.2-2.1-1.1 0.7 0.9 4.3-1.2 0.9-2.6 0.5 1.5 2.8-0.4 2.1-4.2-1.1-1.3-1-1.1-1.4-1.9-5.2-1.5-1.3-2.8 2.4-1.4 0.7-1.5 0-2.2-3.7 0.1-1.4 3.6-1.5 1.1-1.4 0.2-1.4-4.2-5.7-1.4-0.8-2.9-0.7-1.8-1.3 0.4-0.7 2.8-0.9 4.3 1 1.5 0 0.8-0.9-2.8-4.2-0.9-0.8-2.9-0.7-1.3-1.4-0.8-1.4 2.4-1.4-1.7-2-1.4 0-1.7 2-2.6 0.4-1.4 1 0.3 2.8-2.4 2.9-1.6 2.8 2.1 5.7-1.3 1.1-4.3-3.5-1.6 1 1.6 2.9 0.5 2.8 6.3 5.7 0.1 1.4-2.9 2.9 1.7 2.6 2.9 2.8 0.9-2.6 0.2-2.8-0.2-1.5-1.4-2.8 0.5-2 1.4 0.2 0.9 3.2 2.3 2.9 1.3 4.2 1.2 1.6 4.7 2.7 1.4 1.4 1.2 4.3M856.1 711.7l1.2-4.2 1.2-1.4 0.3-1.5-0.3-1.4-4.7-5.7-0.1-1.4 1.1-2.9-6-5.9-2.8 0.9-0.6 0.8 0.5 1.4-0.2 1.4-1.2 0.5-2.8-0.9-1.4-1.6-1.1 0.6 4.2 5.7 5.4 3.9 3.4 8.9 2.3 2.4 1.1 0.4 0.4 0.9 0.1-0.9M1017.4 689.9l-1.1-0.9 1.1-1 1 1-1 0.9M879.2 710.3l1-1.4-1.7-4.3 0.2-2.8-1.3-1.4-2.9-1.9-2.8-2.7-2.9-1.4-1.9 0.3-0.5 1.4 0.3 2.8-0.7 0.5-2.7-1.9-0.7-1.4-0.3-2.9-0.6-0.7-2.9-1.9-1.4 0-0.6 1.2 0.2 1.4 4.6 4.3 1.7 4.3 2.2 1.4 3.3 1 2.9-2.4 1.4 0.4 1.4 1.3 1.4 2.6 0.7 4.2 0.8 1 1.8-1M926.2 701.8l-0.3-2.9-1.4-2.8-1.4-1.1-1.4 0.7-0.3 4.7 0.8 1.4 2.3 1 1.5-0.3 0.2-0.7M1053.1 695.3l-1.3 0.8 0.8 2.8-0.8 1.5 1.3 1.6M830.3 699.2l-1.5-0.3-1.4-1.6 1.4 0.1 1.9 1.5-0.4 0.3M983.1 704.8l-1.4 0.6-0.7-0.8-0.5-4.2-3.1-1.4-0.6-1.5 3.4-0.5 1.5 0.4 1.4 1.4 1.4 0.1 1.5 1.1 0 1.8-1.5 0.3-1.4 2.7M890.6 706.1l0-1.5-1.6-2.8-4.5-3.5-1.4-0.6-1.4 0.3-1.1 0.9-0.8 1.5 0.5 1.4 4.2 2.5 2.9 2.3 1.4 0.5 1.8-1M900.3 699.1l-0.6-0.2 0.6-0.1 0.3 0.1-0.3 0.2M939.5 701.8l-0.6-1.4-1.5-1.5-1.4-0.5-1.5 1.2-2.8-1.1-0.7 0.4 0.3 1.5 1.8 1.7 5.7 0.7 0.7-1M948.8 699.7l-0.4-0.8 0.4-0.3 0.6 0.3-0.6 0.8M901.7 700.8l-0.5-0.4 0.5-0.7 1.1 0.7-1.1 0.4M1049.7 724.6l-0.3-1.5-1-1.4-3-2.8-1.2-2.9-0.1-1.4 1.9-0.2 2.8 2.2 1.4 0.4 1.5-0.2 0.2-0.8-3.4-2.8-1-1.5 0-1.4 1.1-2.8-3.7-2.9 0-2.8-0.4-0.4-1.4-1.4-1.2 0.4 0.5 2.8-2.2 1.8-0.6 2.5 2.5 4.2 0.4 1.5-0.8 0.4-1.5-0.3-7.1-3 4.3 7.1 3.7 4.3 6.3 3.5 1.4-0.1 0.9-0.5M903.1 702.5l-0.6-0.7 0.6-1.2 1.4 1.2-1.4 0.7M926.9 711.7l0.4-1.4-0.6-1.4-5-2.7-1.5-0.2 0 2.9 1.5 3.4 1.4 0.8 1.4-0.1 2.4-1.3M1030.4 707.5l-1.6-1.7-1.6 0.3 1.4 1.4 1.8 0M818.5 708.9l-2.5-1.4-1.1 1.4 1.1 1.1 1.4 0.3 1.1-1.4M1023.1 717l-6.4-3.8-1.1-1.5-0.3-1.4 0.7-2.8 1.4-0.1 1.4 0.7 4.3 6.5 0 2.4M850.4 713.2l-0.2-1.5-1.4-2-1.4-1.1-1.4-0.1-1 1.8-0.1 1.4 1.1 1.9 2.8 0.6 1.6-1M905.2 723.1l-0.2-2.8-2-2.9-0.8-2.8-1.7-2.9-3.1-3.3-1.4-0.5-1.5 0.9-0.4 4.4-1 1.3-1.8 0.1 1.8 1.5 1.4-1 2.9 1.1 3.2 2.7 2.5 3.7 1.4 1.2 0.7-0.7M883 728.8l1.5-2 1.5-0.7 1.6-0.1-1.6-0.1-2.9-1.1-1.4 0.2-7.2-3.9-1-0.8-1.8-3.9-4.3-5.9-1.4-0.7-1.3 0.5 2.1 2.9 0.5 4.2 0.9 1.5 5 4.2 2.8 1.1 1.4 1.1 2.9 4.4 2.7-0.9M889.5 713.2l-3.5-4-2.5 1.1 0.1 1.4 2.4 2.3 2.8 0 0.7-0.8M978.8 718.9l-1.8-1.5-1.7-2.8-2.6-2.9 0.4-1 4.3 1.9 2.9 3.4 0.3 1.4-1.8 1.5M772.1 744.5l-0.9-1.4 1.9-2.9 1.9-1.4 1-2 3.7-3.7 2.6-4.3 0.8-2.2 1.4-0.8 2.9 0.7 0.8-0.5 3.5-6.4 5.5-2.2 0.7-2.8 0.9-1 1.5 0 2.8 0.4 0.5 0.6-0.5 2 1.1 0.8-1.1 3.5-2.6-2-1.7 0.6-2.9 3.6 0.7 2.9-0.6 0.7-1.5 0.5-1.4-0.8-2.7 2.4-1.6 2.2-1.2 3.5-3.1 0.7-0.8 0.8-0.2 1.4 7.7 7.1M920.9 721.7l2-4.3-0.1-1.4-2-1.4-2-0.2-1.4 2.2-1.3 0.8-0.3 1.5 4.4 3.6 0.7-0.8M961.7 722.3l-1.5 0.3-2.8-1.3-1.4-1.2-1.3-2.7 1.3-1.3 2.8 0.5 1.2 0.8 2.3 2.9 0.4 1.4-1 0.6M1026 722.4l-1.5 0.4-1.4-1.8-0.4-2.1 0.4-1.3 1.4 0.8 1.4 1.9 0.1 2.1M966 740.3l-7.2-2-2.8 0.7-0.7-0.2-0.8-1.3 1.3-1.5-2.7-7.2-1.3-7.1-0.1-1.4 1.4-0.9 1.4 0.1 1.5 0.9 1.9 2.7 2.3 4.8 2.9 1.9 2.9 0.4 3.5 2.9-0.7 1.3-1.4 0.6-0.6 1-0.1 2.8-0.7 1.5M996 723.1l0-1.4-1.5-0.9-1.3 0.9 1.3 1.1 1.5 0.3M842.3 744.5l-0.6-2.8-2.6-4.3 0-1.4-1.3-2.9-4.7-5.3-4.3-2.9-1.4 0-0.4 1.1-2.6 2.8 0 4.3 5.8 4.3 0.7 1.4 0.4 4.3 1 1.4M898.3 744.5l1.2-2.8-0.2-2.9 2.3-2.8 0-1.5-0.8-2.8-4.8-6-1.5 0.2-1.8 1.5-0.7 1.4 0.8 2.9-0.9 1.4-2.4 1.4 0.5 2.9 3.7 7.1M1006.9 734.5l0.2-2.8 1.2-1.4-0.2-1.5-2.1-2.1-4.3-1.1-0.8 0.4 0 2.8-3.5 1.5 0.5 1.4 0.9 0.7 4.3 1 2.9 2.2 0.9-1.1M1053.1 729.2l-2.3 2.5-0.6 5.1-4-2.3-3.1-5.5-1.4-1-0.6 0.8 1.7 2.9 0 1.4-1.1 0.6-4.3-1.9-2.9-3.7-1.4 0.3-0.5 1.9 0.5 1.4 6 4.3-1.7 0.9-1.2 1.9 1.2 1.6 2.8 1.5 1.4-1.7 0.3-1.4 4.1-2.4 2.8 2.6 2.3-1.6 2 0.1M884.6 744.5l-2.2-2.8-1.3-2.9-0.4-2.8 1-1.5-0.2-1.4-1.2-2.3-7.2-1.3-2.8 1.6-1.5-0.7-1.3 1.3 0.5 7.1-0.6 0.3-1.4-0.3-2.9-1.6-0.6 1.6-0.1 2.9-2.1 1.5-1.5-0.5-4.3-4.2-4.2-2.1-3.1 3.8 0.6 4.3M931.7 739.3l-1.5 0.6-4.2-0.4-1.5-0.7-1.4-1.4-0.9-1.4 0.1-1.5 1.1-1.4 0.2-2.8 0.9-0.6 1.5 0.2 5.4 7.5 0.7 1.4-0.4 0.5M917.1 744.5l-3.7-4.3-1.2-5.7-0.9-1.4-2.5-2-1.8 0.6 0 1.4 0.5 4.3 2.6 2.8 0.3 1.5-1.1 1.4-0.4 1.4M991.5 744.5l-4.1-2.4-4.3-0.8-2.9-1.2-1.8 1.6-1.9 0-2-1.1-1.4-1.7-0.6-1.5 0.6-0.8 1.4 0.3 1.5-0.9-0.2-2.9 0.6-1.4 1-0.5 4.3-0.2 2.1 2.1 0.6 2.9 1.6 1.7 1.4-0.1 2.8-1.3 1.5 1.1 2.1 4.3 0.3 1.4-0.5 1.4M948.8 737.7l-3.4-1.7-0.7-1.5 0.6-1.4 0.7-0.3 1.4 0.3 1.8 1.4 1.1 1.5-0.3 1.4-1.2 0.3M822.6 744.5l0.4-2.8-0.5-1.5-0.8-1.6-2.9-3.2-1.4-0.6 0 4-1.4 0-4.3-4.2-1.4-0.2 1 3 2 2.8 1.8 4.3M970.2 734.8l-1.1-0.3 1.1-0.4 0.5 0.4-0.5 0.3M1030.6 737.4l-1.8-2-0.5 0.6 0.5 1.4 1.4 0.8 0.4-0.8M807.8 744.5l-4.7-5.1-1.4-0.8-1 1.6 2.5 4.3M935 744.5l-0.3-1.4 4.1-0.8 1.4-0.7 2.9 0.4 2.9-0.8 2.8 1 2.9 0.2 2.8-2.6 3.6 4.7M1030.9 744.5l-1.1-1.4-3.8-2.6-5.8-1.1-0.2 0.8 0.4 1.5-0.5 1.4-1.1 0.7-3.4 0.7M780.5 744.5l-1-1.4 0-1.4-0.7-0.4-1.2 1.8 1 1.4M997.3 744.5l1-1.4 1.9-0.6 2.9 1.1 0.9 0.9M1014.2 744.5l-2.5-1.5-0.3 1.5M770.1 744.5l0.6 0M775.2 744.5l-1.5 0M811.5 744.5l-1.2-0.5-0.6 0.5M866.3 744.5l1.1-0.5 2.4 0.5M1040 744.5l-2.6-0.6-1.3 0.6M1052.6 744.5l-2.4-1.1-1.5 1.1" stroke="#55c1bf" stroke-width="1.1" fill="none" stroke-linejoin="round"/>
<path d="M917.4 608.1l-2.9-0.5-4-2.7 0.2-1.4 2.4-2.3 1.4-0.8 5.3 4.5-0.1 1.5-1.3 1.4-1 0.3M911.7 614.3l-3.8-3.7 0.9-0.7 1.7 0.7 2.4 2.9-1.2 0.8M903.1 617.8l-1.7-1.5-0.4-1.4 0.7-1.4 1.4 0.6 1.5 2.2-1.5 1.5M918.8 625.6l-1.4-0.7-4.8-5.7 0.4-2.9-0.6-1.4 0.7-1.1 1.6 1.1 0.6 1.4-0.4 1.5 0.6 1.4 3.5 4.3 0.4 1.4-0.6 0.7M914.5 630.3l-0.4-1.1 0.4-0.9 0.5 0.9-0.5 1.1M883.1 636.6l-0.6-0.3 0.6-0.6 0.3 0.6-0.3 0.3M908.8 638.2l-1.4 0.3-1.4-1.7 0-0.9 1.9 0.4 1.3 1.4-0.4 0.5M903.1 643.9l-1.4-0.2-2.7-1.7-1-2.9 0.7-1.4 1.6 1.1 2.6 3.2 0.6 1.4-0.4 0.5M906 734.8l-1.5 1.1-1.4-1.2-0.9-3-4.8-5.9-2.9-2.7-1.2 2.9-1.6 0.6-1.4-0.4-2.9-2-7.1-1.2-1.5-0.9-1.8-1.8 0.4-3.2-0.8 0.3 0.5 1.5-1.1 0.1-1.5-1.2-4.2-4.9-3.7-5.4 0.8-1.2 4.3-0.7 1.4-0.8 1.4 1.7-0.1 3.8 0.6 1.4 1 1.4 1.4 0.8 4.3-1.7 4.3 2.8 4.3 0.3 2.8 1.6 2.9-0.7 1.4 0.5 2.3 2.2 4.8 5.9 1.5 1 1.4 0.2-1.1-2.9-0.3-4.2-1.3-1.5-2.2-4.2-5.1-5.8-1.4-0.7-2.9 0.6-1.4-2-1-3.5-5.3-4.3-0.3-1.4 0.2-1.4 0.7-0.6 1.4 0.6 7.1 4 0.1 3.1 0.9 1.4 4.8 2.9 4.1 4.2 3 0.7 2-0.7-0.2-1.4-2.2-2.8 1.5-2.9 0.3-2.1 1.4-1 2.9 0.8 0.7-0.5 0.2-4.3-0.9-2.9 1.4-0.9 1.5 0.5 2.2 3.3 1 2.8-2.8 2.9 1 1.8 1.4 5.3 0.2 2.8-2.8 4.3-2.4 1.4 0.7 3.3-2.5 2.4-0.6 1.5 0.5 1.4 1.2 1.3 3.3 1.5-0.4 1.2-1.5 0.2-2.8 1.6-2.9-1.8-1.4-0.3-1.3 0.6-0.7 1.4 0.6 3.1M884.5 707.6l-1.4 1-1.4-0.1-1.7-2.4 0-1.5 1.7-0.2 2.8 1.5 0.4 1.6-0.4 0.1M891.7 713.3l-2.4-1.6-1.6-2.8 4-1.2 1.2 1.2 0.7 2.8-0.5 0.9-1.4 0.7M864.5 716.5l-3.2-3.3 0.4-0.4 1.4-0.1 1.4 0.6 0.7 1.3-0.7 1.9M871.7 726.8l-1.4 0.2-1.5-0.5-2.8-1.5-2-1.9-1.1-2.8 1.6-2.2 1.5 0.4 3.5 3.2 2.8 4.3-0.6 0.8M924.5 723.3l-0.4-1.6 0.4-0.6 1.2 0.6 0.1 1.4-1.3 0.2M877.4 729.5l-2.2-0.7-1.9-1.4 0.2-1.4 1-0.6 1.5 0.1 1.4 1.1 1 2.2-1 0.7M887.1 744.5l-4.3-5.7-0.4-1.4 1.7-2.9-1.7-2.8 0.7-1.4 2.9-2.2 1.4 0 2.4 0.7 1.3 1.5-0.2 1.4-3 1.4-0.4 1.4 2.3 4.3 1.8 5.7M863.1 731.4l-0.4-1.1 0.4-0.5 0.6 0.5-0.6 1.1M864.5 731.9l-0.9-0.2 0.9-0.3 0 0.5M917.4 741.3l-1.4-0.4-1.5-1.5-0.4-2 0.4-1.5 1.5 1.1 2 3.2-0.6 1.1M900.9 744.5l1.8-5.7 0.4-0.7 1.4-0.6 1.9 2.7 0.5 4.3" stroke="#e9b94e" stroke-width="1.1" fill="none" stroke-linejoin="round"/>
<path d="M915.9 612.1l-0.7-1.5-5-4.3-1.4-0.6-0.6 0.7-0.5 1.4 2.5 0.9 4.3 3.9 1.4-0.5M895.5 643.4l-0.2-2.9-2.4-4.2-0.1-1.4 6 0.5 4.3 2.3 0.3-1.4-0.4-2.9-5-4.2-0.8-1.5 0.2-0.4 1.4-0.4 1.5 0.7 1.4 1.6 1.4 2.7 1.4 0.8 5.7 1.4 1-0.7-2.1-4.2 1.4-2.9 0-1.4 1.2-1.2 1.4-0.2-3.4-4.3-0.1-1.4 0.8-1.5-0.3-1.4-4.1-5-1.5-0.2-1.6 2.4 3.3 4.2 0.3 1.5-1.2 1.4-2.2 0.1-4.3-3.7-4 3.6 0 1.4-6.9 7.1 2.4 2.9 0.5 2.8-0.5 0.3-5.8-2-1.4-0.1-0.5 0.4 6.3 7.1-0.4 1.4 0.6 1.5 2.6 1.7 2.8 0.2 1-0.5M884.8 643.4l-0.3-0.4-0.7 0.4 0.7 0.4 0.3-0.4M901 686.1l-0.1-1.4-0.6-0.7-1.5-0.4-1 1.1 1 1.9 1.5 0.1 0.7-0.6M893.5 690.4l0.2-1.4-1.1-1.5-0.9-0.8-1.2 0.8 1.2 2.1 1.8 0.8M906.2 700.4l-0.6-2.9 0.4-1.8 2.8 0.8 1.2-0.4 0.2-1.4-1.4-2.2-1.4-1.2-1.4 1.2-1.5 0.1-4.2-1.7-2.9-0.6-1.4 0.2-1.3 1.3 0.2 1.4 1.1 1.5 8.5 5.2 1.5 0.8 0.2-0.3M889.5 704.6l-0.7-1.7-4.3-3.1-1.4-0.2-0.5 0.8 0.7 1.4 4.1 3.4 1.4 0.5 0.7-1.1M903.3 706.1l-0.1-1.5-1.5-2.4-1.4-1.3-1.5-0.4-0.7 1.3 0.9 1.4 4.3 2.9M900.5 717.4l1.1-1.4-1-2.8-2.2-2.9-2.4-1.4-0.8 4.3 0.8 1.4 4.5 2.8M887.5 713.2l0-1.5-1.5-0.8-0.8 0.8 0.8 1.2 1.5 0.3M870.3 717.4l-0.3 0 0.3 0.4 0-0.4M899.7 734.5l0.6-1.4-1.4-2.8-2.9-3.2-1.5 0.4-1.1 1.3 0.1 1.5 1 1.7 4.3 2.7 0.9-0.2M878.9 737.4l-0.4-1.4 0.9-2.9-2.2-1.4-2.7-0.3 0.3 1.7 2.4 4.3 1.6 0.6 0.1-0.6M911.5 737.4l0-1.4-1.2-2.9-1.5-0.6-0.4 0.6 0.4 3.4 1.4 1.6 1.3-0.7M872.8 737.4l-1.1-1.5-1.4-0.3 0.3 1.8 1.1 0.8 1.1-0.8M897.4 741.7l0.3-1.5-1.2-1.4-4.8-3.2-0.6 1.8 0.3 1.4 1.7 2.6 1.4 1.2 1.5 0 1.4-0.9" stroke="#1079da" stroke-width="1.1" fill="none" stroke-linejoin="round"/>
<path d="M917.4 606.4l-1.4 0.6-2.9-0.7-1.9-1.4-0.2-1.4 2.1-2 1.4 0.1 2.9 3.3 0 1.5M908.8 610.9l0-0.4 0.5 0.1-0.5 0.3M910.2 612.4l-0.4-0.3 0.4-0.7 0.7 0.7-0.7 0.3M903.1 616.7l-0.6-0.4-0.3-1.4 1 0 0.3 1.4-0.4 0.4M900.3 641.3l-0.4-0.8 0.4-0.2 0 1M901.7 642.1l-0.6-0.1 0.6 0.1M888.8 698.8l-2-1.3-0.3-1.4 0.9-0.5 2.3 1.9-0.9 1.3M911.7 730.3l-2.7-1.5 0.1-1.4-2-4.3 0.2-2.8-1.3-3-3.8-5.6-5.4-5.6 0.6-0.4 1.5 0.4 4.2 4.2 1.4 0.8 4.3 0.8 1.4-0.3 0.9-1.3-1.8-2.8-0.3-1.4 0.3-2.9 0.9-1.9 1.5 0.3 3.9 3 2.2 4.3-1.3 5.7-0.5 0.7-3.1 0.7-0.3 4.3-1.7 2.8-0.2 1.5 0.1 1.4 1.6 2.8-0.7 1.5M894.5 705.1l-1.4 0.6-0.4-1.1 0.4-0.8 1.8 0.8-0.4 0.5M881.7 707l-0.5-0.9 0.5-0.5 0.8 0.5-0.8 0.9M874.5 713.9l-1.4 0.5-1.4-0.9-1.5-1.8-1.2-2.8-0.2-1.4 1.5-0.4 2.1 0.4 2.3 5.7-0.2 0.7M891.7 712.5l-1.4-0.4-1.4-1.8 1.4-1.4 1.4 0.2 1 1.2 0.1 1.4-1.1 0.8M903.1 730.9l-2.8-2-4.3-5.3-2.9-2.1-0.8 0.2 0.5 2.9-1.1 1.1-1.4-0.5-1.5-1.3-8.2-2.2-1.2-1.4-0.1-2.9-0.5-1.5 2.9-1.7 4.3 1.5 2.8-0.1 4.3 1.8 2.9-0.7 1.4 0.4 7.1 8.5 2.1 1.8 0.2 1.4-3.7 2.1M868.8 724.9l-1.4-0.2-1.8-1.6-0.6-1.4 0.8-1.4 2.4 1.4 0.9 1.4-0.3 1.8M876 728.4l-1-1 1-0.9 1.4 0.9-1.4 1M877.4 728.8l0-0.6 0 0.6M888.8 731.8l-2.8 0.6-1.9-0.7 1.9-2.3 1.4-0.3 2.4 1.2-1 1.5M888.8 741.3l-3.4-2.5-0.5-1.4 2.5-1 1.6 2.4 0.3 1.4-0.5 1.1M913.1 605.5l-1.4-1-0.3-1 1.7-1.5 1.1 1.5 0.3 1.4-1.4 0.6M914.5 714.8l-1.4-0.5-1.2-1.1 1.6-2.9-2.6-2.8-0.7-4.7 1.5-0.2 1.4 0.9 3.2 4 0.3 1.4-0.6 1.1-0.8 0.3-0.5 1.4 0.8 1.5-0.3 1.4-0.7 0.2M871.7 711.2l-0.4-0.9 0.4-0.4 0 1.3M890.3 710.5l0.5-0.2-0.5 0.2M908.8 724.1l-0.9-5.2-3.4-5.8 1.5-0.4 2.8 0.6 1.4 0.8 1.2 1.9 0.4 1.4-0.2 1.5-2.8 5.2M903.1 729l-1.4 0.1-1.4-0.9-4-5.1-3.2-2.5-5.7-1.7 0 2.9-1.4 0.7-1.5-0.2-3.4-2-0.1-2.9 2.1-1.6 4.3 1.4 1.4-0.7 1.5 0.3 2.8 1.6 2.9-1.1 1.4 0.4 7.6 9.7-1.9 1.6M914.5 708.8l-2.1-1.3-1.2-2.9 0.5-0.7 1.4 0.7 1.4 1.7 0.6 1.2-0.6 1.3M910.2 718.9l-1.4-0.6-1-2.3 1-1 1.4 1.6 0 2.3M886 721.4l-1.5 0.1-2-1.2-0.3-1.4 0.9-1.4 1.4-0.2 1.5 1.4 0.3 1.6-0.3 1.1M903.1 727.7l-1.4 0.5-1.4-0.7-2.9-3.9-3.1-3.3 0.1-1.4 1.6-0.8 1.8 0.8 5.7 7.1-0.4 1.7M884.5 720.4l0-1.1 0 1.1M901.7 727.3l-1.4-0.7-4.8-6.3 0.5-1.1 1.4 0.3 4.6 5.1 0.7 1.4-1 1.3M900.3 725.4l-0.6-0.8 0.6-1.1 0.8 1.1-0.8 0.8" stroke="#f2e41c" stroke-width="1.1" fill="none" stroke-linejoin="round"/>
<path d="M910.3 607.8l-0.8-1.4-0.9 0 0.2 1.2 1.5 0.2M909.1 616.3l0.4-1.4-1-1.4-2.6-2.9-1.4-0.6-0.6 0.6-0.3 1.5 3.4 4.2 0.4 1.1 1.4-0.4 0.3-0.7M902.5 634.9l-0.3-1.5-4.6-4.2-0.7-1.5 0.5-1.4 1.4 0.1 1.5 0.9 4.2 4.5 2.9 0.8 1.3-0.6-1.3-4.3 2.3-2.8 0.3-2.9-1.2-2.3-1.4-1.6-0.7 1.1-3.6 0.7-1.4-0.8-2.9-3-1.4 0.6-2.5 2.5 0.1 1.4-6.8 7.1 4.9 6 5.7 1.1 2.9 1.2 0.8-1.1M893.6 640.5l-0.5-1.9-4-3.7-1.7-0.9-1.2 0.9 3.6 2.8 1.9 2.9 1.4 0.7 0.5-0.8M903.9 697.5l-0.4-2.8-1.7-1.5-3-0.9-1 0.9 0.8 1.5 1.8 1.4 2.7 1.7 0.8-0.3M901.4 703.2l-1.1-1.3-1.5-0.1 1.5 1.8 1.1-0.4M887.8 703.2l-0.4-0.3-0.8 0.3 0.8 0.6 0.4-0.6M900.7 716l0-1.4-1.7-2.9-1.6-1.6-0.5 0.2-1.1 2.9 0.8 1.4 2.2 1.6 1.5 0.3 0.4-0.5M899.2 733.1l0-1.4-1.8-2.5-1.4-1.2-1.5 0.4-0.3 1.9 1 1.4 2.2 1.5 1.4 0.3 0.4-0.4M896 740.2l-1.1-1.4-1.8-1.2-0.8 1.2 0.8 1.6 1.4 0.7 1.5-0.9M908.3 614.9l-0.5-1.4-3.3-3.2-0.1 1.8 3 3.1 0.9-0.3M901 633.4l-3.9-4.2-0.7-1.5 0.1-1.4 0.9-0.7 1.4 0.3 2.5 1.8 3.2 3.4 1.5 0.4 1.2-0.9-1.1-4.3 2.6-1.4-0.2-2.9-1.1-1.7-4.3 0.4-1.4-0.8-2.9-3.1-1.4 0.2-2.3 2.2 0.1 1.4-5.9 5.7-0.7 1.4 4.5 5 1.4 0.7 5.8 1 0.7-1M899.8 714.6l-1-1.9-1.4-0.5-0.5 1 0.4 1.4 1.5 0.7 1-0.7M897.8 731.7l-0.4-1.4-1.4-1-0.5 1 0.5 0.7 1.4 0.9 0.4-0.2M899 633.4l0-1.4-3-4.3 0-1.8 1.4-0.9 1.4 0.5 5.7 4.6 1.5-0.5 0.1-0.4-0.9-2.9 0.8-1.4 1.4-0.6 0.5-0.8-0.5-1.5-1.4-0.8-2.9 0.3-1.4-0.8-2.9-3.2-1.4-0.3-2.1 2 0.1 1.4-5.9 5.7-0.5 1.4 5.5 5 4.5 0.7M897.9 632l-2.4-4.3-0.2-1.4 0.7-1.9 1.4-0.2 5.7 3.9 1.4 0.4 0-4.8 1.6-1.7-1.6 1.3-1.4-0.7-1.4-1.1-3.3-3.7-1-0.4-1.9 1.8 0.2 1.4-1.2 1.4-4.8 4.3-0.1 1.4 4.9 4.4 1.5 0.4 1.9-0.5M903.4 626.3l0.1-1.4-0.7-1.4-5.4-5.9-1.7 1.6 0.7 2.8 1.1 1.5 4.2 2.8 1.4 0.5 0.3-0.5M896.3 630.6l-1.3-2.9 0-4.2-0.5-0.4-1.4 0.1-3.3 3.1 0.3 1.4 4.4 3.6 1.5 0.2 0.3-0.9" stroke="#4636aa" stroke-width="1.1" fill="none" stroke-linejoin="round"/>
<path d="M794.4 459.7v2.9M794.4 744.5v-2.9M767.4 717.6h2.9M1053.1 717.6h-2.9M837.5 459.7v2.9M837.5 744.5v-2.9M767.4 674.6h2.9M1053.1 674.6h-2.9M880.6 459.7v2.9M880.6 744.5v-2.9M767.4 631.6h2.9M1053.1 631.6h-2.9M909.4 459.7v2.9M909.4 744.5v-2.9M767.4 603.0h2.9M1053.1 603.0h-2.9M938.1 459.7v2.9M938.1 744.5v-2.9M767.4 574.3h2.9M1053.1 574.3h-2.9M981.2 459.7v2.9M981.2 744.5v-2.9M767.4 531.3h2.9M1053.1 531.3h-2.9" stroke="#262626" stroke-width="1" fill="none"/>
<rect x="767.4" y="459.7" width="285.7" height="284.8" fill="none" stroke="#999" stroke-width="1.6"/>
<text x="760.7" y="722.6" font-size="14" text-anchor="end" fill="#262626">0.02</text>
<text x="794.4" y="765.3" font-size="14" text-anchor="middle" fill="#262626">0.02</text>
<text x="760.7" y="679.6" font-size="14" text-anchor="end" fill="#262626">0.05</text>
<text x="837.5" y="765.3" font-size="14" text-anchor="middle" fill="#262626">0.05</text>
<text x="760.7" y="636.6" font-size="14" text-anchor="end" fill="#262626">0.08</text>
<text x="880.6" y="765.3" font-size="14" text-anchor="middle" fill="#262626">0.08</text>
<text x="760.7" y="608.0" font-size="14" text-anchor="end" fill="#262626">0.1</text>
<text x="909.4" y="765.3" font-size="14" text-anchor="middle" fill="#262626">0.1</text>
<text x="760.7" y="579.3" font-size="14" text-anchor="end" fill="#262626">0.12</text>
<text x="938.1" y="765.3" font-size="14" text-anchor="middle" fill="#262626">0.12</text>
<text x="760.7" y="536.3" font-size="14" text-anchor="end" fill="#262626">0.15</text>
<text x="981.2" y="765.3" font-size="14" text-anchor="middle" fill="#262626">0.15</text>
<text x="760.7" y="464.7" font-size="14" text-anchor="end" fill="#262626">0.2</text>
<text x="1053.1" y="765.3" font-size="14" text-anchor="middle" fill="#262626">0.2</text>
<text x="910.2" y="784.8" font-size="15.4" text-anchor="middle" fill="#262626">frequency (Hz)</text>
<text transform="translate(726.1 602.1) rotate(-90)" font-size="15.4" text-anchor="middle" fill="#262626">frequency (Hz)</text>
<rect x="816.1" y="484.6" width="22.7" height="130.6" fill="url(#parula)" stroke="#555" stroke-width="1"/>
<path d="M816.1 615.2h2M816.1 582.6h2M816.1 549.9h2M816.1 517.2h2M816.1 484.6h2" stroke="#262626" stroke-width="1"/>
<text x="809.8" y="619.5" font-size="12.3" text-anchor="end" fill="#262626">-1</text>
<text x="809.8" y="586.9" font-size="12.3" text-anchor="end" fill="#262626">-0.5</text>
<text x="809.8" y="554.2" font-size="12.3" text-anchor="end" fill="#262626">0</text>
<text x="809.8" y="521.5" font-size="12.3" text-anchor="end" fill="#262626">0.5</text>
<text x="809.8" y="488.9" font-size="12.3" text-anchor="end" fill="#262626">1</text>
<text x="817.4" y="481.2" font-size="11.5" fill="#262626">×</text>
<text x="827.3" y="481.6" font-size="12.8" fill="#262626">10<tspan font-size="10" dy="-5.6">-5</tspan></text>
<text x="1133.5" y="24.2" font-size="30" font-weight="bold" fill="#000">D</text>
<text x="1265.2" y="56.7" font-size="15.7" text-anchor="middle" fill="#262626">N3, d=6 @ 2013/04/07 03:00</text>
<path d="M1122.4 330.6H1408.1M1122.4 320.5H1408.1M1122.4 313.3H1408.1M1122.4 307.8H1408.1M1122.4 303.2H1408.1M1122.4 299.4H1408.1M1122.4 296.1H1408.1M1122.4 293.2H1408.1M1122.4 273.3H1408.1M1122.4 263.2H1408.1M1122.4 256.1H1408.1M1122.4 250.5H1408.1M1122.4 246.0H1408.1M1122.4 242.1H1408.1M1122.4 238.8H1408.1M1122.4 235.9H1408.1M1122.4 216.0H1408.1M1122.4 206.0H1408.1M1122.4 198.8H1408.1M1122.4 193.3H1408.1M1122.4 188.7H1408.1M1122.4 184.9H1408.1M1122.4 181.6H1408.1M1122.4 178.6H1408.1M1122.4 158.8H1408.1M1122.4 148.7H1408.1M1122.4 141.5H1408.1M1122.4 136.0H1408.1M1122.4 131.5H1408.1M1122.4 127.6H1408.1M1122.4 124.3H1408.1M1122.4 121.4H1408.1M1122.4 101.5H1408.1M1122.4 91.4H1408.1M1122.4 84.3H1408.1M1122.4 78.7H1408.1M1122.4 74.2H1408.1M1122.4 70.4H1408.1M1122.4 67.0H1408.1M1122.4 64.1H1408.1" stroke="#e8e8e8" stroke-width="1" stroke-dasharray="2 1.5" fill="none"/>
<path d="M1122.4 290.5H1408.1M1122.4 233.3H1408.1M1122.4 176.0H1408.1M1122.4 118.8H1408.1M1149.4 61.5V347.8M1192.5 61.5V347.8M1235.6 61.5V347.8M1264.4 61.5V347.8M1293.1 61.5V347.8M1336.2 61.5V347.8" stroke="#e6e6e6" stroke-width="1" fill="none"/>
<rect x="1141.6" y="301.9" width="183" height="33.3" fill="#fff"/>
<path d="M1122.3 223.0C1122.4 220.7 1123.2 202.0 1123.5 199.6C1123.8 197.2 1124.8 200.0 1125.1 198.9C1125.4 197.8 1126.0 188.5 1126.3 188.2C1126.5 187.9 1127.3 195.0 1127.6 195.8C1127.9 196.6 1128.7 197.0 1128.9 195.8C1129.2 194.6 1129.8 185.2 1130.1 183.7C1130.4 182.2 1131.4 183.7 1131.7 181.2C1132.0 178.7 1133.0 160.6 1133.3 158.4C1133.6 156.2 1134.0 157.1 1134.3 159.0C1134.6 160.9 1136.1 175.4 1136.5 177.4C1136.9 179.4 1138.0 177.3 1138.4 179.3C1138.8 181.3 1139.9 196.4 1140.3 197.0C1140.7 197.6 1141.8 187.8 1142.2 185.6C1142.6 183.4 1143.9 176.5 1144.3 175.5C1144.7 174.5 1145.7 177.6 1146.0 175.5C1146.3 173.4 1147.3 156.7 1147.6 154.6C1147.8 152.5 1148.3 153.5 1148.5 154.6C1148.7 155.7 1149.2 164.6 1149.4 165.3C1149.6 166.0 1150.0 161.6 1150.4 161.5C1150.8 161.4 1152.4 161.4 1153.0 164.1C1153.6 166.8 1156.1 183.7 1156.8 188.2C1157.5 192.7 1159.1 211.1 1159.9 209.1C1160.7 207.1 1163.8 172.4 1164.4 168.5C1165.0 164.6 1165.6 168.2 1166.3 170.4C1167.0 172.6 1170.5 190.1 1171.3 190.7C1172.1 191.3 1173.9 177.8 1174.5 176.8C1175.1 175.8 1176.9 180.7 1177.7 180.6C1178.5 180.5 1181.3 174.4 1182.1 175.5C1182.9 176.6 1185.2 190.6 1185.9 192.0C1186.6 193.4 1188.5 190.3 1189.1 189.4C1189.7 188.5 1191.4 182.6 1192.2 182.5C1193.0 182.4 1196.5 187.9 1197.3 188.2C1198.1 188.4 1199.2 184.4 1199.8 185.0C1200.4 185.6 1202.9 195.6 1203.7 194.5C1204.5 193.4 1206.9 176.0 1207.5 173.6C1208.1 171.2 1208.8 171.1 1209.4 170.4C1210.0 169.7 1212.5 166.2 1213.2 166.6C1213.9 167.0 1215.8 174.5 1216.3 174.2C1216.8 173.9 1218.1 166.4 1218.5 163.7C1218.9 161.0 1220.1 148.6 1220.6 146.9C1221.1 145.2 1222.9 147.9 1223.4 146.7C1223.9 145.5 1225.4 136.9 1225.9 135.1C1226.4 133.3 1227.8 130.0 1228.2 128.8C1228.6 127.6 1229.6 123.6 1230.1 123.2C1230.6 122.8 1232.2 125.5 1232.9 125.3C1233.6 125.1 1235.9 123.4 1236.6 121.1C1237.3 118.8 1239.2 104.4 1239.8 102.3C1240.4 100.2 1242.4 100.3 1242.9 100.2C1243.4 100.1 1244.5 100.5 1245.0 101.6C1245.5 102.6 1247.3 109.5 1247.8 110.7C1248.3 111.9 1249.6 113.8 1250.1 113.5C1250.6 113.2 1252.0 108.2 1252.7 107.2C1253.4 106.2 1255.9 102.7 1256.8 103.7C1257.7 104.7 1260.9 115.3 1261.7 117.0C1262.5 118.7 1263.9 119.9 1264.5 120.4C1265.1 120.9 1266.7 121.4 1267.3 121.8C1267.9 122.2 1270.0 123.5 1270.8 124.6C1271.6 125.6 1274.2 131.9 1275.0 132.3C1275.8 132.7 1278.5 129.0 1279.2 128.8C1279.9 128.6 1281.3 130.3 1282.0 130.5C1282.7 130.7 1285.4 130.6 1286.1 130.5C1286.8 130.4 1288.3 129.2 1288.9 129.5C1289.5 129.8 1291.6 132.6 1292.4 133.7C1293.2 134.8 1296.3 139.6 1297.3 140.7C1298.3 141.8 1301.1 144.1 1302.2 144.9C1303.3 145.7 1307.5 147.0 1308.4 148.3C1309.3 149.7 1310.7 157.0 1311.3 158.4C1311.9 159.8 1313.4 162.3 1314.0 161.9C1314.6 161.5 1316.4 155.3 1317.1 153.9C1317.8 152.5 1320.7 148.4 1321.4 148.2C1322.1 148.0 1323.5 151.0 1324.2 151.7C1324.9 152.4 1327.4 155.3 1328.2 155.3C1329.0 155.3 1331.5 151.5 1332.2 151.3C1333.0 151.1 1335.1 152.9 1335.7 153.0C1336.3 153.1 1337.8 151.9 1338.4 152.1C1339.0 152.3 1341.2 154.1 1341.9 154.8C1342.6 155.5 1344.8 158.9 1345.3 158.8C1345.8 158.7 1346.7 154.7 1347.3 153.9C1347.9 153.1 1350.5 150.3 1351.3 150.4C1352.0 150.5 1354.1 154.9 1354.8 154.8C1355.5 154.8 1357.2 151.6 1357.9 149.9C1358.6 148.2 1360.8 138.8 1361.5 138.0C1362.2 137.2 1364.0 140.3 1364.6 141.9C1365.2 143.5 1367.1 154.0 1367.7 154.4C1368.3 154.8 1369.8 146.9 1370.3 145.5C1370.8 144.1 1372.5 141.7 1373.0 140.6C1373.5 139.5 1374.2 135.2 1374.8 134.4C1375.4 133.6 1378.0 132.1 1378.8 132.6C1379.5 133.1 1381.5 138.4 1382.3 139.3C1383.0 140.2 1385.5 141.4 1386.3 141.5C1387.1 141.6 1389.7 140.2 1390.3 140.6C1390.9 140.9 1392.0 144.4 1392.5 145.0C1393.0 145.6 1394.5 145.7 1395.2 146.4C1395.9 147.1 1398.8 150.6 1399.6 151.7C1400.3 152.8 1402.1 157.3 1402.7 157.5C1403.3 157.7 1405.2 154.7 1405.8 153.9C1406.4 153.1 1408.2 150.3 1408.5 149.9" stroke="#0f72bd" stroke-width="2.4" fill="none" stroke-linejoin="round" stroke-linecap="round"/>
<path d="M1122.4 290.5h2.9M1408.1 290.5h-2.9M1122.4 233.3h2.9M1408.1 233.3h-2.9M1122.4 176.0h2.9M1408.1 176.0h-2.9M1122.4 118.8h2.9M1408.1 118.8h-2.9M1122.4 330.6h1.6M1408.1 330.6h-1.6M1122.4 320.5h1.6M1408.1 320.5h-1.6M1122.4 313.3h1.6M1408.1 313.3h-1.6M1122.4 307.8h1.6M1408.1 307.8h-1.6M1122.4 303.2h1.6M1408.1 303.2h-1.6M1122.4 299.4h1.6M1408.1 299.4h-1.6M1122.4 296.1h1.6M1408.1 296.1h-1.6M1122.4 293.2h1.6M1408.1 293.2h-1.6M1122.4 273.3h1.6M1408.1 273.3h-1.6M1122.4 263.2h1.6M1408.1 263.2h-1.6M1122.4 256.1h1.6M1408.1 256.1h-1.6M1122.4 250.5h1.6M1408.1 250.5h-1.6M1122.4 246.0h1.6M1408.1 246.0h-1.6M1122.4 242.1h1.6M1408.1 242.1h-1.6M1122.4 238.8h1.6M1408.1 238.8h-1.6M1122.4 235.9h1.6M1408.1 235.9h-1.6M1122.4 216.0h1.6M1408.1 216.0h-1.6M1122.4 206.0h1.6M1408.1 206.0h-1.6M1122.4 198.8h1.6M1408.1 198.8h-1.6M1122.4 193.3h1.6M1408.1 193.3h-1.6M1122.4 188.7h1.6M1408.1 188.7h-1.6M1122.4 184.9h1.6M1408.1 184.9h-1.6M1122.4 181.6h1.6M1408.1 181.6h-1.6M1122.4 178.6h1.6M1408.1 178.6h-1.6M1122.4 158.8h1.6M1408.1 158.8h-1.6M1122.4 148.7h1.6M1408.1 148.7h-1.6M1122.4 141.5h1.6M1408.1 141.5h-1.6M1122.4 136.0h1.6M1408.1 136.0h-1.6M1122.4 131.5h1.6M1408.1 131.5h-1.6M1122.4 127.6h1.6M1408.1 127.6h-1.6M1122.4 124.3h1.6M1408.1 124.3h-1.6M1122.4 121.4h1.6M1408.1 121.4h-1.6M1122.4 101.5h1.6M1408.1 101.5h-1.6M1122.4 91.4h1.6M1408.1 91.4h-1.6M1122.4 84.3h1.6M1408.1 84.3h-1.6M1122.4 78.7h1.6M1408.1 78.7h-1.6M1122.4 74.2h1.6M1408.1 74.2h-1.6M1122.4 70.4h1.6M1408.1 70.4h-1.6M1122.4 67.0h1.6M1408.1 67.0h-1.6M1122.4 64.1h1.6M1408.1 64.1h-1.6M1149.4 61.5v2.9M1149.4 347.8v-2.9M1192.5 61.5v2.9M1192.5 347.8v-2.9M1235.6 61.5v2.9M1235.6 347.8v-2.9M1264.4 61.5v2.9M1264.4 347.8v-2.9M1293.1 61.5v2.9M1293.1 347.8v-2.9M1336.2 61.5v2.9M1336.2 347.8v-2.9" stroke="#262626" stroke-width="1" fill="none"/>
<rect x="1122.4" y="61.5" width="285.7" height="286.3" fill="none" stroke="#999" stroke-width="1.6"/>
<text x="1116.1" y="355.2" font-size="14" text-anchor="end" fill="#262626">10<tspan font-size="10.5" dy="-6.8">-3</tspan></text>
<text x="1116.1" y="297.9" font-size="14" text-anchor="end" fill="#262626">10<tspan font-size="10.5" dy="-6.8">-2</tspan></text>
<text x="1116.1" y="240.7" font-size="14" text-anchor="end" fill="#262626">10<tspan font-size="10.5" dy="-6.8">-1</tspan></text>
<text x="1116.1" y="183.4" font-size="14" text-anchor="end" fill="#262626">10<tspan font-size="10.5" dy="-6.8">0</tspan></text>
<text x="1116.1" y="126.2" font-size="14" text-anchor="end" fill="#262626">10<tspan font-size="10.5" dy="-6.8">1</tspan></text>
<text x="1116.1" y="68.9" font-size="14" text-anchor="end" fill="#262626">10<tspan font-size="10.5" dy="-6.8">2</tspan></text>
<text x="1149.4" y="368" font-size="14" text-anchor="middle" fill="#262626">0.02</text>
<text x="1192.5" y="368" font-size="14" text-anchor="middle" fill="#262626">0.05</text>
<text x="1235.6" y="368" font-size="14" text-anchor="middle" fill="#262626">0.08</text>
<text x="1264.4" y="368" font-size="14" text-anchor="middle" fill="#262626">0.1</text>
<text x="1293.1" y="368" font-size="14" text-anchor="middle" fill="#262626">0.12</text>
<text x="1336.2" y="368" font-size="14" text-anchor="middle" fill="#262626">0.15</text>
<text x="1408.1" y="368" font-size="14" text-anchor="middle" fill="#262626">0.2</text>
<text x="1265.2" y="388.9" font-size="15.4" text-anchor="middle" fill="#262626">frequency (Hz)</text>
<text transform="translate(1082.5 204.4) rotate(-90)" font-size="15.9" text-anchor="middle" fill="#262626">E (m<tspan font-size="11.5" dy="-6.5">2</tspan><tspan dy="6.5">/Hz)</tspan></text>
<text x="1152.7" y="325.8" font-size="19.3" fill="#000"><tspan font-style="italic">H</tspan><tspan font-size="13.5" font-style="italic" dy="3.7">s</tspan><tspan dy="-3.7">=3.9, </tspan><tspan font-style="italic">H</tspan><tspan font-size="13.5" font-style="italic" dy="3.7">s,IGW</tspan><tspan dy="-3.7">=0.8</tspan></text>
<path d="M1149.4 459.7V744.5M1122.4 717.6H1408.1M1192.5 459.7V744.5M1122.4 674.6H1408.1M1235.6 459.7V744.5M1122.4 631.6H1408.1M1264.4 459.7V744.5M1122.4 603.0H1408.1M1293.1 459.7V744.5M1122.4 574.3H1408.1M1336.2 459.7V744.5M1122.4 531.3H1408.1" stroke="#e8e8e8" stroke-width="1" fill="none"/>
<path d="M1408.1 475.2l-1.4 0.2-4.3-2.9-1.4 0.5-1.5-0.2-1-1.7 0.5-1.4 2.2-2.9 4-2.8 1.5-3 1.4-0.6M1408.1 466.5l0 1.6M1408.1 509l-1.4-0.2-5.4-5-0.3-2.8-1.5-1.8-1.4-0.7-1.4-0.1-1.4 1.2 0.9 1.4 1.9 0.7 2.7 2.1-0.1 4.3-1.2 1.3-4.3-2.7-1.4 0.2-2.3 2.6-0.5 1.9-1.5 0-1.4-1.3-1.7-2-0.5-1.4 3.9-1.4 0.3-1.5-0.7-2.8-7-4.8-2.9-0.9-3 2.8 0.1 1.5-0.5 1.4-2.3 1.3-1.7 0.1-2.6 2-1.4 0.2-1.1-0.8-0.6-2.8 0.7-1.4 3.9-2.5 2.8-3.2 1.9-1.4 1-1.8 2.8-2.1 2.9-3.2 1.7-2.9 4-1.4 2.9-5.3 4.2-1.1 2.6 0.7-0.1 1.4 1.2 1.4 1.3 4.3 0.8 0.9 4.2 1.9 2.9 2.5M1396.6 483.9l-1.4-2.9-1.5 1.5 0.1 0.6 1.4 1.1 1.4-0.3M1401.6 495.3l1.5-1.4 0.4-1.4-0.5-1.5-3.5-1.6-4.3-0.6-4.2-3.5-0.9 1.5 2.3 0.7 4.3 3.3 2.8 4.4 1.5 0.6 0.6-0.5M1384.5 493.9l0.7-0.8 3.4-0.6-1.1-1.5-0.8-2.5-4.7 4 0.4 1.6 1.4 0.3 0.7-0.5M1394.6 501l-2.2-1.3-1.7-0.1-0.2 1.4 1.9 0.7 2.2-0.7M1408.1 499l-1 0.6 1 1.6M1408.1 667.1l-1.7-2.3-0.6-4.3-2-1.3-1.4-0.2-1.8-1.4 0.5-1.4-0.5-1.4 0.4-1 1.4 0.7 1.4 0.1 1.4-0.6 0.2-0.6-1.9-2.9-0.4-1.4-0.9-5.7 1.2-1.4 0.1-1.5-1.9-4.2-7.8-3.3 0.5 1.9-0.5 2.5-0.1-1.1-1.3-1-2.9-0.8-2.8 0.8-1.5-0.4-2.8 2.1-1.4-0.4-0.7 1.1 2.1 1.8 2.8 1 5.8 3.2 0.8-0.3 0.4-2.9 1.6-2.8 1.4 0.2 1.7 2.6 0.1 1.5-1.2 1.4-0.2 1.4 0.4 1.4 4.6 7.2-1.1 0.4-1.6-0.4-0.2 1.4 2.9 4.3-1.1 0.4-1.4-0.1-7.1-2.5-1.1-2.1 0-1.4 1-2.9-2.8-2.2-1.4-0.2-4.3 0.5-4.5-2.4-1.3-1.4 1-1.4-0.9-1.4-2.9-3.1-3.3-2.6-0.7-1.4 4-0.7 1.4-3.4 2.9 1.7 4.3 1.5 1.3-0.6-2.7-6.2-1.5-1.2-2.8-0.5-4.3-1.7-1.4 1 0 1.5-1.5 0.8-1.4-0.1-5-5 0.7-1.2 3.4-0.2 0.6-1.4-0.5-2.9-4.9-1.9-2.9-2.8-2.8-5.2-0.3-1.5 0.7-1.4-0.4-1.6-1.6-1.2-6.1-2.9 0.5-1.3 1.5-0.2 1.3-1.3-0.6-2.9-0.7-1.1-1.5-0.6-1.4 0.7-1 1-0.4 1.4-1.5-1.6-2.6-5.5-1.6-1.5-1.5-0.7-2.8 0-2.9-1.4-4.3-3.5-1.4 0-1.4 1.1-2.9-1.2-1.4-0.2-1.4 0.5-1.8-1.6 0.5-4.3-2-4.3-1-1-1.5-0.5-2.8 0-1.4-0.7-1.4-2-1.5-0.3-1-1.1-0.4-1.5 2.8-2.1 3.5-3.6 0.3-2.8 0.5-0.8 2.9-0.6 4.3-3.2 1.1 0.3 0.3 1.1 0.1 1.8-0.9 1.4 5.1 3.7 1.4 0.4 2.9-0.4 1.7 0.6 1.2 1.4 0.4 1.4 3.5 4.3 1.7 3 1.5 0.8 1.4-0.9 0-1.8 1.4-0.4 2.9 1.8 2.8-0.1 1.5 1.8 2.8 1.3 1.4-1.3-1.4-2.1-3.4-3.5-2.9-5.7-0.2-1.5 2.2-1.1 1.5 0.3 2.8 2.4 1.4-0.4 0.8-1.2-0.9-1.4-1.3-0.9-2.8-0.8-1.5-1-0.8-1.6-0.5-1.4 2.8-1.7 0.8-1.1-0.2-2.9-3-2.8-0.2-1.5-2.8-4.2-3.2-1.8-1.4 0-2.9 2.8-1.4 0.8-1.4-0.4 1.3-4.3 1.5-1.9 2.3-5.2 1.1-1.4 3.7-3.2 5.1-1.1 1.6-2.8 2.6-1.5 0.9-1.4 0.4-2.8 0.9-1.2 2.8-1.9 2.9-3.8 1.4-0.3 1.4 0.4 1.1 1.1 0.6 1.4-0.2 2.1 1.2 2.2-1.2 3.7-4.3-1.6-1.4 1.4-1.9 0.7-0.3 1.5-1 1.4 1.8 4.3 1.4 1.4 1.4 1 1.4-0.1 0.4-3.8 0.7-1.4 1.8-0.3 0.9-1.1-0.4-1.4 0.9-1.3 2.9 0.6 1.4-1.5 0.1-0.7-1.8-2.8 0.5-1.5 1.2-0.4 3.2 1.9 1.2 1.4 0.2 1.4-1 1.4 0.8 1.5 1.3 0.3 1.7-0.3 0.1-4.3 1.1-1.2 1.4 0.3 1.4 1 2.7 2.7 1.1 1.5 0.4 4.2-2.8 1-0.1 1.9 1.9 2.8 1.1 1.2 1.4 0.6 1.5 0 0.7-1.8-2-8.5 0.4-1.4 0.9-0.7 1.4 0.4 2.8 2.1 2.9 1.2 1.3 2.7-0.4 1.4-3 2.8 0.1 1.5 3.4 3.1 1.2-0.3 1.7-1.7 2.8 0 0.7-1.1 0.4-4.3 1.1-1.4-0.4-2.9-0.7-1.4-1.1-1.2-2.8-0.4-1.4-1.3-0.8-2.8 0.8-1 4.2 3.4 2.9-1.9M1395.7 556.5l-0.6-1.4 0-1.4 2-1.4-0.5-1.5-5.6-6.9-4.3-1.6-1.2-1.4 0.1-1.5 3-2.8 0.9-0.5 1.5 0.3 3.2 1.6 0.7 2.9 1.8 1.6 1.4 0.5 1-0.7-1-2.9 2.5-2.8-2.5-2.9-2.9-1.6-2.8-0.4-1.4 0.5-10-3.7-2.1-1.9-1.7-2.8-0.5-4.3-1.5-1.3-2.8-1.2-0.9 1.1 2.4 4.3 0 1.4-0.8 1.4-2.4 1.4 0.2 1.5 2.1 4.2 0.1 1.4-0.5 2.9-1 1.4 0 1.4 2.1 2.9 0.3 1.4-0.8 2.9 0.9 4.2 1.1 1.4 1.5 0.5 2.6-0.4 1.7-1.1 4.2 2 0.7-0.9-1.6-2.9 0.9-0.6 1.5 0.2 2.5 1.8 1.2 2.9 3.4 3.2 1.4 0.7 0.5-1.1M1363.3 540.9l-0.2-2.9-0.8-1.4-5-5.7 1.1-1.4-0.3-1.4-1.1-1.5-3.2-2.2-1.4-0.1-1.4 0.9 0.6 2.9-0.1 1.4 2.3 2.9 1.4 4.3 1.5 1.3 3.1 1.4 2.6 2.2 0.9-0.7M1348.7 529.5l-2-1.6-1.7 1.6 1.7 0.7 1.4 0 0.6-0.7M1369.8 535.2l-3.2-2.9 1.5 2 1.7 0.9M1408.1 534.3l-1.4-1.3-1.5-0.3-3.5 3.9 0.2 1.4 3.7 5.7 0.1 1.4-3 1.5 1.4 4.2 0 1.5 4 5.8M1328.1 546.6l-2.2-1.5-0.3-7.1 2.5-0.9 7.1-0.3 0.2 1.2-1 1.4 0.3 1.5-2.5 2.8-2.7 1.1-1.4 1.8M1339.5 543l-2.2-0.7 2-2.9 0.2-3.2 1.5 1.3 0.5 1.9-1 1.5-0.1 1.4-0.9 0.7M1376.7 541.3l-1.5 0-1.2-1.9-0.3-1.4 1.5 0 1.5 1.2 0 2.1M1346.7 542.4l-2.1-1.5 0.6-0.5 2.2 0.5 0 1.4-0.7 0.1M1333.8 544.8l-1-1.1 1-0.8 1.1 0.8-1.1 1.1M1341 556.2l-4.6-5.4-2.4-5.7 1.2-1.2 1.5 1.3 1.8 2.8 4.2 2.8 1.1 2.9-2.8 2.5M1325.2 548.6l-0.4-0.6 0.4-0.3 0 0.9M1363.5 552.3l-0.3-2.9-0.8-1.4-1.4-0.5-2.9 0.7-0.3 1.2 0.7 1.4 2.5 2.5 1.4 0.3 1.1-1.3M1381.9 560.8l-0.5-1.4-3.3-3.2-1.4-0.8-2.9-0.6-1.4-0.1-0.3 0.4 0 1.4 0.7 1.5 2.4 2.1 4.3 1.2 2.4-0.5M1320.2 558l0.2-1.5-2.3-0.8-1.8 2.3 0.4 0.8 1.4 0 2.1-0.8M1341 562l-2.3-2.6 0.8-1.6 1.5 1.1 0.7 1.9-0.7 1.2M1363.9 558l-1.1 0 1.1 0M1395.6 565.1l-0.2-1.4-1.6-2.4-5.7-2.6-1.4 0.1-0.1 2 2.9 3.5 4.3 1.5 1.8-0.7M1396.3 629.2l-0.1-1.5-3.8-5.8-2.4-2.7-2.5-4.3-1.2-2.8-0.3-2.9 2.1-0.9 1.4 0.3 4.3 3.2 5.7-0.3 4.3 1.6 1.4-0.1 0.9-0.9 0.1-1.5-2.4-2.6-8.3-4.5-1.1-1.4 1.4-1.4-0.2-1.4-1.6-2.9-0.5-2.8-1.9-4.3-0.6-4.3-1.5-1.7-1.4-0.6-2.7 0.9-2.7 2.8 0.2 1.5 5.3 5.7 0.8 4.2 0.5 0.9 2.9 3 1 0.4-1 0.4-4.3-1-1.4-0.9-1.8-2.8-2.5-2.5-1.4-0.9-2.9-0.7-0.3 1.3 0.8 1.4 3.3 4.3-0.9 1-2.9-0.1-2.9-2.4-4.2-1.7-2.9-2.5-2.1-2.9 0.4-1.4 1.7-1.2 1.4 0.1 2.9 1.5 1.4 0.2 4.3-2-2.4-11.4-0.2-5.7 1.2-0.7 2.8 2.4 1.5 0.1 1.4-0.6 1.4 0.1 4.3 4.6 5.7 2.1 1.4-0.1 1.5-1.1 0.5-1.1-0.3-1.4-2.4-5.7-3.5-3.5-1.5-0.3-1.4 1.3-2.9 0.7-2.8 0.2-2.9-0.6-2.8 0.5-1.5 2.6-0.3-0.9-3.8-2.9-1.2-1.4-0.8-1.4 1.9-0.3 0.9-1.1-0.9-1.8-1.5-1.4-1.4-0.5-0.8 0.8 1.2 2.9-0.4 0.4-1.4-0.3-1.5 0.5-0.2 0.8 2 2.8 0.7 4.3-1 0.9-0.8 1.9-0.7 4.3-1.4 1-2.8-0.5-8.6-6.2-0.5 1.4 3.8 5.7-0.2 1.5-1.7 1.4 2.3 5.7 2 2.8-0.3 2.9 1.4 2.8-0.1 1.5 2.6 2.8 0.7 1.4-0.4 2.9 5 5.7 1.2 2.8 4.2 0.8 0.6-0.8-0.7-5.7-0.4-1.4-8.1-5.1-2.1-2-1.9-2.9 0-1.4 1.2-0.5 2.8 0.9 4.3 4.8 2.9 0.7 1.8 1.2 0.4 2.9 1 1.4 6.8 5.8 5 5.6-0.8 1.1-4.2-1.8-1.5-0.1-0.3 0.8 0.3 1.4 1.5 2.3 4.2 2.1 1.5-0.4 1.4 0.3 4.3 4.5 1.4 0.6 2.5-0.8M1408.1 564.2l-1.4 0.1-4.3-4.1-0.9 0.6 0.7 2.9-0.5 1.4-0.7 1.6-2.4 1.2-1 4.3 4.7 7.1-1.6 1.4-0.7 1.5 0.8 2.8 1.6 2.1 1.4 1.3 1.4-0.4 1.3-4.4 1.6-0.2M1329.8 563.7l-1.7-2.2-1.4-0.5-2.2 1.2 1.5 1.5 2.1 0.6 1.4-0.1 0.3-0.5M1303.8 569.4l-1.4-0.9-0.4-0.6 0.4-0.4 1.9 0.4-0.5 1.5M1340.9 580.7l-1.4-1.7-2.8-1.4-2.9-4.4-1.4-0.3-1.4 0.3-1.5-0.9-4.3-4.7-1.4-0.4-0.6 0.7 0 1.4 1.3 2.9 0.5 2.8 1.7 1.8 1.4 0.9 1.4-2.9 1.5-0.7 2.8 2.7 2.9 1.6 1.4 2.4 1.4 1.1 1.4-1.2M1408.1 571.7l-2-0.9 0.4-1.5 1.6-2.2M1291 610.1l-1.5 0-1.9-0.9-2.6-2.8-1.2-3.3 0-1.8 2.9 0.7 0.9-1.3-0.4-1.4-3.6-4.3-1.2-2.9-1.4 0.6-3.2 3.7-0.8 1.4-0.7 2.9-1.1 0.3-1.4-0.6-1.4 1.6 1.2 2.9-1.2 2-2.9 1.4-1.4-1.1-2.1-0.8-0.8-0.9-1.7-0.6 1.7-0.6 1.6-2.2 0.6-2.8 0.7-0.5 1.4 0.3 2.4-1.3 1.5-2.8 1.8-1.4 1.5-2.9 2.8 0 2-2.8 0.6-2.9 1.7-3.2 4.3-0.4 1.4-1.3 1.5-3.3 2.8-1.2 1.8-2 1.1-0.7 1.4 0 2.9-2.2 0.6 1.5-2.8 2.8 0.2 1.5-0.9 1.1-1.4 0.3 3.3 1.4 7.8 12.8 5.1 4.3 0.9 1.4-0.1 1.5-2 1.4-0.5 1.4 2.2 2.8 0.6 1.5-0.2 1.3-1.4 0.8-2.9-0.2-5.3-3.4-3.2-2.6-2.9-0.6-1.6 0.4 0.6 2.8-0.4 3-1.5 0-2.8-1.3-1.5 1.2 0.1 2.3M1312.4 579.1l-1.4-1.2-1.2-2.9 0.3-1.4 0.9-0.3 1.4 0.3 2 1.4 0.2 1.5-2.2 2.6M1349.7 580.7l-0.7-1.4-1.4-1.4-3.8-2.9-6-1.4-0.7 1.4 1 0.9 2.9 0.9 4.2 2.4 4.5 1.5M1323.8 598l-5.7-5.2-2.9 0.9-1.4-1-0.2-3.4-4.1-3.6-7.1-8-0.8-2.7 0.8-1.1 2.8 3.9 5.3 2.9 1.5 2.9 2.7 2.8 3.4 5.1 1.4 0.3 2.9-0.4 1.3 0.7 0.8 1.5 0.1 1.4-0.4 2.8-0.4 0.2M1294.1 587.9l-3.1-4.5 0 3 3.1 1.5M1322.4 585.5l-1.4 0.8-1.5-1-0.7-1.7 0.7-1 1.5 0.5 1.6 1.9-0.2 0.5M1289.1 744.5l-1.1-2.8 0.2-1.5 1.3-1.1 1.5-0.6 2.8 0.8 2.9-1.1 4.3 2.7 1.4 0.4 1.1-2.5-0.6-1.4-3.4-2.4-4.3-1.6-2.3-1.7-0.8-1.4-0.6-2.9-2-2.7-1.4-0.3-1.4 0.5-1 1.1 1.2 5.7-0.2 0.6-5.7-1.9-3.2-3-0.1-2.8-1-1-0.7-1.9 0.7-0.5 1.5 1.9 0.4 2.9 0.9 1 1.5-0.3 2.2-3.6 0.1-5.7 0.5-0.3 2.9 0.1 2.8-1.3 4.3 0 1.1-1.3-0.4-2.9 0.5-1.4 2.5-4.2-1.2-1.5-5.3-2.5-1.5 0-0.6 1.1 1.2 2.9-0.6 0.8-1.4-0.3-1.4-1.3-5.1-7.8-2.3-7.1-4.9-4.3-2.9-5.7-2.8-2.8-0.8-1.5-0.6-2.8-1.3-1.4-2.2-0.9-1.4 0.1-0.7 0.8 2.7 9.9-0.6 0.9-2.8-1-2.9 0.5-1.4-0.6-0.8-1.2 0.5-2.8-0.5-1.5-1.8-2.8-1.1-2.8 0.2-1.5 0.6-0.1 2.9 1.9 1.3-0.3 0.1-1.5-1.4-1.5-5.7-2.9 0 3-3 1.4 3.8 5.7 0.2 1.4-1 0.9-2.5 0.6 5.9 9.9 0.1 2.9 0.8 0.7 1.4 0.3 2.2-5.3 0.6-0.3 1.5 0.8 1.1 0.9 0.2 2.9-0.9 1.4-1.7 1.4 0.5 1.5 1.4 1.4 3.6 2 0.7-0.6-1.6-4.3 0.9-1 2.9 0.2 4.3-1.5 1.4 0.7 1.1 1.6-2.3 5.7-4.5 1.5 0.9 1.4 9.1 5.1-0.1-2.3-1.3-2.8 0-1.4 1.4-0.1 1.4 0.6 0.9 0.9 1.7 4.3 3.2 4.2-2.9 0.5-0.6 0.9-0.2 2.9-0.6 0.5-2.9-0.9-2.9 0.2-1.4-0.3-3.4-3.8-0.8-1.4-1-4.3-1.9-2.2-5.7-1.3-1.7 3.5-0.3 1.5 0.3 1.4-1.2 1.1-5.7-4.3-4.3-0.5-4.3-2.8-2.8 1-1.5-1.1-1.5-2-1.5-2.8 3-0.7 0.6-3.6 0.9-0.9 1.4 0 3.9 2.3 4.7 4.8 1.4 0.4 1.6-2.3 0.2-1.4-0.6-1.5-2.6-3-4.3-6.4-7-6.2-0.6-1.5 0.4-2.5 1.5-0.1 5.7 2.8 0.5-0.2-5.1-5.6 0.2-2.9-0.7-2.8 0.8-1.4 1.4-0.2 1.3-1.3-0.1-1.4-1.2-1.1-1.4 0.2-1.4 2.8-2.9-0.8-2-2.5-0.4-1.5 0.3-1.4 0.7-0.3 2.8 0.9 2.9 1.6 0.1-0.8-1.5-2.8 2.8-0.4 0.9-1-3.7-4.2-1.6-3 0.1-0.6 2.9 0.4 3.2 1.7 3.9 5.2 2.6 1.9 3.2 3.4 2.8 1.1 1.4 1.2 1.5 2.8 1.4 0.2 4.3-0.8 1.4-2.1 2.9-0.8 0.2-0.7-0.8-2.9 0.6-1.4 2.8 0.3 4.3 2.5 1.4 4.3 1.5 1.6 2.8-1.1 1.4-0.1 8.9 3.9 1 1.4-1 2.9 0.7 1.4 3.3 2.2 2.9 4 1.4 0.9 1.4-0.3 2.9-2.4 1.1 1.3 3.2 2.2 2.8 1.3 1.4-0.6-1.9-8.6-2-4.3-3.2-4.2-1.4-0.9-2.9 0.1-0.9 0.7 1.7 4.3 2.6 4.3-0.5 2.1-1.5 2-1.9-2.7-0.7-2.8-0.9-1.5-4.8-4.2-0.5-1.5 2.6-1.4 0.8-1.4-4.6-4.1-1.4-0.1-0.5 1.3-0.9 0.7-1.4 0.2-2.9 1.7-2.9 0.9-2.7-2 0.4-2.9-0.6-1.4-2.8-2.3-5.7-0.8-4.3-1.7-1.3 0.5 1.3 2.9-1.4 0.3-2.9-1.7-2.2-0.1-2 4.1-1.5 1-1.4-0.7-0.9-1.5 0.1-5.7 1.3-1.4 0.9-2.1 1.2-0.8 1.7-0.3 1.4-1.2 1.4-0.1 5.5 1.6 3.1 3.8 2.9 1.5 1.4 0.1 1-4-0.1-1.4-4.6-5.7-1-4.2-2.6-4.3 1.6-0.4 2.1 1.8-0.2 2.9 1 1.4 4.3 4.2 4 5.7 3.1 2.6 2.8 0.5 2.9-0.5 1.4 1.1 1.4 2.5 4.3 2.6 7.2 1.1 2.8-1.1 0.3-0.2-4-5.7 0.9-2.3 0.5 0.9 5.2 3.1 2.3-1.7-0.2-1.4-3.5-2.9-0.3-1.4 0.3-1.8 1.4-0.8 1.6-0.3-0.1-1.4-0.4-1.4-1.1-1.2-5.7-3-0.7-1.5 0.1-1.4 2-1.1 1.4 0.5 0.2 0.6 1.3 0.9 2.1 0.5 0.4-1.4-1.6-1.4 0.5-1.2 1.4 0.9 1.4-0.4 3.2-2.2-0.4-4.3-0.9-2.8-6.1-4-0.8 1.1 1.7 5.7 0 4.3 0.4 1.4-1.3 1.2-1.5 0.1-2.8-5.5-5-5.7-0.2-2.9 1.1-1.4 0.1-1.4 1.1-1 4.3 0.3 1.4 0.9 1.5 0.1 1.4-1 1.4 0.2 2.9 1.9 1.4-0.3 1.3-4 0-1.4-2-2.9 0.7-1.1 2 1.1 2.3 3.2 1.4 0.7 2.9-0.4 0.7-0.6-0.2-1.4-1.7-2.9 0.9-2.8 1.7-0.7 0.5-3.6 0.9-0.9 1.5 0 0.6-0.5 0-2.9 0.8-0.9 1.4-0.8 1.4-2.5 1.5-0.4 1.6 3.2 2.7 2.6 2.8 1.4 1.4-0.2 1.5-0.9 1.4 2.2 1.3 0.6-1.3 0.7-1.4-0.1-0.5 0.8 0.1 2.9-1.1 0.6-1.4-0.1-2.8-1.4-1.5-0.2-1.3 1.1 0 1.4 5.6 4.4 4.3 1.1 1.4 0.8 4.3 5.1 2.9-0.2 1.4 0.6 1.4 1.2 2.9 5 1.1 0.5-1.1 0.5-2.9 0.2-1.4 0.7 0.4 2.9-0.4 1.6-4.3-0.8-4.3 0.3-1.4-0.3-0.1 0.6 1.5 0.5 3.9 3.8-0.2 1.4-0.8 0.7-2.9-1.1-0.4 0.4 0.2 2.9 1.7 5.6 0 2.9-2.9-1.6-0.7 0.2 0.7 0.4 2.3 5.3 1.5 1.4 3.3 1.5 1.5 0.6 0.6-0.7-1.6-4.3 1.3-4.2-0.4-1.5-3.1-4.2 0.3-0.9 1.4-0.5 2.9 0.5 4.3 3.3 2.8 0.2 4.1 3.1 0.8 1.4-0.8 1.4 0.3 1.4 4.1 5.7 0.4 1.5-1.7 1.7-1.4 0.4-2.9-0.1-2.4-2-1.9-3.8-1.4 0.6-0.9 1.7 1.2 4.3-2.3 1.4-0.7 1.5 2.5 2.8 0.6 1.4-0.6 1.5 0.4 1.4 4.5 5.7 1.5 4.2-0.5 1.5-11.4-7.1-1.5 1.8-0.5-1.8-0.9-0.4-4.2-3.9-0.7-1.4 2.1-0.6 2.8 1.7 2.9 2.8 2.7-1.1 1.1-1.4-0.3-1.4-7.9-4.3 0.1-0.6 4.8-2.3-2-2.7-3.7-3-0.8-1.4-1.7-1.4-3.8-1.6-0.2 1.6 1.5 1.4 4.5 1.8 0.9 1.1 0.2 1.4-1.1 2.1-2.9-0.5-4.3-1.9-0.4 0.3 0 1.4 0.7 1.4-0.3 0.9-2.8-0.5-1.5 0.2-1.1 0.9-0.3 1.2-1.5-1.2 1.4 1.4 1.5 0.4 8.3 8.1 6 4.9 1.4-0.2 1.5-1.5 2 2.5 0.8 1.4 0 1.5 1.7 2.8 2.6 2.9 1.4 1 5.8 1.8 1.4 1.5 0.9 1.4 0.1 1.4-1 1.4-1.4 0.1-2.9-2.9-4.3-1.4-2.8-1.9-1 0.4-0.5 3.2-1.8 1.1 7.5 8.8 2.9-1 1.8 0.7 1.6 1.5 0.1 1.4-0.6 0.3-4.3-1 0 6.4 0.6 1.4 2.2 1.7 4.3 0.8 4.3 2.9 2.9 0.9 4.2 2.5 2.9 0.9 1.1-2.6 3.2-0.5 1.4 0.3 5.7 7.3 2.9-0.6 1.4 0.6 4.3 4.1M1293.2 597.8l-0.9-2.8-7.1-5.7 0 0.7 1.5 1.2 2.4 6.6 1.9 1.3 1.4 0 0.8-1.3M1401.2 595l-0.9-2.9-1-1.4-1.2-0.9-1.4-0.2-1.5 1 0.4 3 5.4 2.6 0.2-1.2M1408.1 591.6l-4.3-1.8-1.2 0.9 0.9 1.4 4.6 3.6M1301.1 597.8l0.8-1.4-0.9-1.3-1.5-0.6-1.4 0.5 1.4 2.5 1.6 0.3M1408.1 600.6l-2.9-2.6-2.8-0.9-0.3 0.7 1 5.7 5 4.5M1382.4 602.2l0-0.3 0 0.3M1276.7 606.2l-1-1.3 1-0.7 0.8 0.7-0.8 1.3M1334 607.8l-1.6-3 0 2.2 1.4 1.7 0.2-0.9M1379.5 607.4l-2.3-1-1.4-1.5 0.9-0.9 1.4 0.1 1.4 0.8 1.2 1.5-1.2 1M1262.4 607l-0.9-0.6 0.9-0.8 0.6 0.8-0.6 0.6M1278.1 607.5l-1.3-1.1 1.3-0.9 0.6 0.9-0.6 1.1M1265.2 619.4l-1.4-1-1.4-2.1-1-4.2-1-1.5-0.9-1.2-1.4-0.2 2.9-2.3 2.1 2.3 1.2 2.9 5 5.7-4.1 1.6M1335.5 630.6l0.7-1.4 0.3-2.9 1.6-2 1.7 0.6 2.6 3.1 1.4 0.1 0.1-0.4-0.5-4.2-2.5-4.3 0.4-1.4 1.8-1.5 0.1-2.8 1.6-1.4 0.5-1.5-1.5-1.1-2.8-1.1-1 0.8 0.5 2.9-2.4 0.5-0.9 0.9 1.7 2.8-0.8 0.8-4.3-0.7-2.8 0.4-1.5 0.4-2.8 2.7-0.3 0.7 0.3 1.6 3.2 4.1 0.2 1.4-0.6 0.3-1.4-0.5-2.9-0.2-1 0.4-0.8 1.5 1.9 1.4 2.8 1 2.9-0.3 2.8-1.1 1.7 0.4M1258.1 610.7l0-1.4 0 1.4M1273.8 613.7l-1.4 0-1.4-1.5 0-1.8 2.3 1.7 0.8 1.4-0.3 0.2M1295.2 632.2l-2.4-1.6 1.1-1.4 0-1.5-1.5-1.8-1.4-0.5-1 0.9 1 2.2 0.8 0.7-0.8 0.6-1.5-0.5-4.3-4.9-2.8-0.3-3.3-2.1-1.3-5.7 0.3-0.3 1.4 0.2 2.9 0.8 0.3-0.7-1.9-4.2 0.3-1.5 1.3-0.4 4.3 1.4 2.8 4.1 1.5 1.4 1.4 0.2 1.4-2.3 2.9 2.1 1.9 0.7 0.8 1.4-2.7 1.2-3.4-1.2-0.2 1.4 2.6 4.3 1 1.1 2.8 0.6 0.7 1.1 0.1 1.5-5.1 3M1253.8 615l-0.3-0.1 0.3-0.5 0.6 0.5-0.6 0.1M1355.8 617.8l-2-4.2-1.4 3 0.7 1.2 2.1 1.3 0.6-1.3M1408.1 615.4l-2.3 2.4 1.3 1.4 1 0.2M1339.5 618l0-0.6 1 0.4-1 0.2M1408.1 628.2l-4.3-6.2-0.3-2.8-2.5-1.7-1.5 0-1.5 1.7 1.2 4.3 3.2 5.7 1.4 1.5 2-0.1 1.6 1.4-0.2 1.4-1.6 1.5 0.1 1.4 2.4 2.2M1271 619.7l-0.9-0.5 1.3 0-0.4 0.5M1249.5 620.6l-1.4 0 1.4-0.4 0 0.4M1248.1 622.1l-0.7-0.1 0.7-1.4 0 1.5M1259.5 624.6l-0.5-1.1 0.5-1 1 1-1 1.1M1246.7 641.9l-6.4-2.8-3.6-5.9-1.4-1.2 1.1-1.4 4.1-2.9 1.9-3.1 2.9 0.3-6.5 7.1 6.2 5.7 1.8 2.8-0.1 1.4M1273.8 626.8l0-0.9 0 0.9M1261 636.1l-1.5-1.2-2.8-4.7-0.5-1 0.5-1.5 1.4-0.4 1.4 0.5 1.5 1.9 0.9 3.7-0.1 1.5-0.8 1.2M1286.7 635.6l-1.5-0.3-2.8-1.6-4.3-0.3-1.1-1.4 1.1-1.3 1.8-0.1 2.5-4.1 1.4 0.3 2.1 2.4 0.6 1.4 0.6 2.8-0.4 2.2M1233.8 635.2l-1.4 1 0-2.6 2.9-1.5 1.1 1.3-1.1 0.2-1.5 1.6M1296.7 634l0-1.4 1.2 0.8-1.2 0.6M1305.2 644.7l-4.2-2.6-3.5-3-0.4-4.2 1-1.4 2.4 1.4 1 1.4 0.8 2.8 2.9 4 1 0.3-1 1.3M1333.5 654.8l1.7-1.5 1.5 0.4 0.3-0.3-2.2-2.9-0.3-1.4 0.8-2.9 1.9-1.4 0.6-1.4-1.1-2-1.5-1.5-1.4-0.4-4.3-0.1-1.4-0.8-2.9-3-1.4-0.9-1.1 1.6-1.7 0.2-4.3-2.1-1 0.5-0.3 1.4 0.8 1.4 4.8 3.2 4.2 4.7 2.8 2.1 0.8 2.8 2.2 4 1.4 1.4 1.1-1.1M1229.5 641.6l-1.4 0.1-0.3-1.2 0.5-1.4 1.2-0.7 1.5 0.1 1.3-0.8 0.1-1.3 0 2.7-2.9 2.5M1296.7 646.6l-1.5 1-1.4-0.2-5.6-5.4-0.5-1.5 0.4-2.1 0.6-0.7 2.3-0.4 2.8 1 2.9 2.2 0.8 1.5 0.1 1.4-0.9 3.2M1345.7 640.5l-1.9-0.6-2.9-2.2 2.9 3.1 1.4 0.2 0.5-0.5M1255.3 642.1l-1.9-1.6-0.4-1.4 0.8-0.6 2.3 2-0.3 1.5-0.5 0.1M1363.3 646.2l1.4-2.8-0.4-1.4-1.9-2.3-1.4 0.5-2.1 1.8 3.5 5.1 0.9-0.9M1223.8 740.9l-2.8-1.2-5.7-1-2.9-2-2.1-6.4-5-5.7-1.5-2.9 0.5-1.4-0.1-1.4-1.4-2.9 0-1.4 2.5-1.4 1.6 0-0.7-1.5-1.6-1.4-2.2-0.7-4.3 0.7-3.1-2.8 0.6-2.9 1.1-1.4 8.6 2.2 1.4-0.2 0.2-0.6-1.4-2.8-6-4.4-2.2-2.7-0.2-1.5 1.5-2.8 0.3-1.4 2.1-0.8 1.4 0.2 1.4 1 4.3 5.3 3.7-1.5 0.9-1.4-0.2-1.4-3-4.7-2.8-1.9-1.5-2 0.1-1.4 1.7-2.8-2.3-4.3 0.8-1.4 0-1.4-3.1 0.1-1.4 1.5-0.5-0.2-0.6-1.4 0-2.9 3.9-3.2 2.1-1.1 5.5-5.7 1-3.5 2.9-2.5 1.4-0.7 3.1-3.2 1-1.5 0.2-1.5 1.4-1.1 2.9 0.3 1.4-0.9 1.4 0.4 0.4 1.4-0.8 1.4 0.2 1.5 4.1 4.2 0.5 1.5-0.3 1.4-1.2 1.2-4.3 0.2-5.7-2.7-1.5 0.7-0.4 0.6 0.1 2.8 0.8 1.5-0.8 1.4 0.2 1.4 1.1 0-0.7-1.4 1.2-0.4 9.4 4.7 0.4 1.4-2.7 1.5-2.8 0.5-0.9 2.3 0.5 1.4 4.6 3.6 3.8 2.1 1.9 2.8 2.8 2.9 0.9 1.4 0.1 1.4-0.9 1.6-1.4 0.9-1.4 0-4.3-4.4-1.6-0.9-0.2 1.4 0.6 1.4 1.7 1.4 2.3 0.7 1.5 1.5 0.5 2.1-0.1 1.4-0.4 0.7-2.9 0.2-0.6 0.6 0 4.2-0.8 0.9-2.9-1.3-1.4-0.2-1 0.6-0.5 1.5 1 2.8-0.9 1.2-4.3 0.1-1.5 2.6-2.8 0.8-2.9 2.1-1.4 0.5-0.8 1.2 3.1 4.3-0.5 2.9 0.4 1.4 3.5 3.2 1.4 0.6 2.9-1.4 2.5 1.9-1.1 3.7-2.4 2-0.2 1.4 0.1 1.4 3.6 7.1-1.1 0.7M1238.1 645.2l-1.6-1.8 0.2-0.8 1.5 0.8 1 1.4-1.1 0.4M1309.5 645.4l-2.8 0.5-1.4-1.1 1.4-1.1 1.4-0.1 2.7 1.2-1.3 0.6M1351.8 690.4l4-1.4-2.4-5.7-2.4-1.9-1.3-2.4-0.4-1.4 1.2-1.5-3.1-4.2-3.6-4.2-1.4-0.5-5.7 0.2-1.5-0.7-1.6-3.4-0.6-2.8-2-1.8-1.5 0.3-1.4 1.5-1.4-0.3-1.7-2.6 1-2.8-0.8-1.4-3.8-2.9-1.9-2.1-1.5-0.7 0.5 1.4-1.7 1.4-0.1 1.6-1.5 0.7-1.4-0.3-1.2 2.3-1.4 1.4 2.6 3.5 1.4 1.1 1.5-1.7 1.4-0.3 4.3 2 1.4 1.1 1.4 4.6 1.5 0.7 1.4-0.3 4.3 2.7 1.4 0.4 1.4-2.1 1.5 0 10.1 15.4 1.3 5.9 1.4 2 2.3-0.8M1233.8 650.4l-1.2-1.3 1.5 0-0.3 1.3M1235.3 650.7l-1.3-0.2 1.3-0.1 0.3 0.1-0.3 0.2M1238.1 652.1l0.8-0.2-0.8 0.2M1287.2 653.4l-2-1.8-1.9 0.3 0.2 1.5 1.7 1.3 1.5-0.4 0.5-0.9M1241 654.3l-1.7-0.9 0.2-1 1.5 1 0 0.9M1269.5 654.8l0-0.8 0.6 0.8-0.6 0M1408.1 656.1l0 0.2M1402.4 676.3l-2.1-1.6-1.6-2.8-2-2.1-1.3 0.7-0.3 1.4 1.4 2.8-0.2 1.4-1.1 0.7-1.4 0.1-1.4-0.8-1.7-2.8-0.2-1.4 0.6-1.4-1.6-3-0.8 3-3.5 0.4-4.2-2.5-2.9-2.9-0.3 0.7 0.6 1.4 0.1 2.9-1.8 0.6-2.9-0.9-1.7-1.2-1-1.4-3.1-7.1 1.5-0.5 2.9 0.8 0.8-0.3 0.8-1.4 1.2-0.9 2.9 1.3 4.3 0.8 1.4-1.2 0.1-1.5 1.3-0.7 3.1 2.2 2.2 2.8 0.6 1.4-0.1 1.4-1.5-0.5 0 1.1 2.9-0.8 2.8 1.9 1.5-0.1 0.4-1.5 1-1.2 1.4 0.2 2.8 2.4 5 7.1-0.1 1.4-0.5 0.5-4.3 1.1M1238.1 668.9l-6.8-2.7-0.6-4.3 1.7-1.1 1.4-0.2 2.9 1.1 1.3 1.6 0.5 1.5 0.1 2.8-0.5 1.3M1218.5 677.6l-0.4-2.9-2.1-2.8-1-2.9-1.2-0.6-2.8-3.3-2.9-1.2-1.3 0.9 1.1 1.4 0.3 1.4 2.8 2.9 1.2 2.8 4.5 4.3 1.4 0.8 0.4-0.8M1279 670.5l-1.1 0 0.2 0.3 0.9-0.3M1328 744.5l-3.7-4.3 0.9-0.9 2 0.9 2.3 2.6 1.5 0.6 1.2-0.3 0.2-3.1 1.4-0.7 4.2-0.5-2.8-3-4.2-1.9-1.5-4-2.8-4.6-1 0.7-0.5 2.1-2.8 0.3-2.9-0.6-3.2-3.2-1-1.5-1.5-4.8 1.4-0.7 2.9 0.5 0.4-0.7-0.1-1.4-2-4.3-0.7-4.2-3.8-5.7 0-1.4 0.9-1.5-0.2-1.4-2.8-4.3-3.1-1-4.3-3.9-2.9-1.6-2.8 1.2-4.3-0.7-2.9-2.2-1.5-1.7-1.3-2.9 1.4-0.6 0.9 0.6 1.1 2.9 2.3 1.3 7.1 1.1 0.6-1-0.1-1.4-1.2-2.9-1.5-1.4-4.8-2.9-1.9-2.8-2.5-2.1-2.5 2.1-1.8 0.7-0.7 0.7 0.6 1.4-1.3 1.2-4.3 0.8-4.3-2.9-1.4 0-0.6 0.9 0.5 1.5 8.7 10.1 2.8 0.4 1.2 0.9 3.1 0.7 2.9 0.1 2.8 1.9 0.9 1.5-0.9 0.8-2.8-0.6-0.5 1.3 0.5 2.1 1.4 1.3 1.4 0.2 2.9-2.1 4.3 3.1 1.4 0.3 0.6-4.9 0.8-0.4 5.5 6.1 1.1 2.8 0.4 5.7-1.3 1.2-2.6-4-1.7-1.4-1.4-0.3-0.3 1.7 1.6 2.8 3.2 2.8 0.8 2.9-0.8 1.4-1.6 0.7-5.7-1-1.5 0.3-1.7 1.4-1.1 1.8-2.9 0.1-1.4 0.6-0.2 1.8 3 3.3 2.9-1.9 1.4 0.1 4.3 2 5.7 0.8 0.6 5.7 0.6 1.4 4.7 2.9 1.2 1.4-0.4 4.3 1.9 2.8M1363.2 711.7l0.2-2.8-0.8-4.3-3.1-5.1-8.5-5.5-2.9 0.6-1.4-0.5-3.4-3.7-1.4-2.9 0.3-5.7-3.6-7.1-0.5-0.3-1.1 0.3-1.8 1.5-1.4-0.2-5.7-3.4-2.9 1.4-1.4 0-1 0.7 0.1 1.4 0.9 1.5 1.4 1 1.5 0.3 2.8-0.5 2.9 1.2 2.8 4.4 1.8 0.7 0.2 1.4-0.5 0.1-1.5-1.2-0.6 1.1 0.2 1.4 3.3 3.5 1.4 1.3 4.3 1.5 2.9 2 6.7 6 0.3 1.4-1.7 2.9 2.7 4.2 0.5 2.1 1.5 0.6 0.1-1.3 1.3-1.4 4.3 2 0.8-0.6M1122.4 744.3l2.3-2.6 3.4-1.4 1.4-1.3 1.5-2.9 2.8 0.2 1.5 1.1 1.4 2.3 1.4 0.1 1.4-1.1 1.2-1.3 0-1.4-2.6-0.9-1.4-1.3-1.7-3.5 0.3-0.8 2.8-0.7 1.6-1.4 2-2.8 2.1-1.8 1.5-1.1 2.8-0.9 2.2-3.4 2.3-1.4 0.9-1.4 1.8-1.4 1.4-2.6 2.8-0.8 1.2-2.3 0.3-2.9 1.4-1.2 2.9-0.3 5.7-6.9 4.5-3 2.5-2.8 3.9-5.7 3.7-1.4 3.9-6 3.2-2.6 2.6-0.9 1.9 0.9 0.1 1.4-1.9 2.9-1.8 1.4-0.1 1.4 4 4.3 0.8 1.4-0.2 0.5-2.8 0.7-2.9-0.4-1.3 0.7-0.1 1.5-0.6 1.3-0.9 0.5-4.2-2.5-1.5 0.1-0.4 0.5 0.4 2.8 1 1.5 6.2 2.7 2.8-0.3 0.8 1.8-0.8 1-1.4-0.3-1.1 0.8-3.2 4.5-5.5-1.7-2-4.3-1.4-1.4-1.1-0.4-1.4 0.6-1.2 1.2-0.6 1.5 0.6 4.2 1.2 1.3 2.8 0.9 1.5-0.6 1.4 0.8 2.2 3.3-0.2 1.4-1.6 1.5 3.9 4.2-0.6 1.5-3.7 0.8-1.4 3.4-4.3 1.9-1.4-0.5-0.8-1.4-0.7-4.5-1.4-0.7-1.4 1.3-1.5-0.1-1.4-1-0.2 0.8 0.5 1.4-0.5 1.4-1.2 0.6-2.9-1-1.2-1-0.3-1.4-2.8-3.7-1.4 0.1-2.8 2.1-0.7 1.5 0.7 1 2.8 0.8 1.4-0.6 1 0.2 1.6 1.4-0.8 2.9-1.4 1.4 0 1.4 2 2.9 0.9 4.2-0.4 0.9-0.7-0.9-2.2-1-2.8 0.2-2.9-1.9-2.8-0.8-2.9-3.1-1.4 0.2-1.4 1.2-0.5 1 1.9 4 4.3 1 1.4 1.5 0.5 3.4 1.5 2.9-0.5 1.4M1226.9 680.4l-0.6-1.4-2.5-1.9-0.3 0.5 1.2 1.4 2.2 1.4M1292.4 681.2l-1.4-1.2-0.5-1 0.5-2.2 1.4-0.5 0.8 1.3 0.2 2.8-1 0.8M1403.8 678.2l0-2 0.3 1.4-0.3 0.6M1408.1 690.3l-1.4-1-2.9-0.2-1.4-0.9-2.9-0.7-0.5 1.5 0.3 2.8-1.2 0.3-2.9-1.2-2.8 0.8-5.7-3.6-1.5-0.4-1.4 0.7 0.4 2 1.4 1.4 5.4 3.4 2.8 1.2 1 1.1 0.4 1.4-0.5 1.5-0.9 1.2-1.4-0.1-7.2-3.4-4.5-4.9-1.9-2.8-0.1-4.3-1.9-5.7 1.3-1.2 4.3 2.5 4.3 1.3 5.7 3.9 1.4 0.4 1.2-1.2-0.4-1.4-2.8-4.3 0.6-1.2 4.3 2.6 4.3 3.5 1.4-0.1 1.4-1.4 0.6-2-0.3-2.8 1.1-0.9 2.9 1.8M1216.5 683.3l-0.5-1.5-2.2-1.8-2.8-0.3-0.5 0.7 1.3 1.4 3.5 1.8 1.2-0.3M1335.6 694.7l-4.6-4.3-0.6-4.3-2.3-2.9-2.9-2.3-2.8-1.5-1.4-0.2-1 1.2 0.2 1.4 5 6.6 4.3 2.9 2.9 3.8 2.8 0.1 0.4-0.5M1357.6 681.8l-3.8-2.6-0.4 1.2 1.8 2.4 1.5 0.3 0.9-1.3M1308.3 684.7l-1.6-1.9-1.5-0.3 0 1.3 1.5 1.6 1.4-0.3 0.2-0.4M1319.3 694.7l2.1-4.3-0.5-1.4-1.1-1.5-4.6-3.4-1.4 0.2 2 3.2-0.6 2.9-1.1 1.4 0.4 1.4 3.6 1.7 1.2-0.2M1283.8 686.7l-0.2-0.6 1.3 0-1.1 0.6M1224.6 693.2l-0.8-1.9-5.7-3.4-1.8 1.1-0.6 1.4 0.5 1.4 1.9 0.9 5.7 1.3 0.8-0.8M1325.5 698.9l-0.4-1.4-1.3-0.9-2.9-0.5-0.3 1.4 1.8 2.2 1.4 0.1 1.7-0.9M1321.2 704.6l0.4-1.4-0.6-1.6-1.4-1.2-2.9-2-1.5-0.1-0.9 0.6 1.4 2.9 2.4 2.4 3.1 0.4M1341.8 708.9l-0.8-1.8-1.5-1-1.4-0.3-0.9-4-1-1.4-2.4-1.7-1.4 0-1 5.9 1 1.5 1.4 0.6 2.9-0.9 0.9 0.3 0.4 1.4 1.5 2.1 1.5 0.5 0.8-1.2M1389.5 710.6l-1.4 1.1-1.4-0.1-1.5-0.9-4.2-3.2-0.9-1.4 0.1-2.9-0.7-0.8-1.4-0.7-1.4 0.3-1.5-0.4-1.2-2.7 1.2-0.6 5.8 2.6 1.4 1.4 0.4 2.3 1.1 1.5 4.6 2.8 1 1.7M1408.1 705.9l-1.5-2.7-0.8-2.8 0.9-0.7 1.4 0.8M1213.9 701.8l-0.1-0.4 0.1 0.4M1401 704.2l-2-1-0.9-1.7 1.4 0.1 1.6 1.6-0.1 1M1172.5 713.2l-0.7-4.3 2-0.7 0.9-0.7 0.4-1.4-2.7-2.2-1.4 0-1 0.7-1.8 2.9 1 1.4 0.9 2.8 0.9 1.1 1.5 0.4M1235.3 714.8l-2.9-0.7-0.7-0.9-0.4-4.3-1.3-2.8 1-1.1 1.4-0.1 1.3 1.2 2.6 4.2 0 2.9-1 1.6M1399.5 711.4l-1.4 0.3-1.4-0.8-3.3-4.8 0.4-0.9 1.4-0.3 1.5 0.5 2.4 2.1 1.3 1.4 0.4 1.4-1.3 1.1M1192.4 712.6l-3.2-2.3-0.6-1.4 0.1-1.4 0.8-1 2.2 1 1.1 1.4 0.7 2.8-1.1 0.9M1228 744.5l-1.3-1.8-2-1 0.6-1 2.8 0.7 0.7-1.2 1.2-9.9 1.5-2.9 1.1-5.7 1.2-1.3 2.9 0.8 0.7-0.9-0.5-2.9 0.8-1.4 3.3-2.7 1.2-0.1-1.2-0.2-0.9-2.7 0.9-1.4 1.4 0.1 2.3 1.3 0.4 1.4-2.7 1.5 0.3 1.4 4.8 4.3 1.6 5.7-1.6 1.4 0.7 1.4 1.3 1 1.5 0 1.4-1 1.4 0.1 2.9 1.9 4.3 1.9 2.8 4.4 2.8 3.1 1.5 3.2 3.4 2.5M1259.5 709.5l-0.9-0.6 0.9-1 0.7 1-0.7 0.6M1266.7 713.7l-1.5-0.6-1.7-2.8 0.6-1.4 1.1-0.6 1.5 0.7 1.2 1.3 0.3 1.4-1.5 2M1330.2 708.9l-0.7 0.3 0.7-0.3M1321.3 710.3l-0.3-0.5-0.1 0.5 0.4 0M1162.9 713.2l-0.1-1.5-0.9 0-0.6 1.5 1.1 0.3 0.5-0.3M1221 720.6l-2.6-1.7-2.6-2.9 0.9-3.5 4.3-1.2 4.3 0.2 4.2 2.4 1.5 0 1.4 1.5 0 1.7-2.2 1.8-0.7 0.2-4.2-1.7-1.5 0.4-2.8 2.8M1273.8 737.6l-2.8-0.4-1.5-1.2-0.8-2.9-0.6-0.6-4.3-2.4-0.8-1.3 0-2.8-2-2.4-1.5-1.1-2.8 0.5-1.4-0.6-8.5-10.7 2.7-1.3 2.9 0.8 2.6 2 1.6 4.2 1.5 0.8 1.4-0.3 4.3 0.5 2.9-2.6 1.6 1.6 0.4 1.5 0.4 4.2-1.4 1.5 0.1 1.4 1.8 2.8 0.3 2.9 2.5 2 1.7 2.3-0.3 1.6M1350 718.9l1.1-1.5-0.5-1.4-2.5-1.8-2.1 0.4 0.3 1.4 1.8 2.2 1.4 1 0.5-0.3M1366.7 721.7l0.3-1.4-0.9-1.4-2.3-2.2-1.4-0.4-2.9 0.6-2.8-2-1.5 0.1-1.9 1-0.2 1.4 3.6 3 1.4 0.3 1.4-0.4 4.3 2.4 2.9-1M1408.1 720l-2.8-4 1.4-0.4 1.4 0.3M1378.8 744.5l0-1.4 0.7-2 0.3 0.6 2.6 0.9 1.2-0.9-2.5-4.3 1.9-1.4-2-2.6-1.4 1.1 0.5 1.5-1.3 4.2-0.7 0.4-2.2-1.8-0.9-1.4-0.2-1.4-2.4-2.6-1.4-0.9-2.9-0.3-2.9-1-1.4-3.3-0.7-0.5 0.7-1.2 5.7 3 0.7-0.4-1.4-2.8-3.6-2.5-1.4 0.1-0.4 1 0.4 1.4-1.4 1.2-1.4-0.2-1-1-3-1.4-3.2-0.5-1.3 0.5 0.4 1.4 3.1 4.3-0.1 1.4-0.7 0.7-4.2-0.6-2.5-1.5 1-1.3 0.2-1.6-1.8-1.4-0.5 1.4 0.7 3.7 1.4 2.4 2.9 1.6 1.8 2.3-0.4 0.5-1.4-0.1-2.9-1.8-2.5 2.8-0.3 1.2-1.5 0.6-2.8-5.5-1.2-0.6-0.6-2.8 0-1.4 1.8-2.9-2.7-4.3-1.9-4.2-2.6-2.1-2 0.6-1.1 1.5 3.1 2.3 1.3 1.9-1.3 1.1-2.8-0.2-0.8 0.6 0 1.4 0.8 1.6 1.3 1.2 6.6 4.3 1.8 2.9 0.3 1.4-0.6 1.4-1.6 1.4 2.5 2.9-0.1 1.4M1382.1 728.8l-0.7-1.4-3.9-4.3-2.3-3.7-1.4-0.8-2.9 0.3-0.5 1.4 1.8 1.4 3 1.2 1.5 1.2 2.8 5 1.5 0.3 1.1-0.6M1199.5 724.2l-0.7-1.1 0.7-0.4 0.4 0.4-0.4 1.1M1309.5 725.9l0-1.4 0 1.4M1408.1 742.4l-2.9-1-1.4-1.1-1.4 0-1.4 0.6-1.8-0.7-1.2-1.4 1.9-2.8-3.7-4.3-2.7-4.3-4.8-2.8-3.5-1.3-0.9 1.3-1.6 4.2 1.1 0.3 4.9 5.4-0.6 1.2-1.4-0.3-2.1 0.6 2.7 2.8 0.2 1.4-1 2.9 0.5 1.4M1202.4 739l-1.4 0.7-1.5-0.6-1.6-1.7-2.6-4.9-2.1-2.2 2.1-1.5-1.1-2.8 1.1-0.5 1.4 0.1 2.8 1 2.9 2.3 2.4 2.8 0.5 1.4-1.5 0.9-1.4-0.1-1 0.6-0.1 1.5 1.1 3M1218.3 728.8l-0.6-1.4-1.3-1.4-1.1-0.7-1.5 0.3 1.5 3 1.4 1.3 1.4-0.4 0.2-0.7M1408.1 731.6l-5.7-3.3-2.9-2.3 0 1.4 0.5 1.4 4.4 5.7 3.7 2.3M1186.6 744.5l-1.3-0.9-2.9 0.2-0.7-0.7 0.7-1.3 2.9 0.7 0.5-0.8-0.4-1.5-5.9-6.9-2.8-1.1-0.7 0.9-0.1 1.4-4.9 0.4-4-4.6-0.6-1.5 0.3-1.2 2.8-0.2 1.5-0.8 1.4-0.1 4.3 4.3 1.4 0.3 2.9-1.4 2.8-0.5 0.7-1.8 2.2-1 1.4 0.7 3.6 3.2-0.2 2.8 0.5 1.4 3.3 6.3 1.1 0.9-1.1 0.9-4.3-2-2.9 3.4-1.3 0.5M1248.5 734.5l0.9-1.4-0.1-1.4-1.2-2-1.4 3-2.9 0.1-0.2 0.3 4.5 1.9 0.4-0.5M1304.2 733.1l1.2-1.4-1.6-1.4-1.4 0.5 0 1.1 1.4 1.4 0.4-0.2M1392.4 740.4l-3.1-1.6-1-2.8 1.2-0.9 5-0.6 1.7 1.5 0.4 1.4-0.3 1.4-1.1 0.9-2.8 0.7M1146 744.5l3.5-1 0.3-1.8-0.7-1.5-2.9-2.8-0.8-1.4-1.6-1.1-1.4-0.1-1 1.2 0.5 1.4 2.7 2.8 1.5 2.9-1.6 1.4M1168 744.5l-4.1-5.7-1.2-2.8 1.1-0.7 7.2 2.8 3.4 6.4M1245.9 744.5l-1-1.4-0.2-4.3-0.9-1.4-1.4-0.9-2.9 1.7-2.8 0.3-2.9-3.5-0.7 1 2.7 2.8 0.7 2.9 0.1 1.4-0.9 1.4M1253.6 740.2l-1-1.4-3.1-2.1-0.2 0.7 2.4 2.8 0.7 0.6 1.2-0.6M1361 740.8l-1.5-0.1-1.4-0.9-1.2-1-0.6-1.4 1.8-0.9 1.4 0.9 1.3 1.4 0.6 1.4-0.4 0.6M1323.8 739l-0.4-0.2 0.4 0.2M1263.9 744.5l-2.9-4.2-1.5-0.7-1.4 0.6 0.7 4.3M1275.7 744.5l-1.2-1.4 0.1-1.4 0.6-1.3 1.5-0.5 2.3 1.8 0.1 1.4-1 1.4M1370.2 744.5l-2.1-1-1.4-2.7 0-1.8 1.4-0.1 2.9 1.9 3.6 3.7M1312 744.5l-2.5-2.5-1.4-0.6-0.3 3.1M1158.9 744.5l0-1.4 0.6-1.1 1.5 0.1 2.6 2.4M1197.2 744.5l-1.3-1.4 0.8-1 2.8 0.7 1.1 1.7M1339 744.5l-0.9-1-1.4-0.5-1.5 0.3-1.5 1.2M1179.4 744.5l1.6-0.6 0.5 0.6M1233.7 744.5l-2.7-0.8-0.7 0.8M1359.3 744.5l0.4 0M1394.2 744.5l1.2 0" stroke="#55c1bf" stroke-width="1.1" fill="none" stroke-linejoin="round"/>
<path d="M1265.2 617.4l-1.7-1.1-0.6-1.4 0.9-1.1 1.6 1.1 0.9 1.4-1.1 1.1M1259.5 631.6l-1.4-1-0.7-1.4 0.7-0.6 1 0.6 1 1.4-0.6 1M1279.5 643.3l-1.4-0.8-1.7-2 0-1.4 1.7 1 1.7 1.9-0.3 1.3M1282.4 648.4l-0.9-0.7 0.9-0.5 0.5 0.5-0.5 0.7M1222.4 700.4l-1.4-1.9 0-1.4 1.4-0.2 0.5 0.6-0.5 2.9M1233.8 712.5l-0.7-0.8-0.3-1.4 1-1.2 0.9 1.2 0.3 1.4-1.2 0.8M1246.7 723.5l-5.7-0.4-1.5-1.1-1-3.1 2.5-2.2 1.4-0.2 1.4 0.6 2.3 1.8 0.9 1.4 0.4 1.4-0.2 1.4-0.5 0.4M1236.7 730.4l-1.9-1.6-0.8-2.8 0.1-1.4 1.2-1.9 4.2 0.8 2.8 2.5 0.7 1.4-0.6 0.7-2.9 0.7-2.8 1.6" stroke="#e9b94e" stroke-width="1.1" fill="none" stroke-linejoin="round"/>
<path d="M1249.9 639.1l1.1-3.3 1.4-0.4 4.3 1.8 0.4-0.9-0.1-2.9-1.8-5.7 2.2-1.4 0.3-1.4-0.7-1.4 0-1.5 2.5-1.3 2.9 0.6 1-0.7-0.1-1.4-3.8-8.1-1.4 0.2-0.8 0.8-0.9 1.4 0 1.4-1.1 1.7-2.9 0.6-2.2 2 0.1 1.4-3.1 2.9-1.9 3-2.9 1.9-1.9 2.2 0.4 1.4 1.2 1.4 4.6 4.3 1.4 1.2 1.4 0.5 0.4-0.3M1269.8 640.5l-0.5-1.4 0.2-1.3 1.5-0.6 0.7-0.9 0-1.4-2.6-5.7 0.4-0.6 2.3-0.9-2-5.7-1.7-1.1-1.4 1.7-2.9 0.1-1.4 1-1 2.6 0 1.4 2.5 8.6-0.5 2.8 1.8 1.7 2.9 0.8 1.7-1.1M1288.1 647.7l0.9-1.5-0.6-1.4-2.6-2.8-1.2-4.3-0.8-1.2-1.4-1.1-5.7-1.2-0.6 0.7 0.2 1.4 1.1 1.4 4.3 4.3 3.5 4.7 1.5 0.9 1.4 0.1M1277.5 644.8l-0.6-1.4-1.7-1.7-1.4-1.3-0.5 0.1-0.5 1.5 0.5 1.4 1.9 2.5 1.5 0.3 0.8-1.4M1237.8 706.1l1-1.5 0.2-1.4-1.8-2.8-1.9-1.6-1.5 0.9-0.5 2.1 2 3.7 1.4 1.1 1.1-0.5M1230 703.2l0.4-1.4-0.9-0.9-1.4-0.8-1 0.3 0.1 1.4 0.9 1 1.4 0.6 0.5-0.2M1245.4 707.5l-1.6-2-0.9 0.6 0.9 1.7 1.5 0 0.1-0.3M1229.8 710.3l-0.3-2.3-1.4-1.4-1.4-0.2-2.5 1.1-1.4 1.4 2.5 0.2 2.8 1.6 1.4 0.1 0.3-0.5M1247.1 714.6l-0.4-0.4-1.6 0.4 1.6 1.1 0.4-1.1M1255.5 724.6l-4.5-5.5-1.5-0.5-0.1 3.1 1.6 2.4 2.8 1.2 1.5-0.1 0.2-0.6" stroke="#1079da" stroke-width="1.1" fill="none" stroke-linejoin="round"/>
<path d="M1245.3 722.2l-4.3-0.9-1.1-1 0.7-1.4 3.2-0.6 1.5 0.7 0.8 1.3 0.2 1.4-1 0.5M1239.5 727.5l-2.8 0.3-1.3-1.8 0.1-1.4 1.2-0.8 2.1 0.8 1.3 1.4-0.6 1.5" stroke="#f2e41c" stroke-width="1.1" fill="none" stroke-linejoin="round"/>
<path d="M1256.8 620.6l5.6-0.8 0.3-0.6-3.2-7.3-1.4-0.2-0.4 0.4-1 4.2-2.1 2.9 0.7 0.8 1.5 0.6M1249.4 636.3l0.1-1.8 1.5-0.9 2.8 1 1.5-0.4 0.4-0.8 0.2-1.4-1.4-4.3 2.4-2.8-1.6-2.3-2.6-2 0.4-1.4-0.7-1.2-1.7 1.2 0.1 1.4-4.3 4.3-0.4 2.8-0.8 0.9-2.9 0.3-1.4 1.7 2.3 2.8 4.8 4.1 1.3-1.2M1266.7 637.7l2.8-1.6 1.2-1.2-0.2-1.5-2.5-4.2 0.3-1.5 2.1-1.4-0.9-2.1-1.4-0.7-1.4 0.9-2.9-0.4-0.9 0.9-0.5 1.4 0.9 2.9 0.4 4.2 1.5 3.1 1.5 1.2M1287.6 646.2l-0.3-1.4-3-2.8-0.9-4.3-1.7-1.4-3.6-1-1 1 0.8 1.4 4.5 4.3 2.8 3.9 1.5 0.7 0.9-0.4M1237.5 703.2l-0.8-1.9-1.4-0.6-0.6 1.1 0.6 1.8 1.4 1 0.8-1.4M1253 723.1l-0.5-1.4-1.5-1.3-0.6 1.3 0.5 1.4 1.5 0.5 0.6-0.5M1261.1 619.2l0.2-1.4-1.8-3.8-1.4-0.9-0.9 4.7 0.9 1 3 0.4M1254.6 632l0.1-1.4-1.9-4.3 2.3-1.4-1.3-0.8-1.4 1.5-1.4-0.6-1.5 0.1-1.8 2.6-0.3 1.5 0.7 1 4.3 2.6 1.4 0 0.8-0.8M1269.2 634.9l0.2-1.5-0.8-1.4-1.9-2.7-0.6-0.1 0.5-1.5-0.4-1.4-1-0.8-1.4 0.7 1.3 3-0.9 2.8 1 2.8 1.5 1 1.4-0.2 1.1-0.7M1247.6 633.4l-0.1-1.4-0.9-1.4-1.3-0.4-1.3 0.4-0.3 1.4 1.6 1.6 1.4 0.7 0.9-0.9M1282.7 639.1l-0.9-1.4-2.3-1-0.5 1 2 1.9 1.4 0.4 0.3-0.9M1259.7 617.8l-0.2-1.4-0.1 1.4 0.3 0M1253.6 630.6l-1.2-2.8-1.4-0.8-1.7 0.7 0.1 1.5 1.6 1.5 1.4 0.6 1.2-0.7M1268.2 633.4l-1.5-1.8-1.6 0.4 0.4 1.4 1.2 1.2 1.5-1.2" stroke="#4636aa" stroke-width="1.1" fill="none" stroke-linejoin="round"/>
<path d="M1149.4 459.7v2.9M1149.4 744.5v-2.9M1122.4 717.6h2.9M1408.1 717.6h-2.9M1192.5 459.7v2.9M1192.5 744.5v-2.9M1122.4 674.6h2.9M1408.1 674.6h-2.9M1235.6 459.7v2.9M1235.6 744.5v-2.9M1122.4 631.6h2.9M1408.1 631.6h-2.9M1264.4 459.7v2.9M1264.4 744.5v-2.9M1122.4 603.0h2.9M1408.1 603.0h-2.9M1293.1 459.7v2.9M1293.1 744.5v-2.9M1122.4 574.3h2.9M1408.1 574.3h-2.9M1336.2 459.7v2.9M1336.2 744.5v-2.9M1122.4 531.3h2.9M1408.1 531.3h-2.9" stroke="#262626" stroke-width="1" fill="none"/>
<rect x="1122.4" y="459.7" width="285.7" height="284.8" fill="none" stroke="#999" stroke-width="1.6"/>
<text x="1115.7" y="722.6" font-size="14" text-anchor="end" fill="#262626">0.02</text>
<text x="1149.4" y="765.3" font-size="14" text-anchor="middle" fill="#262626">0.02</text>
<text x="1115.7" y="679.6" font-size="14" text-anchor="end" fill="#262626">0.05</text>
<text x="1192.5" y="765.3" font-size="14" text-anchor="middle" fill="#262626">0.05</text>
<text x="1115.7" y="636.6" font-size="14" text-anchor="end" fill="#262626">0.08</text>
<text x="1235.6" y="765.3" font-size="14" text-anchor="middle" fill="#262626">0.08</text>
<text x="1115.7" y="608.0" font-size="14" text-anchor="end" fill="#262626">0.1</text>
<text x="1264.4" y="765.3" font-size="14" text-anchor="middle" fill="#262626">0.1</text>
<text x="1115.7" y="579.3" font-size="14" text-anchor="end" fill="#262626">0.12</text>
<text x="1293.1" y="765.3" font-size="14" text-anchor="middle" fill="#262626">0.12</text>
<text x="1115.7" y="536.3" font-size="14" text-anchor="end" fill="#262626">0.15</text>
<text x="1336.2" y="765.3" font-size="14" text-anchor="middle" fill="#262626">0.15</text>
<text x="1115.7" y="464.7" font-size="14" text-anchor="end" fill="#262626">0.2</text>
<text x="1408.1" y="765.3" font-size="14" text-anchor="middle" fill="#262626">0.2</text>
<text x="1265.2" y="784.8" font-size="15.4" text-anchor="middle" fill="#262626">frequency (Hz)</text>
<text transform="translate(1081.1 602.1) rotate(-90)" font-size="15.4" text-anchor="middle" fill="#262626">frequency (Hz)</text>
<rect x="1171.1" y="484.6" width="22.7" height="130.6" fill="url(#parula)" stroke="#555" stroke-width="1"/>
<path d="M1171.1 615.2h2M1171.1 582.6h2M1171.1 549.9h2M1171.1 517.2h2M1171.1 484.6h2" stroke="#262626" stroke-width="1"/>
<text x="1164.8" y="619.5" font-size="12.3" text-anchor="end" fill="#262626">-1</text>
<text x="1164.8" y="586.9" font-size="12.3" text-anchor="end" fill="#262626">-0.5</text>
<text x="1164.8" y="554.2" font-size="12.3" text-anchor="end" fill="#262626">0</text>
<text x="1164.8" y="521.5" font-size="12.3" text-anchor="end" fill="#262626">0.5</text>
<text x="1164.8" y="488.9" font-size="12.3" text-anchor="end" fill="#262626">1</text>
<text x="1172.4" y="481.2" font-size="11.5" fill="#262626">×</text>
<text x="1182.3" y="481.6" font-size="12.8" fill="#262626">10<tspan font-size="10" dy="-5.6">-5</tspan></text>
<defs><linearGradient id="parula" x1="0" y1="1" x2="0" y2="0"><stop offset="0" stop-color="#3c3491"/><stop offset="0.1" stop-color="#4654b0"/><stop offset="0.2" stop-color="#4a6ec6"/><stop offset="0.3" stop-color="#3a8ed8"/><stop offset="0.4" stop-color="#22a6de"/><stop offset="0.5" stop-color="#1fb2b6"/><stop offset="0.58" stop-color="#4cba8c"/><stop offset="0.66" stop-color="#8fc052"/><stop offset="0.75" stop-color="#c4b632"/><stop offset="0.83" stop-color="#f6b040"/><stop offset="0.92" stop-color="#f8d430"/><stop offset="1" stop-color="#f2e820"/></linearGradient></defs>
</svg></body></html>
